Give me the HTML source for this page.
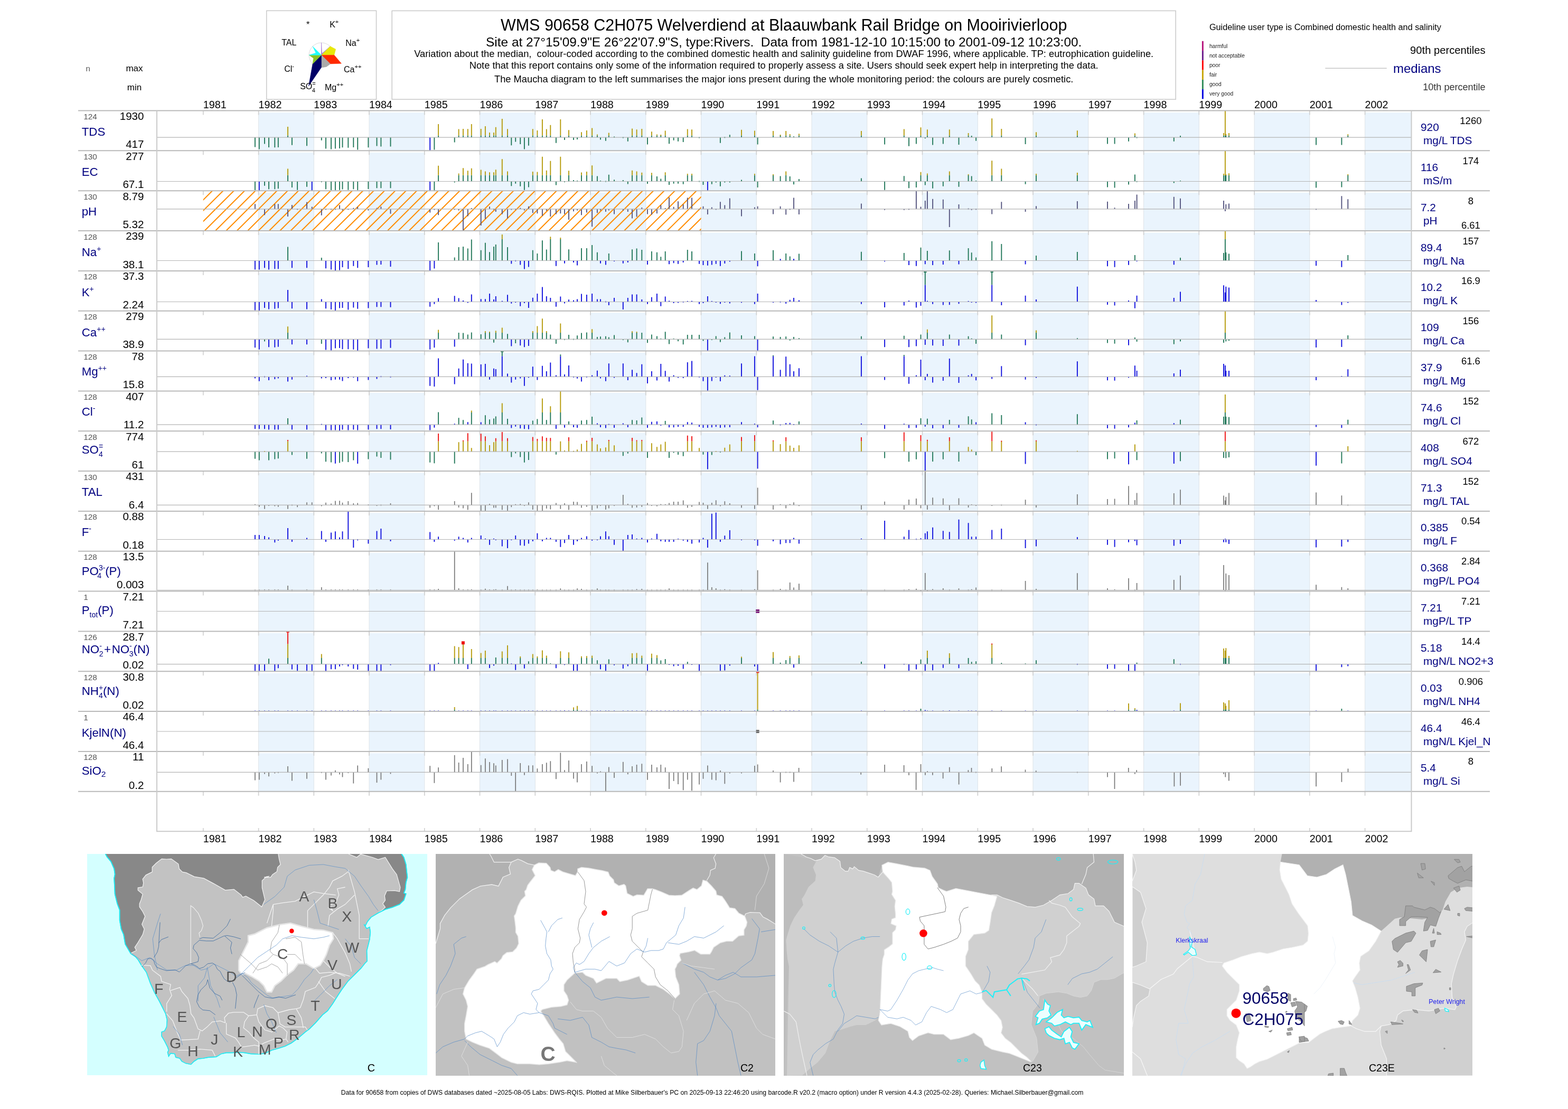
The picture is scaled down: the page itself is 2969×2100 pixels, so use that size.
<!DOCTYPE html><html><head><meta charset="utf-8"><title>WMS 90658 C2H075</title><style>html,body{margin:0;padding:0;background:#fff;overflow:hidden}svg{display:block}</style></head><body>
<svg width="2969" height="2100" viewBox="0 0 2969 2100" font-family="Liberation Sans, Arial, sans-serif">
<rect width="100%" height="100%" fill="#fff"/>
<rect x="489.6" y="213.0" width="104.7" height="72.3" fill="#eaf4fd"/>
<rect x="699.0" y="213.0" width="104.8" height="72.3" fill="#eaf4fd"/>
<rect x="908.5" y="213.0" width="104.8" height="72.3" fill="#eaf4fd"/>
<rect x="1118.0" y="213.0" width="104.8" height="72.3" fill="#eaf4fd"/>
<rect x="1327.5" y="213.0" width="104.8" height="72.3" fill="#eaf4fd"/>
<rect x="1537.0" y="213.0" width="104.8" height="72.3" fill="#eaf4fd"/>
<rect x="1746.5" y="213.0" width="104.8" height="72.3" fill="#eaf4fd"/>
<rect x="1956.0" y="213.0" width="104.8" height="72.3" fill="#eaf4fd"/>
<rect x="2165.6" y="213.0" width="104.8" height="72.3" fill="#eaf4fd"/>
<rect x="2375.1" y="213.0" width="104.8" height="72.3" fill="#eaf4fd"/>
<rect x="2584.6" y="213.0" width="87.9" height="72.3" fill="#eaf4fd"/>
<rect x="489.6" y="288.8" width="104.7" height="72.3" fill="#eaf4fd"/>
<rect x="699.0" y="288.8" width="104.8" height="72.3" fill="#eaf4fd"/>
<rect x="908.5" y="288.8" width="104.8" height="72.3" fill="#eaf4fd"/>
<rect x="1118.0" y="288.8" width="104.8" height="72.3" fill="#eaf4fd"/>
<rect x="1327.5" y="288.8" width="104.8" height="72.3" fill="#eaf4fd"/>
<rect x="1537.0" y="288.8" width="104.8" height="72.3" fill="#eaf4fd"/>
<rect x="1746.5" y="288.8" width="104.8" height="72.3" fill="#eaf4fd"/>
<rect x="1956.0" y="288.8" width="104.8" height="72.3" fill="#eaf4fd"/>
<rect x="2165.6" y="288.8" width="104.8" height="72.3" fill="#eaf4fd"/>
<rect x="2375.1" y="288.8" width="104.8" height="72.3" fill="#eaf4fd"/>
<rect x="2584.6" y="288.8" width="87.9" height="72.3" fill="#eaf4fd"/>
<rect x="489.6" y="364.7" width="104.7" height="72.3" fill="#eaf4fd"/>
<rect x="699.0" y="364.7" width="104.8" height="72.3" fill="#eaf4fd"/>
<rect x="908.5" y="364.7" width="104.8" height="72.3" fill="#eaf4fd"/>
<rect x="1118.0" y="364.7" width="104.8" height="72.3" fill="#eaf4fd"/>
<rect x="1327.5" y="364.7" width="104.8" height="72.3" fill="#eaf4fd"/>
<rect x="1537.0" y="364.7" width="104.8" height="72.3" fill="#eaf4fd"/>
<rect x="1746.5" y="364.7" width="104.8" height="72.3" fill="#eaf4fd"/>
<rect x="1956.0" y="364.7" width="104.8" height="72.3" fill="#eaf4fd"/>
<rect x="2165.6" y="364.7" width="104.8" height="72.3" fill="#eaf4fd"/>
<rect x="2375.1" y="364.7" width="104.8" height="72.3" fill="#eaf4fd"/>
<rect x="2584.6" y="364.7" width="87.9" height="72.3" fill="#eaf4fd"/>
<rect x="489.6" y="440.5" width="104.7" height="72.3" fill="#eaf4fd"/>
<rect x="699.0" y="440.5" width="104.8" height="72.3" fill="#eaf4fd"/>
<rect x="908.5" y="440.5" width="104.8" height="72.3" fill="#eaf4fd"/>
<rect x="1118.0" y="440.5" width="104.8" height="72.3" fill="#eaf4fd"/>
<rect x="1327.5" y="440.5" width="104.8" height="72.3" fill="#eaf4fd"/>
<rect x="1537.0" y="440.5" width="104.8" height="72.3" fill="#eaf4fd"/>
<rect x="1746.5" y="440.5" width="104.8" height="72.3" fill="#eaf4fd"/>
<rect x="1956.0" y="440.5" width="104.8" height="72.3" fill="#eaf4fd"/>
<rect x="2165.6" y="440.5" width="104.8" height="72.3" fill="#eaf4fd"/>
<rect x="2375.1" y="440.5" width="104.8" height="72.3" fill="#eaf4fd"/>
<rect x="2584.6" y="440.5" width="87.9" height="72.3" fill="#eaf4fd"/>
<rect x="489.6" y="516.4" width="104.7" height="72.3" fill="#eaf4fd"/>
<rect x="699.0" y="516.4" width="104.8" height="72.3" fill="#eaf4fd"/>
<rect x="908.5" y="516.4" width="104.8" height="72.3" fill="#eaf4fd"/>
<rect x="1118.0" y="516.4" width="104.8" height="72.3" fill="#eaf4fd"/>
<rect x="1327.5" y="516.4" width="104.8" height="72.3" fill="#eaf4fd"/>
<rect x="1537.0" y="516.4" width="104.8" height="72.3" fill="#eaf4fd"/>
<rect x="1746.5" y="516.4" width="104.8" height="72.3" fill="#eaf4fd"/>
<rect x="1956.0" y="516.4" width="104.8" height="72.3" fill="#eaf4fd"/>
<rect x="2165.6" y="516.4" width="104.8" height="72.3" fill="#eaf4fd"/>
<rect x="2375.1" y="516.4" width="104.8" height="72.3" fill="#eaf4fd"/>
<rect x="2584.6" y="516.4" width="87.9" height="72.3" fill="#eaf4fd"/>
<rect x="489.6" y="592.2" width="104.7" height="72.3" fill="#eaf4fd"/>
<rect x="699.0" y="592.2" width="104.8" height="72.3" fill="#eaf4fd"/>
<rect x="908.5" y="592.2" width="104.8" height="72.3" fill="#eaf4fd"/>
<rect x="1118.0" y="592.2" width="104.8" height="72.3" fill="#eaf4fd"/>
<rect x="1327.5" y="592.2" width="104.8" height="72.3" fill="#eaf4fd"/>
<rect x="1537.0" y="592.2" width="104.8" height="72.3" fill="#eaf4fd"/>
<rect x="1746.5" y="592.2" width="104.8" height="72.3" fill="#eaf4fd"/>
<rect x="1956.0" y="592.2" width="104.8" height="72.3" fill="#eaf4fd"/>
<rect x="2165.6" y="592.2" width="104.8" height="72.3" fill="#eaf4fd"/>
<rect x="2375.1" y="592.2" width="104.8" height="72.3" fill="#eaf4fd"/>
<rect x="2584.6" y="592.2" width="87.9" height="72.3" fill="#eaf4fd"/>
<rect x="489.6" y="668.0" width="104.7" height="72.3" fill="#eaf4fd"/>
<rect x="699.0" y="668.0" width="104.8" height="72.3" fill="#eaf4fd"/>
<rect x="908.5" y="668.0" width="104.8" height="72.3" fill="#eaf4fd"/>
<rect x="1118.0" y="668.0" width="104.8" height="72.3" fill="#eaf4fd"/>
<rect x="1327.5" y="668.0" width="104.8" height="72.3" fill="#eaf4fd"/>
<rect x="1537.0" y="668.0" width="104.8" height="72.3" fill="#eaf4fd"/>
<rect x="1746.5" y="668.0" width="104.8" height="72.3" fill="#eaf4fd"/>
<rect x="1956.0" y="668.0" width="104.8" height="72.3" fill="#eaf4fd"/>
<rect x="2165.6" y="668.0" width="104.8" height="72.3" fill="#eaf4fd"/>
<rect x="2375.1" y="668.0" width="104.8" height="72.3" fill="#eaf4fd"/>
<rect x="2584.6" y="668.0" width="87.9" height="72.3" fill="#eaf4fd"/>
<rect x="489.6" y="743.9" width="104.7" height="72.3" fill="#eaf4fd"/>
<rect x="699.0" y="743.9" width="104.8" height="72.3" fill="#eaf4fd"/>
<rect x="908.5" y="743.9" width="104.8" height="72.3" fill="#eaf4fd"/>
<rect x="1118.0" y="743.9" width="104.8" height="72.3" fill="#eaf4fd"/>
<rect x="1327.5" y="743.9" width="104.8" height="72.3" fill="#eaf4fd"/>
<rect x="1537.0" y="743.9" width="104.8" height="72.3" fill="#eaf4fd"/>
<rect x="1746.5" y="743.9" width="104.8" height="72.3" fill="#eaf4fd"/>
<rect x="1956.0" y="743.9" width="104.8" height="72.3" fill="#eaf4fd"/>
<rect x="2165.6" y="743.9" width="104.8" height="72.3" fill="#eaf4fd"/>
<rect x="2375.1" y="743.9" width="104.8" height="72.3" fill="#eaf4fd"/>
<rect x="2584.6" y="743.9" width="87.9" height="72.3" fill="#eaf4fd"/>
<rect x="489.6" y="819.7" width="104.7" height="72.3" fill="#eaf4fd"/>
<rect x="699.0" y="819.7" width="104.8" height="72.3" fill="#eaf4fd"/>
<rect x="908.5" y="819.7" width="104.8" height="72.3" fill="#eaf4fd"/>
<rect x="1118.0" y="819.7" width="104.8" height="72.3" fill="#eaf4fd"/>
<rect x="1327.5" y="819.7" width="104.8" height="72.3" fill="#eaf4fd"/>
<rect x="1537.0" y="819.7" width="104.8" height="72.3" fill="#eaf4fd"/>
<rect x="1746.5" y="819.7" width="104.8" height="72.3" fill="#eaf4fd"/>
<rect x="1956.0" y="819.7" width="104.8" height="72.3" fill="#eaf4fd"/>
<rect x="2165.6" y="819.7" width="104.8" height="72.3" fill="#eaf4fd"/>
<rect x="2375.1" y="819.7" width="104.8" height="72.3" fill="#eaf4fd"/>
<rect x="2584.6" y="819.7" width="87.9" height="72.3" fill="#eaf4fd"/>
<rect x="489.6" y="895.6" width="104.7" height="72.3" fill="#eaf4fd"/>
<rect x="699.0" y="895.6" width="104.8" height="72.3" fill="#eaf4fd"/>
<rect x="908.5" y="895.6" width="104.8" height="72.3" fill="#eaf4fd"/>
<rect x="1118.0" y="895.6" width="104.8" height="72.3" fill="#eaf4fd"/>
<rect x="1327.5" y="895.6" width="104.8" height="72.3" fill="#eaf4fd"/>
<rect x="1537.0" y="895.6" width="104.8" height="72.3" fill="#eaf4fd"/>
<rect x="1746.5" y="895.6" width="104.8" height="72.3" fill="#eaf4fd"/>
<rect x="1956.0" y="895.6" width="104.8" height="72.3" fill="#eaf4fd"/>
<rect x="2165.6" y="895.6" width="104.8" height="72.3" fill="#eaf4fd"/>
<rect x="2375.1" y="895.6" width="104.8" height="72.3" fill="#eaf4fd"/>
<rect x="2584.6" y="895.6" width="87.9" height="72.3" fill="#eaf4fd"/>
<rect x="489.6" y="971.4" width="104.7" height="72.3" fill="#eaf4fd"/>
<rect x="699.0" y="971.4" width="104.8" height="72.3" fill="#eaf4fd"/>
<rect x="908.5" y="971.4" width="104.8" height="72.3" fill="#eaf4fd"/>
<rect x="1118.0" y="971.4" width="104.8" height="72.3" fill="#eaf4fd"/>
<rect x="1327.5" y="971.4" width="104.8" height="72.3" fill="#eaf4fd"/>
<rect x="1537.0" y="971.4" width="104.8" height="72.3" fill="#eaf4fd"/>
<rect x="1746.5" y="971.4" width="104.8" height="72.3" fill="#eaf4fd"/>
<rect x="1956.0" y="971.4" width="104.8" height="72.3" fill="#eaf4fd"/>
<rect x="2165.6" y="971.4" width="104.8" height="72.3" fill="#eaf4fd"/>
<rect x="2375.1" y="971.4" width="104.8" height="72.3" fill="#eaf4fd"/>
<rect x="2584.6" y="971.4" width="87.9" height="72.3" fill="#eaf4fd"/>
<rect x="489.6" y="1047.2" width="104.7" height="72.3" fill="#eaf4fd"/>
<rect x="699.0" y="1047.2" width="104.8" height="72.3" fill="#eaf4fd"/>
<rect x="908.5" y="1047.2" width="104.8" height="72.3" fill="#eaf4fd"/>
<rect x="1118.0" y="1047.2" width="104.8" height="72.3" fill="#eaf4fd"/>
<rect x="1327.5" y="1047.2" width="104.8" height="72.3" fill="#eaf4fd"/>
<rect x="1537.0" y="1047.2" width="104.8" height="72.3" fill="#eaf4fd"/>
<rect x="1746.5" y="1047.2" width="104.8" height="72.3" fill="#eaf4fd"/>
<rect x="1956.0" y="1047.2" width="104.8" height="72.3" fill="#eaf4fd"/>
<rect x="2165.6" y="1047.2" width="104.8" height="72.3" fill="#eaf4fd"/>
<rect x="2375.1" y="1047.2" width="104.8" height="72.3" fill="#eaf4fd"/>
<rect x="2584.6" y="1047.2" width="87.9" height="72.3" fill="#eaf4fd"/>
<rect x="489.6" y="1123.1" width="104.7" height="72.3" fill="#eaf4fd"/>
<rect x="699.0" y="1123.1" width="104.8" height="72.3" fill="#eaf4fd"/>
<rect x="908.5" y="1123.1" width="104.8" height="72.3" fill="#eaf4fd"/>
<rect x="1118.0" y="1123.1" width="104.8" height="72.3" fill="#eaf4fd"/>
<rect x="1327.5" y="1123.1" width="104.8" height="72.3" fill="#eaf4fd"/>
<rect x="1537.0" y="1123.1" width="104.8" height="72.3" fill="#eaf4fd"/>
<rect x="1746.5" y="1123.1" width="104.8" height="72.3" fill="#eaf4fd"/>
<rect x="1956.0" y="1123.1" width="104.8" height="72.3" fill="#eaf4fd"/>
<rect x="2165.6" y="1123.1" width="104.8" height="72.3" fill="#eaf4fd"/>
<rect x="2375.1" y="1123.1" width="104.8" height="72.3" fill="#eaf4fd"/>
<rect x="2584.6" y="1123.1" width="87.9" height="72.3" fill="#eaf4fd"/>
<rect x="489.6" y="1198.9" width="104.7" height="72.3" fill="#eaf4fd"/>
<rect x="699.0" y="1198.9" width="104.8" height="72.3" fill="#eaf4fd"/>
<rect x="908.5" y="1198.9" width="104.8" height="72.3" fill="#eaf4fd"/>
<rect x="1118.0" y="1198.9" width="104.8" height="72.3" fill="#eaf4fd"/>
<rect x="1327.5" y="1198.9" width="104.8" height="72.3" fill="#eaf4fd"/>
<rect x="1537.0" y="1198.9" width="104.8" height="72.3" fill="#eaf4fd"/>
<rect x="1746.5" y="1198.9" width="104.8" height="72.3" fill="#eaf4fd"/>
<rect x="1956.0" y="1198.9" width="104.8" height="72.3" fill="#eaf4fd"/>
<rect x="2165.6" y="1198.9" width="104.8" height="72.3" fill="#eaf4fd"/>
<rect x="2375.1" y="1198.9" width="104.8" height="72.3" fill="#eaf4fd"/>
<rect x="2584.6" y="1198.9" width="87.9" height="72.3" fill="#eaf4fd"/>
<rect x="489.6" y="1274.8" width="104.7" height="72.3" fill="#eaf4fd"/>
<rect x="699.0" y="1274.8" width="104.8" height="72.3" fill="#eaf4fd"/>
<rect x="908.5" y="1274.8" width="104.8" height="72.3" fill="#eaf4fd"/>
<rect x="1118.0" y="1274.8" width="104.8" height="72.3" fill="#eaf4fd"/>
<rect x="1327.5" y="1274.8" width="104.8" height="72.3" fill="#eaf4fd"/>
<rect x="1537.0" y="1274.8" width="104.8" height="72.3" fill="#eaf4fd"/>
<rect x="1746.5" y="1274.8" width="104.8" height="72.3" fill="#eaf4fd"/>
<rect x="1956.0" y="1274.8" width="104.8" height="72.3" fill="#eaf4fd"/>
<rect x="2165.6" y="1274.8" width="104.8" height="72.3" fill="#eaf4fd"/>
<rect x="2375.1" y="1274.8" width="104.8" height="72.3" fill="#eaf4fd"/>
<rect x="2584.6" y="1274.8" width="87.9" height="72.3" fill="#eaf4fd"/>
<rect x="489.6" y="1350.6" width="104.7" height="72.3" fill="#eaf4fd"/>
<rect x="699.0" y="1350.6" width="104.8" height="72.3" fill="#eaf4fd"/>
<rect x="908.5" y="1350.6" width="104.8" height="72.3" fill="#eaf4fd"/>
<rect x="1118.0" y="1350.6" width="104.8" height="72.3" fill="#eaf4fd"/>
<rect x="1327.5" y="1350.6" width="104.8" height="72.3" fill="#eaf4fd"/>
<rect x="1537.0" y="1350.6" width="104.8" height="72.3" fill="#eaf4fd"/>
<rect x="1746.5" y="1350.6" width="104.8" height="72.3" fill="#eaf4fd"/>
<rect x="1956.0" y="1350.6" width="104.8" height="72.3" fill="#eaf4fd"/>
<rect x="2165.6" y="1350.6" width="104.8" height="72.3" fill="#eaf4fd"/>
<rect x="2375.1" y="1350.6" width="104.8" height="72.3" fill="#eaf4fd"/>
<rect x="2584.6" y="1350.6" width="87.9" height="72.3" fill="#eaf4fd"/>
<rect x="489.6" y="1426.4" width="104.7" height="72.3" fill="#eaf4fd"/>
<rect x="699.0" y="1426.4" width="104.8" height="72.3" fill="#eaf4fd"/>
<rect x="908.5" y="1426.4" width="104.8" height="72.3" fill="#eaf4fd"/>
<rect x="1118.0" y="1426.4" width="104.8" height="72.3" fill="#eaf4fd"/>
<rect x="1327.5" y="1426.4" width="104.8" height="72.3" fill="#eaf4fd"/>
<rect x="1537.0" y="1426.4" width="104.8" height="72.3" fill="#eaf4fd"/>
<rect x="1746.5" y="1426.4" width="104.8" height="72.3" fill="#eaf4fd"/>
<rect x="1956.0" y="1426.4" width="104.8" height="72.3" fill="#eaf4fd"/>
<rect x="2165.6" y="1426.4" width="104.8" height="72.3" fill="#eaf4fd"/>
<rect x="2375.1" y="1426.4" width="104.8" height="72.3" fill="#eaf4fd"/>
<rect x="2584.6" y="1426.4" width="87.9" height="72.3" fill="#eaf4fd"/>
<path d="M489.6 209.5V1498.8M594.3 209.5V1498.8M699.0 209.5V1498.8M803.8 209.5V1498.8M908.5 209.5V1498.8M1013.3 209.5V1498.8M1118.0 209.5V1498.8M1222.8 209.5V1498.8M1327.5 209.5V1498.8M1432.3 209.5V1498.8M1537.0 209.5V1498.8M1641.8 209.5V1498.8M1746.5 209.5V1498.8M1851.3 209.5V1498.8M1956.0 209.5V1498.8M2060.8 209.5V1498.8M2165.6 209.5V1498.8M2270.3 209.5V1498.8M2375.1 209.5V1498.8M2479.8 209.5V1498.8M2584.6 209.5V1498.8" stroke="#dde3e8" stroke-width="1" fill="none"/>
<path d="M384.8 209.5v8M489.6 209.5v8M594.3 209.5v8M699.0 209.5v8M803.8 209.5v8M908.5 209.5v8M1013.3 209.5v8M1118.0 209.5v8M1222.8 209.5v8M1327.5 209.5v8M1432.3 209.5v8M1537.0 209.5v8M1641.8 209.5v8M1746.5 209.5v8M1851.3 209.5v8M1956.0 209.5v8M2060.8 209.5v8M2165.6 209.5v8M2270.3 209.5v8M2375.1 209.5v8M2479.8 209.5v8M2584.6 209.5v8M384.8 285.3v8M489.6 285.3v8M594.3 285.3v8M699.0 285.3v8M803.8 285.3v8M908.5 285.3v8M1013.3 285.3v8M1118.0 285.3v8M1222.8 285.3v8M1327.5 285.3v8M1432.3 285.3v8M1537.0 285.3v8M1641.8 285.3v8M1746.5 285.3v8M1851.3 285.3v8M1956.0 285.3v8M2060.8 285.3v8M2165.6 285.3v8M2270.3 285.3v8M2375.1 285.3v8M2479.8 285.3v8M2584.6 285.3v8M384.8 361.2v8M489.6 361.2v8M594.3 361.2v8M699.0 361.2v8M803.8 361.2v8M908.5 361.2v8M1013.3 361.2v8M1118.0 361.2v8M1222.8 361.2v8M1327.5 361.2v8M1432.3 361.2v8M1537.0 361.2v8M1641.8 361.2v8M1746.5 361.2v8M1851.3 361.2v8M1956.0 361.2v8M2060.8 361.2v8M2165.6 361.2v8M2270.3 361.2v8M2375.1 361.2v8M2479.8 361.2v8M2584.6 361.2v8M384.8 437.0v8M489.6 437.0v8M594.3 437.0v8M699.0 437.0v8M803.8 437.0v8M908.5 437.0v8M1013.3 437.0v8M1118.0 437.0v8M1222.8 437.0v8M1327.5 437.0v8M1432.3 437.0v8M1537.0 437.0v8M1641.8 437.0v8M1746.5 437.0v8M1851.3 437.0v8M1956.0 437.0v8M2060.8 437.0v8M2165.6 437.0v8M2270.3 437.0v8M2375.1 437.0v8M2479.8 437.0v8M2584.6 437.0v8M384.8 512.9v8M489.6 512.9v8M594.3 512.9v8M699.0 512.9v8M803.8 512.9v8M908.5 512.9v8M1013.3 512.9v8M1118.0 512.9v8M1222.8 512.9v8M1327.5 512.9v8M1432.3 512.9v8M1537.0 512.9v8M1641.8 512.9v8M1746.5 512.9v8M1851.3 512.9v8M1956.0 512.9v8M2060.8 512.9v8M2165.6 512.9v8M2270.3 512.9v8M2375.1 512.9v8M2479.8 512.9v8M2584.6 512.9v8M384.8 588.7v8M489.6 588.7v8M594.3 588.7v8M699.0 588.7v8M803.8 588.7v8M908.5 588.7v8M1013.3 588.7v8M1118.0 588.7v8M1222.8 588.7v8M1327.5 588.7v8M1432.3 588.7v8M1537.0 588.7v8M1641.8 588.7v8M1746.5 588.7v8M1851.3 588.7v8M1956.0 588.7v8M2060.8 588.7v8M2165.6 588.7v8M2270.3 588.7v8M2375.1 588.7v8M2479.8 588.7v8M2584.6 588.7v8M384.8 664.5v8M489.6 664.5v8M594.3 664.5v8M699.0 664.5v8M803.8 664.5v8M908.5 664.5v8M1013.3 664.5v8M1118.0 664.5v8M1222.8 664.5v8M1327.5 664.5v8M1432.3 664.5v8M1537.0 664.5v8M1641.8 664.5v8M1746.5 664.5v8M1851.3 664.5v8M1956.0 664.5v8M2060.8 664.5v8M2165.6 664.5v8M2270.3 664.5v8M2375.1 664.5v8M2479.8 664.5v8M2584.6 664.5v8M384.8 740.4v8M489.6 740.4v8M594.3 740.4v8M699.0 740.4v8M803.8 740.4v8M908.5 740.4v8M1013.3 740.4v8M1118.0 740.4v8M1222.8 740.4v8M1327.5 740.4v8M1432.3 740.4v8M1537.0 740.4v8M1641.8 740.4v8M1746.5 740.4v8M1851.3 740.4v8M1956.0 740.4v8M2060.8 740.4v8M2165.6 740.4v8M2270.3 740.4v8M2375.1 740.4v8M2479.8 740.4v8M2584.6 740.4v8M384.8 816.2v8M489.6 816.2v8M594.3 816.2v8M699.0 816.2v8M803.8 816.2v8M908.5 816.2v8M1013.3 816.2v8M1118.0 816.2v8M1222.8 816.2v8M1327.5 816.2v8M1432.3 816.2v8M1537.0 816.2v8M1641.8 816.2v8M1746.5 816.2v8M1851.3 816.2v8M1956.0 816.2v8M2060.8 816.2v8M2165.6 816.2v8M2270.3 816.2v8M2375.1 816.2v8M2479.8 816.2v8M2584.6 816.2v8M384.8 892.1v8M489.6 892.1v8M594.3 892.1v8M699.0 892.1v8M803.8 892.1v8M908.5 892.1v8M1013.3 892.1v8M1118.0 892.1v8M1222.8 892.1v8M1327.5 892.1v8M1432.3 892.1v8M1537.0 892.1v8M1641.8 892.1v8M1746.5 892.1v8M1851.3 892.1v8M1956.0 892.1v8M2060.8 892.1v8M2165.6 892.1v8M2270.3 892.1v8M2375.1 892.1v8M2479.8 892.1v8M2584.6 892.1v8M384.8 967.9v8M489.6 967.9v8M594.3 967.9v8M699.0 967.9v8M803.8 967.9v8M908.5 967.9v8M1013.3 967.9v8M1118.0 967.9v8M1222.8 967.9v8M1327.5 967.9v8M1432.3 967.9v8M1537.0 967.9v8M1641.8 967.9v8M1746.5 967.9v8M1851.3 967.9v8M1956.0 967.9v8M2060.8 967.9v8M2165.6 967.9v8M2270.3 967.9v8M2375.1 967.9v8M2479.8 967.9v8M2584.6 967.9v8M384.8 1043.7v8M489.6 1043.7v8M594.3 1043.7v8M699.0 1043.7v8M803.8 1043.7v8M908.5 1043.7v8M1013.3 1043.7v8M1118.0 1043.7v8M1222.8 1043.7v8M1327.5 1043.7v8M1432.3 1043.7v8M1537.0 1043.7v8M1641.8 1043.7v8M1746.5 1043.7v8M1851.3 1043.7v8M1956.0 1043.7v8M2060.8 1043.7v8M2165.6 1043.7v8M2270.3 1043.7v8M2375.1 1043.7v8M2479.8 1043.7v8M2584.6 1043.7v8M384.8 1119.6v8M489.6 1119.6v8M594.3 1119.6v8M699.0 1119.6v8M803.8 1119.6v8M908.5 1119.6v8M1013.3 1119.6v8M1118.0 1119.6v8M1222.8 1119.6v8M1327.5 1119.6v8M1432.3 1119.6v8M1537.0 1119.6v8M1641.8 1119.6v8M1746.5 1119.6v8M1851.3 1119.6v8M1956.0 1119.6v8M2060.8 1119.6v8M2165.6 1119.6v8M2270.3 1119.6v8M2375.1 1119.6v8M2479.8 1119.6v8M2584.6 1119.6v8M384.8 1195.4v8M489.6 1195.4v8M594.3 1195.4v8M699.0 1195.4v8M803.8 1195.4v8M908.5 1195.4v8M1013.3 1195.4v8M1118.0 1195.4v8M1222.8 1195.4v8M1327.5 1195.4v8M1432.3 1195.4v8M1537.0 1195.4v8M1641.8 1195.4v8M1746.5 1195.4v8M1851.3 1195.4v8M1956.0 1195.4v8M2060.8 1195.4v8M2165.6 1195.4v8M2270.3 1195.4v8M2375.1 1195.4v8M2479.8 1195.4v8M2584.6 1195.4v8M384.8 1271.3v8M489.6 1271.3v8M594.3 1271.3v8M699.0 1271.3v8M803.8 1271.3v8M908.5 1271.3v8M1013.3 1271.3v8M1118.0 1271.3v8M1222.8 1271.3v8M1327.5 1271.3v8M1432.3 1271.3v8M1537.0 1271.3v8M1641.8 1271.3v8M1746.5 1271.3v8M1851.3 1271.3v8M1956.0 1271.3v8M2060.8 1271.3v8M2165.6 1271.3v8M2270.3 1271.3v8M2375.1 1271.3v8M2479.8 1271.3v8M2584.6 1271.3v8M384.8 1347.1v8M489.6 1347.1v8M594.3 1347.1v8M699.0 1347.1v8M803.8 1347.1v8M908.5 1347.1v8M1013.3 1347.1v8M1118.0 1347.1v8M1222.8 1347.1v8M1327.5 1347.1v8M1432.3 1347.1v8M1537.0 1347.1v8M1641.8 1347.1v8M1746.5 1347.1v8M1851.3 1347.1v8M1956.0 1347.1v8M2060.8 1347.1v8M2165.6 1347.1v8M2270.3 1347.1v8M2375.1 1347.1v8M2479.8 1347.1v8M2584.6 1347.1v8M384.8 1422.9v8M489.6 1422.9v8M594.3 1422.9v8M699.0 1422.9v8M803.8 1422.9v8M908.5 1422.9v8M1013.3 1422.9v8M1118.0 1422.9v8M1222.8 1422.9v8M1327.5 1422.9v8M1432.3 1422.9v8M1537.0 1422.9v8M1641.8 1422.9v8M1746.5 1422.9v8M1851.3 1422.9v8M1956.0 1422.9v8M2060.8 1422.9v8M2165.6 1422.9v8M2270.3 1422.9v8M2375.1 1422.9v8M2479.8 1422.9v8M2584.6 1422.9v8M384.8 1498.8v8M489.6 1498.8v8M594.3 1498.8v8M699.0 1498.8v8M803.8 1498.8v8M908.5 1498.8v8M1013.3 1498.8v8M1118.0 1498.8v8M1222.8 1498.8v8M1327.5 1498.8v8M1432.3 1498.8v8M1537.0 1498.8v8M1641.8 1498.8v8M1746.5 1498.8v8M1851.3 1498.8v8M1956.0 1498.8v8M2060.8 1498.8v8M2165.6 1498.8v8M2270.3 1498.8v8M2375.1 1498.8v8M2479.8 1498.8v8M2584.6 1498.8v8M384.8 1574v-6M489.6 1574v-6M594.3 1574v-6M699.0 1574v-6M803.8 1574v-6M908.5 1574v-6M1013.3 1574v-6M1118.0 1574v-6M1222.8 1574v-6M1327.5 1574v-6M1432.3 1574v-6M1537.0 1574v-6M1641.8 1574v-6M1746.5 1574v-6M1851.3 1574v-6M1956.0 1574v-6M2060.8 1574v-6M2165.6 1574v-6M2270.3 1574v-6M2375.1 1574v-6M2479.8 1574v-6M2584.6 1574v-6" stroke="#d2d2d2" stroke-width="1.8" fill="none"/>
<clipPath id="phc"><rect x="384.8" y="361.2" width="942.8" height="75.8"/></clipPath>
<path clip-path="url(#phc)" d="M265.2 437.0L341.0 361.2M285.5 437.0L361.4 361.2M305.9 437.0L381.8 361.2M326.3 437.0L402.1 361.2M346.7 437.0L422.5 361.2M367.0 437.0L442.9 361.2M387.4 437.0L463.2 361.2M407.8 437.0L483.6 361.2M428.1 437.0L504.0 361.2M448.5 437.0L524.4 361.2M468.9 437.0L544.7 361.2M489.2 437.0L565.1 361.2M509.6 437.0L585.5 361.2M530.0 437.0L605.8 361.2M550.4 437.0L626.2 361.2M570.7 437.0L646.6 361.2M591.1 437.0L666.9 361.2M611.5 437.0L687.3 361.2M631.8 437.0L707.7 361.2M652.2 437.0L728.1 361.2M672.6 437.0L748.4 361.2M693.0 437.0L768.8 361.2M713.3 437.0L789.2 361.2M733.7 437.0L809.5 361.2M754.1 437.0L829.9 361.2M774.4 437.0L850.3 361.2M794.8 437.0L870.6 361.2M815.2 437.0L891.0 361.2M835.5 437.0L911.4 361.2M855.9 437.0L931.8 361.2M876.3 437.0L952.1 361.2M896.7 437.0L972.5 361.2M917.0 437.0L992.9 361.2M937.4 437.0L1013.2 361.2M957.8 437.0L1033.6 361.2M978.1 437.0L1054.0 361.2M998.5 437.0L1074.3 361.2M1018.9 437.0L1094.7 361.2M1039.2 437.0L1115.1 361.2M1059.6 437.0L1135.4 361.2M1080.0 437.0L1155.8 361.2M1100.3 437.0L1176.2 361.2M1120.7 437.0L1196.6 361.2M1141.1 437.0L1216.9 361.2M1161.5 437.0L1237.3 361.2M1181.8 437.0L1257.7 361.2M1202.2 437.0L1278.0 361.2M1222.6 437.0L1298.4 361.2M1242.9 437.0L1318.8 361.2M1263.3 437.0L1339.1 361.2M1283.7 437.0L1359.5 361.2M1304.0 437.0L1379.9 361.2M1324.4 437.0L1400.3 361.2" stroke="#ff8c00" stroke-width="2" fill="none"/>
<path d="M482.9 260.1V278.6M490.8 260.1V282.5M501.0 260.1V272.5M509.0 260.1V279.1M520.3 260.1V279.3M526.8 260.1V279.1M545.0 260.1V256.6M552.9 260.1V274.8M581.0 260.1V276.3M608.8 260.1V265.7M617.0 260.1V281.6M627.0 260.1V282.5M634.9 260.1V281.6M643.0 260.1V280.9M648.5 260.1V279.3M659.3 260.1V279.7M669.3 260.1V279.1M677.2 260.1V283.6M697.4 260.1V279.3M713.5 260.1V276.6M721.4 260.1V277.5M739.5 260.1V277.5M822.4 260.1V283.6M830.1 260.1V256.6M860.7 260.1V269.5M868.6 260.1V256.6M877.0 260.1V256.6M885.8 260.1V256.6M892.8 260.1V256.6M910.7 260.1V256.6M918.9 260.1V256.6M927.0 260.1V256.6M935.0 260.1V256.6M938.8 260.1V256.6M950.8 260.1V256.6M961.0 260.1V256.6M968.3 260.1V275.2M976.2 260.1V268.4M985.2 260.1V272.9M992.9 260.1V282.5M1000.9 260.1V275.7M1008.8 260.1V256.6M1017.4 260.1V256.6M1026.9 260.1V256.6M1034.8 260.1V256.6M1042.3 260.1V256.6M1052.9 260.1V270.7M1061.3 260.1V256.6M1069.0 260.1V265.0M1077.0 260.1V256.6M1086.0 260.1V265.0M1093.0 260.1V263.9M1101.0 260.1V256.6M1110.9 260.1V256.6M1121.1 260.1V256.6M1130.9 260.1V256.6M1137.0 260.1V264.6M1146.9 260.1V266.8M1152.8 260.1V256.6M1163.0 258.5V260.5M1179.8 259.6V261.6M1188.8 260.1V267.7M1197.0 260.1V256.6M1205.6 260.1V256.6M1215.3 260.1V256.6M1226.0 260.1V273.4M1233.9 260.1V256.6M1243.9 260.1V256.6M1251.3 260.1V256.6M1259.7 260.1V256.6M1267.0 260.1V272.3M1275.6 260.1V265.7M1284.0 260.1V267.7M1293.7 260.1V269.1M1301.8 260.1V256.6M1310.0 260.1V256.6M1324.0 259.6V261.6M1363.9 260.1V270.7M1372.3 259.3V261.3M1381.8 260.1V255.3M1404.0 260.1V256.6M1428.9 260.1V256.6M1434.6 260.1V273.4M1464.0 260.1V256.6M1477.6 260.1V256.6M1488.2 260.1V256.6M1495.7 260.1V256.6M1503.0 260.1V258.2M1512.9 260.1V256.6M1630.9 260.1V256.6M1675.1 260.1V273.6M1711.8 260.1V256.6M1721.0 260.1V276.8M1734.9 260.1V272.5M1743.5 260.1V256.6M1751.8 260.1V262.3M1755.9 260.1V256.6M1766.1 260.1V274.5M1785.8 260.1V272.5M1797.8 260.1V256.6M1815.5 260.1V274.1M1833.6 260.1V256.6M1839.7 260.1V257.1M1848.1 260.1V266.8M1878.2 260.1V256.6M1896.3 260.1V256.6M1941.6 260.1V272.9M1962.0 260.1V256.6M2039.9 260.1V256.6M2097.0 260.1V272.6M2110.6 260.1V272.6M2137.0 260.1V267.7M2148.9 260.1V256.6M2152.6 259.6V261.6M2222.8 260.1V267.7M2235.0 260.1V257.0M2317.0 260.1V256.6M2319.9 260.1V256.6M2321.3 260.1V256.6M2327.0 260.1V256.6M2492.1 260.1V274.5M2540.4 260.1V274.5M2552.3 260.1V256.6M482.9 343.5V360.1M501.0 343.5V351.8M509.0 343.5V358.3M520.3 343.5V358.3M526.8 343.5V357.2M545.0 343.5V331.8M552.9 343.5V354.9M563.1 343.5V359.7M581.0 343.5V353.8M608.8 342.9V344.9M617.0 343.5V358.3M627.0 343.5V360.1M634.9 343.5V360.1M643.0 343.5V359.7M648.5 343.5V358.6M659.3 343.5V359.7M669.3 343.5V358.3M677.2 343.5V360.1M697.4 343.5V357.9M713.5 343.5V356.3M721.4 343.5V356.3M739.5 343.5V356.3M822.4 343.5V360.8M830.1 343.5V331.8M860.7 343.5V345.4M868.6 343.5V331.8M877.0 343.5V331.8M885.8 343.5V331.8M892.8 343.5V331.8M910.7 343.5V331.8M918.9 343.5V331.8M927.0 343.5V331.8M935.0 343.5V331.8M938.8 343.5V331.8M950.8 343.5V331.8M961.0 343.5V331.8M968.3 343.5V352.2M976.2 343.5V347.7M985.2 343.5V352.7M992.9 343.5V359.7M1000.9 343.5V354.5M1008.8 343.5V331.8M1017.4 343.5V331.8M1026.9 343.5V331.8M1034.8 343.5V331.8M1042.3 343.5V331.8M1052.9 343.5V350.6M1061.3 343.5V331.8M1069.0 342.9V344.9M1077.0 343.5V331.8M1086.0 343.5V340.9M1093.0 342.1V344.1M1101.0 343.5V331.8M1110.9 343.5V331.8M1121.1 343.5V331.8M1130.9 343.5V333.6M1137.0 341.9V343.9M1146.9 342.6V344.6M1152.8 343.5V330.7M1163.0 343.5V340.2M1179.8 343.5V340.9M1188.8 343.5V348.4M1197.0 343.5V331.8M1205.6 343.5V331.8M1215.3 343.5V331.8M1226.0 343.5V348.1M1233.9 343.5V331.8M1243.9 343.5V334.1M1251.3 343.5V338.6M1259.7 343.5V331.8M1267.0 343.5V349.9M1275.6 343.5V347.7M1284.0 343.5V347.7M1293.7 343.5V348.8M1301.8 343.5V331.8M1310.0 343.5V331.8M1324.0 342.6V344.6M1331.5 343.5V349.9M1347.8 343.5V348.8M1355.7 343.5V345.4M1363.9 343.5V352.7M1372.3 343.5V345.4M1381.8 343.5V345.4M1404.0 343.5V340.4M1428.9 343.5V331.8M1434.6 343.5V354.9M1464.0 343.5V331.8M1477.6 343.5V333.6M1488.2 343.5V331.8M1495.7 343.5V334.1M1503.0 343.5V349.3M1512.9 343.5V339.1M1630.9 343.5V337.5M1675.1 343.5V359.7M1711.8 343.5V333.2M1721.0 343.5V356.3M1734.9 343.5V354.9M1743.5 343.5V331.8M1751.8 343.5V350.6M1755.9 343.5V331.8M1766.1 343.5V356.7M1785.8 343.5V352.7M1797.8 343.5V331.8M1815.5 343.5V353.8M1833.6 343.5V331.8M1839.7 343.5V333.6M1848.1 341.9V343.9M1878.2 343.5V331.8M1896.3 343.5V331.8M1941.6 343.5V348.8M1962.0 343.5V331.8M2039.9 343.5V331.8M2097.0 343.5V354.5M2110.6 343.5V355.5M2137.0 343.5V349.4M2148.9 343.5V330.6M2152.6 342.8V344.8M2222.8 343.5V346.5M2235.0 341.9V343.9M2317.0 343.5V331.8M2319.9 343.5V331.8M2321.3 343.5V331.8M2327.0 343.5V331.8M2492.1 343.5V355.5M2540.4 343.5V354.5M2552.3 343.5V331.8M509.0 1257.6V1247.2M545.0 1257.6V1246.0M608.8 1257.6V1246.0M860.7 1257.6V1246.0M868.6 1257.6V1246.0M877.0 1257.6V1246.0M892.8 1257.6V1246.0M910.7 1257.6V1246.0M918.9 1257.6V1246.0M938.8 1257.6V1245.0M950.8 1257.6V1246.0M961.0 1257.6V1246.0M985.2 1257.6V1246.0M1000.9 1257.6V1252.2M1008.8 1257.6V1246.0M1017.4 1257.6V1246.0M1026.9 1257.6V1246.0M1034.8 1257.6V1246.0M1042.3 1256.0V1258.0M1061.3 1257.6V1246.0M1077.0 1257.6V1246.0M1101.0 1257.6V1246.0M1110.9 1257.6V1246.0M1121.1 1257.6V1246.0M1130.9 1257.6V1250.2M1152.8 1257.6V1248.4M1197.0 1257.6V1246.0M1205.6 1257.6V1246.0M1215.3 1257.6V1246.0M1233.9 1257.6V1246.0M1243.9 1257.6V1246.0M1251.3 1257.6V1250.6M1259.7 1257.6V1247.9M1301.8 1257.6V1253.3M1404.0 1257.6V1246.0M1464.0 1257.6V1246.0M1477.6 1257.6V1254.7M1488.2 1257.6V1249.9M1495.7 1257.6V1246.0M1512.9 1257.6V1246.0M1630.9 1257.6V1252.9M1743.5 1257.6V1248.8M1755.9 1257.6V1246.0M1797.8 1257.6V1246.0M1833.6 1257.6V1246.1M1839.7 1257.6V1253.3M1848.1 1257.6V1252.2M1878.2 1257.6V1246.0M1896.3 1257.6V1255.2M1941.6 1256.3V1258.3M1962.0 1257.6V1250.2M2152.6 1257.6V1254.8M2222.8 1257.6V1248.2M2317.0 1257.6V1246.0M2319.9 1257.6V1246.0M2321.3 1257.6V1246.0M2327.0 1257.6V1246.0M860.7 1347.1V1343.4M1086.0 1347.1V1343.4M1093.0 1347.1V1343.4M1434.6 1347.1V1343.4M1743.5 1347.1V1341.9M2137.0 1347.1V1343.4M2148.9 1347.1V1343.4M2235.0 1347.1V1343.4M2317.0 1347.1V1343.4M2319.9 1347.1V1343.4M2321.3 1347.1V1343.4M2327.0 1347.1V1343.4M2540.4 1347.1V1341.9M545.0 493.5V467.4M608.8 493.5V488.0M830.1 493.5V459.0M860.7 493.5V487.4M868.6 493.5V468.1M877.0 493.5V467.0M885.8 493.5V470.4M892.8 493.5V453.4M910.7 493.5V473.8M918.9 493.5V459.7M927.0 493.5V477.2M935.0 493.5V467.0M938.8 493.5V462.9M950.8 493.5V453.0M961.0 493.5V468.1M1008.8 493.5V473.8M1017.4 493.5V480.1M1026.9 493.5V455.2M1034.8 493.5V472.6M1042.3 493.5V453.0M1061.3 493.5V453.0M1077.0 493.5V472.2M1101.0 493.5V469.9M1110.9 493.5V469.9M1121.1 493.5V464.0M1130.9 493.5V477.8M1152.8 493.5V480.1M1197.0 493.5V472.2M1205.6 493.5V470.4M1215.3 493.5V473.1M1233.9 493.5V476.0M1243.9 493.5V477.8M1251.3 493.5V486.2M1259.7 493.5V476.0M1301.8 493.5V473.1M1310.0 493.5V476.0M1404.0 493.5V475.6M1428.9 493.5V479.9M1464.0 493.5V473.8M1488.2 493.5V479.9M1495.7 493.5V485.5M1512.9 493.5V480.6M1630.9 493.5V476.7M1711.8 493.5V479.0M1743.5 493.5V468.8M1755.9 493.5V474.9M1797.8 493.5V474.2M1833.6 493.5V469.9M1839.7 493.5V478.3M1848.1 493.5V487.4M1878.2 493.5V456.8M1896.3 493.5V462.0M1962.0 493.5V484.0M2039.9 493.5V476.9M2148.9 493.5V483.0M2235.0 493.5V487.9M2317.0 493.5V478.9M2319.9 493.5V453.0M2321.3 493.5V478.1M2327.0 493.5V480.6M2552.3 493.5V483.0M1751.8 539.4V514.5M1749.1 515.3H1754.5M1878.2 539.4V514.5M1875.5 515.3H1880.9M501.0 642.4V646.6M545.0 642.4V630.0M608.8 642.4V650.9M830.1 642.4V630.0M868.6 642.4V630.0M877.0 642.4V630.5M885.8 642.4V633.4M892.8 642.4V629.4M910.7 642.4V633.0M918.9 642.4V630.0M927.0 642.4V630.0M935.0 642.4V648.8M938.8 642.4V630.0M950.8 642.4V630.0M961.0 642.4V632.3M976.2 642.4V650.0M1008.8 642.4V630.0M1017.4 642.4V630.0M1026.9 642.4V630.0M1034.8 642.4V630.0M1042.3 642.4V633.4M1052.9 642.4V650.9M1061.3 642.4V630.0M1069.0 641.8V643.8M1077.0 642.4V633.9M1086.0 641.4V643.4M1093.0 642.4V635.2M1101.0 642.4V630.5M1110.9 642.4V629.4M1121.1 642.4V630.0M1130.9 642.4V638.0M1137.0 642.4V637.3M1146.9 642.4V636.8M1152.8 642.4V638.4M1163.0 642.4V634.6M1179.8 642.0V644.0M1188.8 642.4V648.2M1197.0 642.4V630.0M1205.6 642.4V630.0M1215.3 642.4V630.0M1226.0 642.4V649.3M1233.9 642.4V633.4M1243.9 642.4V636.4M1251.3 641.1V643.1M1259.7 642.4V628.2M1267.0 642.4V651.6M1275.6 641.1V643.1M1284.0 642.4V646.3M1293.7 642.4V652.2M1301.8 642.4V633.9M1310.0 642.4V633.9M1324.0 642.4V633.9M1331.5 642.4V645.4M1347.8 642.0V644.0M1355.7 642.4V636.4M1363.9 642.4V647.7M1372.3 642.4V638.4M1381.8 642.4V629.4M1404.0 642.4V635.0M1428.9 642.4V636.4M1464.0 642.4V637.3M1477.6 642.4V638.0M1488.2 642.4V637.3M1495.7 642.4V644.8M1503.0 642.4V638.0M1512.9 642.4V640.2M1630.9 642.4V636.8M1711.8 642.4V635.7M1743.5 642.4V633.4M1755.9 642.4V630.0M1797.8 642.4V633.4M1833.6 642.4V636.8M1839.7 640.7V642.7M1848.1 642.4V650.9M1878.2 642.4V630.0M1896.3 642.4V633.4M1962.0 642.4V630.0M2039.9 642.4V640.3M2097.0 642.4V649.6M2110.6 642.4V650.8M2148.9 642.4V639.1M2152.6 642.4V647.1M2222.8 642.4V651.8M2235.0 642.4V646.4M2317.0 642.4V648.9M2319.9 642.4V630.0M2321.3 642.4V646.4M2327.0 642.4V645.2M2552.3 642.4V635.0M950.8 674.6V665.1M948.1 665.9H953.5M1061.3 674.6V671.2M1464.0 672.8V674.8M1711.8 674.6V671.9M545.0 804.1V791.9M830.1 804.1V780.6M868.6 804.1V791.2M877.0 804.1V795.3M892.8 804.1V781.0M918.9 804.1V786.2M927.0 804.1V794.2M935.0 804.1V792.4M938.8 804.1V788.5M950.8 804.1V781.0M961.0 804.1V793.0M1008.8 804.1V796.4M1017.4 804.1V793.5M1026.9 804.1V781.0M1034.8 804.1V795.3M1042.3 804.1V781.0M1061.3 804.1V781.0M1077.0 804.1V798.0M1101.0 804.1V796.2M1110.9 804.1V795.3M1121.1 804.1V789.0M1197.0 804.1V795.3M1205.6 804.1V796.0M1215.3 804.1V790.5M1259.7 804.1V796.9M1464.0 804.1V796.2M1512.9 804.1V798.0M1743.5 804.1V791.9M1755.9 804.1V792.8M1797.8 804.1V795.1M1833.6 804.1V788.3M1839.7 804.1V794.2M1878.2 804.1V782.6M1896.3 804.1V786.0M2039.9 804.1V784.2M2152.6 804.1V795.9M2235.0 804.1V794.7M2317.0 804.1V789.0M2319.9 804.1V781.0M2321.3 804.1V789.0M2327.0 804.1V789.8M2552.3 804.1V794.7M482.9 855.2V868.7M490.8 855.2V871.6M509.0 855.2V871.6M520.3 855.2V869.4M526.8 855.2V868.2M552.9 855.2V861.4M581.0 855.2V868.7M608.8 855.2V858.5M617.0 855.2V874.3M627.0 855.2V875.5M643.0 855.2V876.6M648.5 855.2V874.3M659.3 855.2V875.0M669.3 855.2V871.6M697.4 855.2V869.4M713.5 855.2V864.4M721.4 855.2V867.1M739.5 855.2V870.5M814.2 855.2V875.7M822.4 855.2V877.3M860.7 855.2V877.7M968.3 855.2V865.5M976.2 855.2V858.5M985.2 855.2V865.5M992.9 855.2V875.7M1000.9 855.2V870.9M1052.9 855.2V860.8M1179.8 855.2V863.2M1188.8 855.2V858.7M1226.0 855.2V867.1M1267.0 855.2V867.1M1275.6 855.2V857.6M1284.0 855.2V861.0M1293.7 855.2V863.7M1331.5 855.2V860.8M1347.8 855.2V861.4M1363.9 854.7V856.7M1675.1 855.2V867.5M1721.0 855.2V874.3M1734.9 855.2V869.8M1766.1 855.2V873.9M1785.8 855.2V869.8M1815.5 855.2V873.9M1848.1 855.2V861.9M2097.0 855.2V869.5M2110.6 855.2V868.3M2152.6 855.2V871.2M2235.0 855.2V873.2M2317.0 855.2V867.1M2321.3 855.2V867.6M2327.0 855.2V865.9M2540.4 855.2V877.6" stroke="#23785a" stroke-width="1.9" fill="none"/>
<path d="M545.0 256.6V240.1M830.1 256.6V235.1M868.6 256.6V244.6M877.0 256.6V244.0M885.8 256.6V244.2M892.8 256.6V235.1M910.7 256.6V244.0M918.9 256.6V239.0M927.0 256.6V251.0M935.0 256.6V251.0M938.8 256.6V240.8M950.8 256.6V224.9M961.0 256.6V244.2M1008.8 256.6V244.2M1017.4 256.6V246.9M1026.9 256.6V226.1M1034.8 256.6V244.6M1042.3 256.6V236.7M1061.3 256.6V226.1M1077.0 256.6V246.2M1101.0 256.6V250.3M1110.9 256.6V246.9M1121.1 256.6V242.4M1130.9 256.6V254.4M1152.8 256.6V251.4M1197.0 256.6V243.5M1205.6 256.6V245.3M1215.3 256.6V244.0M1233.9 256.6V249.2M1243.9 256.6V254.4M1251.3 254.9V256.9M1259.7 256.6V247.4M1301.8 256.6V244.6M1310.0 256.6V245.3M1404.0 256.6V245.8M1428.9 256.6V247.4M1464.0 256.6V248.0M1477.6 254.9V256.9M1488.2 256.6V248.0M1495.7 256.6V254.1M1512.9 256.6V253.2M1630.9 256.6V248.0M1711.8 256.6V244.6M1743.5 256.6V241.2M1755.9 256.6V245.3M1797.8 256.6V245.3M1833.6 256.6V252.1M1878.2 256.6V224.3M1896.3 256.6V244.0M1962.0 256.6V250.3M2039.9 256.6V247.2M2148.9 256.6V252.6M2317.0 256.6V252.1M2319.9 256.6V209.9M2321.3 256.6V253.8M2327.0 256.6V252.1M2552.3 256.6V254.3M545.0 331.8V319.4M830.1 331.8V313.7M868.6 331.8V328.4M877.0 331.8V318.2M885.8 331.8V323.2M892.8 331.8V318.7M910.7 331.8V321.6M918.9 331.8V324.4M927.0 331.8V326.2M935.0 331.8V326.2M938.8 331.8V321.2M950.8 331.8V301.3M961.0 331.8V324.4M1008.8 331.8V325.0M1017.4 331.8V325.5M1026.9 331.8V296.7M1034.8 331.8V322.8M1042.3 331.8V304.7M1061.3 331.8V296.7M1077.0 331.8V323.2M1101.0 331.8V326.6M1110.9 331.8V325.0M1121.1 331.8V313.3M1197.0 331.8V322.8M1205.6 331.8V324.6M1215.3 331.8V326.8M1233.9 331.8V327.3M1259.7 331.8V326.2M1301.8 331.8V329.1M1310.0 331.8V329.1M1428.9 331.8V329.1M1464.0 329.9V331.9M1488.2 331.8V324.6M1743.5 331.8V325.7M1755.9 331.8V328.4M1797.8 331.8V324.4M1833.6 329.9V331.9M1878.2 331.8V304.2M1896.3 331.8V319.4M1962.0 331.8V329.1M2039.9 331.8V327.0M2317.0 331.8V328.9M2319.9 331.8V286.0M2321.3 330.2V332.2M2327.0 331.8V328.2M2552.3 330.0V332.0M545.0 1246.0V1219.4M608.8 1246.0V1238.6M860.7 1246.0V1223.4M868.6 1246.0V1225.3M877.0 1246.0V1220.0M892.8 1246.0V1229.1M910.7 1246.0V1236.4M918.9 1246.0V1232.1M950.8 1246.0V1233.6M961.0 1246.0V1221.9M985.2 1246.0V1243.1M1008.8 1246.0V1238.6M1017.4 1246.0V1243.1M1026.9 1246.0V1231.4M1034.8 1246.0V1241.6M1061.3 1246.0V1233.2M1077.0 1246.0V1235.2M1101.0 1246.0V1242.7M1110.9 1246.0V1242.2M1121.1 1246.0V1241.6M1197.0 1246.0V1237.0M1205.6 1246.0V1236.4M1215.3 1246.0V1241.6M1233.9 1246.0V1237.7M1243.9 1246.0V1240.4M1404.0 1246.0V1243.4M1464.0 1246.0V1234.8M1495.7 1246.0V1242.2M1512.9 1246.0V1240.9M1755.9 1246.0V1232.1M1797.8 1246.0V1237.0M1878.2 1246.0V1219.4M2317.0 1246.0V1228.0M2319.9 1246.0V1232.1M2321.3 1246.0V1227.2M2327.0 1246.0V1241.9M860.7 1343.4V1339.0M1086.0 1343.4V1339.6M1093.0 1343.4V1336.7M1434.6 1343.4V1273.3M2137.0 1343.4V1332.1M2148.9 1343.4V1340.9M2235.0 1343.4V1331.6M2317.0 1343.4V1329.9M2319.9 1343.4V1332.1M2321.3 1343.4V1336.5M2327.0 1343.4V1326.0M950.8 453.0V443.9M1042.3 453.0V448.2M1061.3 453.0V450.0M2319.9 453.0V437.9M545.0 630.0V618.3M830.1 630.0V624.4M918.9 630.0V627.1M927.0 628.1V630.1M938.8 630.0V626.2M950.8 630.0V620.5M1008.8 630.0V627.1M1017.4 630.0V617.6M1026.9 630.0V603.3M1034.8 630.0V627.1M1061.3 630.0V612.4M1121.1 630.0V623.2M1197.0 630.0V627.3M1205.6 628.1V630.1M1755.9 630.0V623.7M1878.2 630.0V597.2M1962.0 630.0V625.5M2319.9 630.0V589.1M892.8 781.0V777.6M950.8 781.0V763.4M1026.9 781.0V754.5M1042.3 781.0V769.3M1061.3 781.0V740.9M2319.9 781.0V746.9M501.0 853.9V855.9M545.0 855.2V835.4M830.1 855.2V835.4M868.6 855.2V837.2M877.0 855.2V835.4M885.8 855.2V835.4M892.8 855.2V848.3M910.7 855.2V835.4M918.9 855.2V835.4M927.0 855.2V842.9M935.0 855.2V837.2M938.8 855.2V835.4M950.8 855.2V835.4M961.0 855.2V835.4M1008.8 855.2V835.4M1017.4 855.2V835.4M1026.9 855.2V835.4M1034.8 855.2V835.4M1042.3 855.2V835.4M1061.3 855.2V835.8M1069.0 855.2V853.1M1077.0 855.2V835.4M1086.0 853.7V855.7M1093.0 855.2V851.2M1101.0 855.2V840.4M1110.9 855.2V835.4M1121.1 855.2V835.4M1130.9 855.2V841.5M1137.0 855.2V849.0M1146.9 855.2V847.2M1152.8 855.2V835.4M1163.0 855.2V843.3M1197.0 855.2V835.4M1205.6 855.2V835.4M1215.3 855.2V835.4M1233.9 855.2V839.2M1243.9 855.2V846.3M1251.3 855.2V841.5M1259.7 855.2V836.5M1301.8 855.2V835.4M1310.0 855.2V835.4M1324.0 855.2V848.3M1355.7 853.9V855.9M1372.3 855.2V847.8M1381.8 855.2V841.5M1404.0 855.2V835.4M1428.9 855.2V835.4M1464.0 855.2V835.4M1477.6 855.2V841.1M1488.2 855.2V835.4M1495.7 855.2V843.8M1503.0 855.2V848.1M1512.9 855.2V843.3M1630.9 855.2V835.4M1711.8 855.2V835.4M1743.5 855.2V835.4M1755.9 855.2V835.4M1797.8 855.2V835.4M1833.6 855.2V846.3M1839.7 855.2V851.2M1878.2 855.2V835.4M1896.3 855.2V835.4M1962.0 855.2V835.4M2039.9 853.7V855.7M2148.9 855.2V841.5M2319.9 855.2V835.4M2552.3 855.2V845.1" stroke="#b69b0c" stroke-width="1.9" fill="none"/>
<path d="M814.2 260.1V284.7M490.8 343.5V360.8M590.7 343.5V360.8M814.2 343.5V360.8M1339.9 343.5V360.8M482.9 1257.6V1271.0M490.8 1257.6V1271.0M501.0 1257.6V1271.0M520.3 1257.6V1271.0M526.8 1257.6V1265.3M552.9 1257.6V1267.6M563.1 1257.6V1270.6M581.0 1257.6V1270.6M590.7 1257.6V1270.6M617.0 1257.6V1271.0M627.0 1257.6V1267.2M634.9 1257.6V1267.2M643.0 1257.6V1261.9M648.5 1257.4V1259.4M659.3 1257.6V1261.9M669.3 1257.6V1266.5M677.2 1257.6V1268.1M697.4 1257.6V1271.0M713.5 1257.6V1271.0M721.4 1257.6V1271.0M739.5 1257.4V1259.4M814.2 1257.6V1271.0M822.4 1257.6V1271.0M830.1 1257.6V1255.2M885.8 1257.6V1266.9M927.0 1257.6V1264.9M935.0 1257.6V1260.4M968.3 1256.2V1258.2M976.2 1257.6V1268.7M992.9 1257.6V1265.8M1052.9 1257.6V1265.3M1069.0 1257.3V1259.3M1086.0 1257.6V1270.6M1093.0 1257.6V1270.6M1137.0 1257.6V1267.2M1146.9 1257.6V1270.6M1163.0 1257.6V1259.7M1179.8 1257.6V1266.0M1188.8 1257.6V1261.5M1226.0 1257.6V1269.9M1267.0 1257.0V1259.0M1275.6 1257.6V1261.5M1284.0 1257.6V1260.8M1293.7 1257.6V1266.5M1310.0 1256.9V1258.9M1324.0 1257.6V1270.6M1363.9 1257.6V1270.6M1372.3 1257.6V1269.4M1381.8 1257.6V1260.4M1428.9 1257.6V1261.9M1434.6 1257.6V1270.6M1503.0 1257.6V1264.2M1675.1 1257.6V1266.0M1711.8 1256.7V1258.7M1721.0 1257.6V1269.9M1734.9 1257.6V1267.6M1751.8 1257.6V1270.6M1766.1 1257.6V1269.2M1785.8 1257.6V1264.7M1815.5 1257.6V1265.3M2039.9 1256.8V1258.8M2097.0 1257.6V1266.5M2110.6 1257.6V1266.5M2137.0 1257.6V1270.7M2148.9 1257.6V1270.7M2235.0 1256.8V1258.8M2492.1 1257.6V1270.7M2540.4 1257.6V1263.3M2552.3 1257.6V1261.4M482.9 1345.6V1347.6M490.8 1345.6V1347.6M501.0 1345.6V1347.6M509.0 1345.6V1347.6M520.3 1345.6V1347.6M526.8 1345.6V1347.6M545.0 1345.6V1347.6M552.9 1345.6V1347.6M563.1 1345.6V1347.6M581.0 1345.6V1347.6M590.7 1345.6V1347.6M608.8 1345.6V1347.6M617.0 1345.6V1347.6M627.0 1345.6V1347.6M634.9 1345.6V1347.6M643.0 1345.6V1347.6M648.5 1345.6V1347.6M659.3 1345.6V1347.6M669.3 1345.6V1347.6M677.2 1345.6V1347.6M697.4 1345.6V1347.6M713.5 1345.6V1347.6M721.4 1345.6V1347.6M739.5 1345.6V1347.6M814.2 1345.6V1347.6M822.4 1345.6V1347.6M830.1 1345.6V1347.6M868.6 1345.6V1347.6M877.0 1345.6V1347.6M885.8 1345.6V1347.6M892.8 1345.6V1347.6M910.7 1345.6V1347.6M918.9 1345.6V1347.6M927.0 1345.6V1347.6M935.0 1345.6V1347.6M938.8 1345.6V1347.6M950.8 1345.6V1347.6M961.0 1345.6V1347.6M968.3 1345.6V1347.6M976.2 1345.6V1347.6M985.2 1345.6V1347.6M992.9 1345.6V1347.6M1000.9 1345.6V1347.6M1008.8 1345.6V1347.6M1017.4 1345.6V1347.6M1026.9 1345.6V1347.6M1034.8 1345.6V1347.6M1042.3 1345.6V1347.6M1052.9 1345.6V1347.6M1061.3 1345.6V1347.6M1069.0 1345.2V1347.2M1077.0 1345.6V1347.6M1101.0 1345.6V1347.6M1110.9 1345.6V1347.6M1121.1 1345.6V1347.6M1130.9 1345.6V1347.6M1137.0 1345.6V1347.6M1146.9 1345.6V1347.6M1152.8 1345.6V1347.6M1163.0 1345.6V1347.6M1179.8 1345.6V1347.6M1188.8 1345.6V1347.6M1197.0 1345.6V1347.6M1205.6 1345.6V1347.6M1215.3 1345.6V1347.6M1226.0 1345.6V1347.6M1233.9 1345.6V1347.6M1243.9 1345.6V1347.6M1251.3 1345.6V1347.6M1259.7 1345.6V1347.6M1267.0 1345.6V1347.6M1275.6 1345.6V1347.6M1284.0 1345.6V1347.6M1293.7 1345.6V1347.6M1301.8 1345.6V1347.6M1310.0 1345.6V1347.6M1324.0 1345.6V1347.6M1331.5 1345.6V1347.6M1339.9 1345.6V1347.6M1347.8 1345.6V1347.6M1355.7 1345.6V1347.6M1363.9 1345.6V1347.6M1372.3 1345.6V1347.6M1381.8 1345.6V1347.6M1404.0 1345.6V1347.6M1428.9 1345.6V1347.6M1464.0 1345.6V1347.6M1477.6 1345.6V1347.6M1488.2 1345.6V1347.6M1495.7 1345.6V1347.6M1503.0 1345.6V1347.6M1512.9 1345.6V1347.6M1630.9 1345.6V1347.6M1675.1 1345.6V1347.6M1711.8 1345.6V1347.6M1721.0 1345.6V1347.6M1734.9 1345.6V1347.6M1751.8 1347.1V1344.6M1755.9 1345.6V1347.6M1766.1 1345.6V1347.6M1785.8 1345.6V1347.6M1797.8 1345.2V1347.2M1815.5 1345.6V1347.6M1833.6 1345.6V1347.6M1839.7 1345.6V1347.6M1848.1 1345.6V1347.6M1878.2 1345.6V1347.6M1896.3 1345.6V1347.6M1941.6 1345.6V1347.6M1962.0 1345.6V1347.6M2039.9 1345.4V1347.4M2097.0 1345.4V1347.4M2110.6 1345.4V1347.4M2152.6 1347.1V1344.3M2222.8 1345.4V1347.4M2492.1 1345.4V1347.4M2552.3 1345.4V1347.4M482.9 493.5V510.5M490.8 493.5V510.5M501.0 493.5V507.3M509.0 493.5V510.5M520.3 493.5V509.3M526.8 493.5V509.3M552.9 493.5V507.3M581.0 493.5V507.3M617.0 493.5V508.2M627.0 493.5V510.5M634.9 493.5V512.3M643.0 493.5V511.6M648.5 493.5V505.9M659.3 493.5V509.3M669.3 493.5V503.7M677.2 493.5V507.3M697.4 493.5V505.9M713.5 493.5V501.4M721.4 493.5V500.9M739.5 493.5V505.0M814.2 493.5V512.3M822.4 493.5V508.4M968.3 493.5V499.4M976.2 492.7V494.7M985.2 493.5V501.6M992.9 493.5V509.6M1000.9 493.5V505.5M1052.9 493.5V503.7M1069.0 493.5V498.7M1086.0 493.5V496.9M1093.0 493.5V502.5M1137.0 493.5V498.7M1146.9 493.5V501.6M1163.0 493.0V495.0M1179.8 493.5V498.7M1188.8 493.5V496.9M1226.0 493.5V500.9M1267.0 493.5V500.3M1275.6 493.5V498.2M1284.0 493.5V499.8M1293.7 493.5V497.1M1324.0 493.5V499.8M1331.5 493.5V502.1M1339.9 493.5V502.8M1347.8 493.5V501.6M1355.7 493.5V499.8M1363.9 493.5V503.7M1372.3 493.5V499.1M1381.8 493.4V495.4M1434.6 493.5V504.3M1477.6 493.5V490.3M1503.0 493.5V490.1M1675.1 493.2V495.2M1721.0 493.5V502.1M1734.9 493.5V503.7M1751.8 493.5V500.3M1766.1 493.5V502.1M1785.8 493.5V500.9M1815.5 493.5V500.5M1941.6 493.5V500.5M2097.0 493.5V504.2M2110.6 493.5V505.7M2137.0 493.5V501.8M2152.6 493.0V495.0M2222.8 493.5V501.3M2492.1 493.5V503.2M2540.4 493.5V505.7M482.9 571.5V587.5M490.8 571.5V588.1M501.0 571.5V582.9M509.0 571.5V585.4M520.3 571.5V584.7M526.8 571.5V583.6M545.0 571.5V549.0M552.9 571.5V584.3M581.0 571.5V585.4M608.8 571.5V566.6M617.0 571.5V584.3M627.0 571.5V585.9M634.9 571.5V588.1M643.0 571.5V583.6M648.5 571.5V582.9M659.3 571.5V586.6M669.3 571.5V582.5M677.2 571.5V584.7M697.4 571.5V583.6M713.5 571.5V581.3M721.4 571.5V581.3M739.5 571.5V581.8M814.2 571.5V580.7M822.4 571.5V575.7M830.1 571.5V564.4M860.7 571.5V560.3M868.6 571.5V564.4M877.0 571.5V568.9M885.8 571.5V573.4M892.8 571.5V557.6M910.7 571.5V566.2M918.9 571.5V566.2M927.0 571.5V556.0M935.0 571.5V567.1M938.8 571.5V561.0M950.8 569.8V571.8M961.0 571.5V558.2M968.3 571.5V574.8M976.2 570.9V572.9M985.2 571.5V579.8M992.9 571.5V573.9M1000.9 571.5V582.9M1008.8 571.5V563.7M1017.4 571.5V556.0M1026.9 571.5V543.5M1034.8 571.5V561.0M1042.3 571.5V563.9M1052.9 571.5V580.7M1061.3 571.5V561.6M1069.0 571.5V574.6M1077.0 571.5V567.3M1086.0 571.5V568.4M1093.0 571.5V566.6M1101.0 571.5V556.4M1110.9 571.5V558.0M1121.1 571.5V556.0M1130.9 571.5V566.6M1137.0 571.5V566.6M1146.9 570.5V572.5M1152.8 571.5V577.9M1163.0 571.5V563.9M1179.8 571.5V585.9M1188.8 571.5V563.9M1197.0 571.5V557.6M1205.6 571.5V557.6M1215.3 571.5V567.1M1226.0 571.5V575.7M1233.9 571.5V562.8M1243.9 571.5V556.0M1251.3 571.5V579.8M1259.7 571.5V561.4M1267.0 571.5V569.6M1275.6 571.5V573.9M1284.0 571.5V573.4M1293.7 570.7V572.7M1301.8 569.9V571.9M1310.0 569.8V571.8M1324.0 571.5V575.7M1331.5 571.5V573.9M1339.9 571.5V561.0M1347.8 569.9V571.9M1355.7 570.9V572.9M1363.9 571.5V575.2M1372.3 571.0V573.0M1381.8 571.5V574.6M1404.0 571.2V573.2M1428.9 571.5V575.7M1434.6 571.5V556.0M1464.0 570.9V572.9M1477.6 570.7V572.7M1488.2 571.5V575.0M1495.7 571.5V567.8M1503.0 571.5V563.9M1512.9 571.5V568.4M1630.9 571.5V575.7M1675.1 571.5V582.0M1711.8 571.5V578.6M1721.0 571.5V569.3M1734.9 571.5V582.5M1743.5 571.5V579.1M1751.8 571.5V539.4M1755.9 569.8V571.8M1766.1 571.5V575.7M1785.8 571.5V577.5M1797.8 571.5V577.3M1815.5 571.5V575.2M1833.6 569.9V571.9M1839.7 570.9V572.9M1848.1 571.5V573.4M1878.2 571.5V539.4M1896.3 571.5V577.9M1941.6 571.5V559.8M1962.0 571.5V567.1M2039.9 571.5V542.8M2097.0 571.5V576.9M2110.6 571.5V578.6M2137.0 571.5V569.1M2148.9 571.5V583.7M2152.6 571.5V559.8M2222.8 571.5V564.0M2235.0 571.5V552.5M2317.0 571.5V540.3M2319.9 571.5V553.7M2321.3 571.5V542.8M2327.0 571.5V544.5M2492.1 571.5V567.9M2540.4 571.5V577.4M2552.3 571.4V573.4M482.9 642.4V658.3M490.8 642.4V661.7M509.0 642.4V657.2M520.3 642.4V657.7M526.8 642.4V656.8M552.9 642.4V652.2M581.0 642.4V652.2M617.0 642.4V662.4M627.0 642.4V663.6M634.9 642.4V659.5M643.0 642.4V659.0M648.5 642.4V661.3M659.3 642.4V661.3M669.3 642.4V661.7M677.2 642.4V664.0M697.4 642.4V659.5M713.5 642.4V660.6M721.4 642.4V660.2M739.5 642.4V658.8M814.2 642.4V661.7M822.4 642.4V658.3M860.7 642.4V656.5M968.3 642.4V655.4M985.2 642.4V654.3M992.9 642.4V657.2M1000.9 642.4V655.0M1339.9 642.4V664.0M1434.6 642.4V664.0M1675.1 642.4V657.2M1721.0 642.4V657.2M1734.9 642.4V655.4M1751.8 642.4V653.1M1766.1 642.4V654.3M1785.8 642.4V655.0M1815.5 642.4V654.5M1941.6 642.4V653.8M2137.0 642.4V653.7M2492.1 642.4V657.9M2540.4 642.4V656.9M482.9 713.4V716.5M490.8 713.4V721.7M501.0 712.5V714.5M509.0 713.4V719.9M520.3 713.4V718.1M526.8 713.4V716.5M545.0 713.4V722.6M552.9 713.4V718.8M581.0 713.4V711.5M608.8 713.4V716.5M617.0 713.4V716.0M627.0 713.4V719.9M634.9 713.4V718.8M643.0 713.4V718.8M648.5 713.4V721.5M659.3 713.4V716.0M669.3 713.1V715.1M677.2 713.4V721.7M697.4 713.4V719.4M713.5 713.4V717.6M721.4 712.3V714.3M739.5 712.8V714.8M814.2 713.4V730.8M822.4 713.4V731.9M830.1 713.4V678.4M860.7 713.4V727.4M868.6 713.4V697.7M877.0 713.4V680.7M885.8 713.4V687.7M892.8 713.4V688.6M910.7 713.4V690.0M918.9 713.4V688.9M927.0 713.4V718.8M935.0 713.4V697.7M938.8 713.4V699.0M950.8 713.4V674.6M961.0 713.4V707.4M968.3 713.4V724.4M976.2 713.4V718.8M985.2 713.4V716.5M992.9 713.4V730.8M1000.9 713.2V715.2M1008.8 713.4V694.3M1017.4 713.4V719.4M1026.9 713.4V692.7M1034.8 713.4V702.9M1042.3 713.4V686.4M1052.9 713.4V710.4M1061.3 713.4V674.6M1069.0 713.4V709.0M1077.0 713.4V692.0M1086.0 712.7V714.7M1093.0 713.4V716.7M1101.0 713.4V722.6M1110.9 712.7V714.7M1121.1 713.4V710.4M1130.9 713.4V701.8M1137.0 713.4V716.5M1146.9 713.4V721.7M1152.8 713.4V688.2M1163.0 713.4V715.4M1179.8 713.4V688.2M1188.8 713.4V719.9M1197.0 713.4V700.2M1205.6 713.4V706.3M1215.3 713.4V689.8M1226.0 713.4V726.0M1233.9 713.4V702.9M1243.9 713.4V720.6M1251.3 713.4V688.9M1259.7 713.4V702.2M1267.0 713.4V722.6M1275.6 713.4V710.4M1284.0 713.4V715.4M1293.7 713.4V716.0M1301.8 713.4V685.9M1310.0 713.4V683.6M1324.0 712.7V714.7M1331.5 713.4V721.7M1339.9 713.4V739.8M1347.8 713.4V721.5M1355.7 712.9V714.9M1363.9 713.4V722.1M1372.3 713.4V710.8M1381.8 713.4V711.3M1404.0 713.4V688.2M1428.9 713.4V674.6M1434.6 713.4V738.7M1464.0 713.4V674.6M1477.6 713.4V700.2M1488.2 713.4V675.3M1495.7 713.4V689.8M1503.0 713.4V702.9M1512.9 713.4V697.2M1630.9 713.4V674.6M1675.1 713.4V719.4M1711.8 713.4V674.6M1721.0 713.4V726.7M1734.9 713.4V710.4M1743.5 713.4V680.9M1751.8 713.4V719.9M1755.9 713.4V708.1M1766.1 713.4V724.4M1785.8 713.4V721.0M1797.8 713.4V679.1M1815.5 713.4V724.9M1833.6 713.4V710.8M1839.7 713.4V707.9M1848.1 713.4V720.3M1878.2 713.4V717.6M1896.3 713.4V693.2M1941.6 713.4V718.8M1962.0 713.4V715.4M2039.9 713.4V684.2M2097.0 713.4V720.3M2110.6 713.4V720.8M2137.0 713.3V715.3M2148.9 713.4V692.2M2152.6 713.4V702.0M2222.8 713.4V706.9M2235.0 713.4V700.0M2317.0 713.4V689.0M2319.9 713.4V692.0M2321.3 713.4V702.0M2327.0 713.4V702.0M2492.1 713.4V720.0M2540.4 712.1V714.1M2552.3 713.4V699.3M482.9 804.1V812.3M490.8 804.1V812.3M501.0 804.1V812.3M509.0 804.1V813.4M520.3 804.1V813.4M526.8 804.1V813.4M552.9 804.1V813.4M581.0 804.1V813.4M608.8 802.7V804.7M617.0 804.1V814.6M627.0 804.1V814.6M634.9 804.1V814.6M643.0 804.1V815.7M648.5 804.1V813.4M659.3 804.1V814.6M669.3 804.1V813.4M677.2 804.1V814.6M697.4 804.1V813.4M713.5 804.1V812.3M721.4 804.1V812.3M739.5 804.1V813.0M814.2 804.1V814.6M822.4 804.1V809.8M860.7 802.3V804.3M885.8 804.1V799.2M910.7 804.1V799.6M968.3 804.1V810.5M976.2 804.1V807.8M985.2 804.1V811.2M992.9 804.1V812.3M1000.9 804.1V812.7M1052.9 804.1V812.1M1069.0 804.1V809.8M1086.0 804.1V808.9M1093.0 804.1V810.0M1130.9 804.1V801.4M1137.0 804.1V808.9M1146.9 804.1V810.5M1152.8 802.7V804.7M1163.0 804.1V810.0M1179.8 804.1V801.4M1188.8 804.1V808.9M1226.0 804.1V810.0M1233.9 804.1V798.7M1243.9 804.1V798.0M1251.3 804.1V805.9M1267.0 804.1V809.3M1275.6 804.1V809.3M1284.0 804.1V808.2M1293.7 804.1V808.2M1301.8 804.1V799.2M1310.0 804.1V800.3M1324.0 804.1V808.2M1331.5 804.1V810.0M1339.9 804.1V810.0M1347.8 804.1V809.3M1355.7 804.1V808.2M1363.9 804.1V810.0M1372.3 804.1V809.3M1381.8 804.1V808.9M1404.0 804.1V799.2M1428.9 802.3V804.3M1434.6 804.1V809.3M1477.6 803.6V805.6M1488.2 804.1V801.0M1495.7 804.1V800.7M1503.0 802.9V804.9M1630.9 804.1V801.9M1675.1 804.1V812.1M1711.8 802.3V804.3M1721.0 804.1V810.5M1734.9 804.1V810.0M1751.8 804.1V807.8M1766.1 804.1V810.9M1785.8 804.1V810.9M1815.5 804.1V810.0M1848.1 804.1V799.6M1941.6 804.1V799.6M1962.0 803.6V805.6M2097.0 804.1V811.0M2110.6 804.1V811.7M2137.0 804.1V809.3M2148.9 804.1V800.5M2222.8 804.1V801.2M2492.1 804.1V808.6M2540.4 804.1V810.3M634.9 855.2V877.7M677.2 855.2V878.0M1339.9 855.2V888.6M1434.6 855.2V887.5M1751.8 855.2V892.0M1941.6 855.2V878.4M2137.0 855.2V879.3M2222.8 855.2V878.1M2492.1 855.2V881.7M482.9 1021.5V1013.1M490.8 1021.5V1013.1M501.0 1021.5V1015.1M509.0 1021.5V1017.4M520.3 1021.5V1027.2M526.8 1021.5V1023.8M545.0 1021.5V1000.0M552.9 1021.5V1026.0M581.0 1021.5V1018.5M608.8 1021.5V1005.6M617.0 1021.5V1026.0M627.0 1021.5V1008.6M634.9 1021.5V1006.3M643.0 1021.5V1017.4M648.5 1021.5V1006.3M659.3 1021.5V968.7M669.3 1021.5V1036.9M677.2 1021.3V1023.3M697.4 1021.5V1029.4M713.5 1021.5V1005.6M721.4 1021.5V1001.1M739.5 1021.5V1024.9M814.2 1021.5V1007.4M822.4 1021.5V1026.0M830.1 1021.5V1016.3M860.7 1021.5V1023.8M868.6 1021.5V1016.3M877.0 1021.5V1018.5M885.8 1021.5V1027.2M892.8 1021.5V1018.5M910.7 1021.5V1014.0M918.9 1021.5V1019.7M927.0 1021.5V1031.7M935.0 1021.5V1019.7M938.8 1021.1V1023.1M950.8 1021.5V1034.6M961.0 1021.5V1038.0M968.3 1021.1V1023.1M976.2 1021.5V1014.0M985.2 1021.5V1032.8M992.9 1021.5V1033.5M1000.9 1021.5V1029.4M1008.8 1021.5V1024.9M1017.4 1021.5V1009.7M1026.9 1021.5V1024.9M1034.8 1021.5V1018.5M1042.3 1021.5V1018.5M1052.9 1021.5V1026.0M1061.3 1021.5V1035.8M1069.0 1021.5V1028.3M1077.0 1021.5V1013.1M1086.0 1021.5V1031.7M1093.0 1021.5V1024.9M1101.0 1021.5V1018.5M1110.9 1021.5V1015.4M1121.1 1021.5V1023.8M1130.9 1021.1V1023.1M1137.0 1021.5V1015.4M1146.9 1021.5V1006.3M1152.8 1021.5V1015.4M1163.0 1021.5V1031.7M1179.8 1021.5V1043.0M1188.8 1021.5V1013.1M1197.0 1021.5V1012.0M1205.6 1021.5V1019.7M1215.3 1021.5V1018.5M1226.0 1021.5V1027.2M1233.9 1021.5V1019.7M1243.9 1021.5V1010.8M1251.3 1021.5V1024.9M1259.7 1021.5V1026.0M1267.0 1021.5V1026.0M1275.6 1021.5V1026.0M1284.0 1019.9V1021.9M1293.7 1021.5V1023.8M1301.8 1021.5V1026.0M1310.0 1021.5V1029.4M1324.0 1021.5V1027.2M1331.5 1021.5V1018.5M1339.9 1021.5V1036.9M1347.8 1021.5V972.8M1355.7 1021.5V970.5M1363.9 1021.5V1026.0M1372.3 1021.5V1014.2M1381.8 1021.5V1004.1M1404.0 1021.1V1023.1M1428.9 1021.1V1023.1M1434.6 1021.5V1033.5M1464.0 1021.5V1024.9M1477.6 1021.5V1030.6M1488.2 1021.5V1028.3M1495.7 1021.5V1028.3M1503.0 1021.5V1018.5M1512.9 1021.5V1029.4M1630.9 1019.7V1021.7M1675.1 1021.5V985.9M1711.8 1021.5V1016.3M1721.0 1021.5V1003.4M1734.9 1020.2V1022.2M1743.5 1021.5V1019.2M1751.8 1021.5V1009.7M1755.9 1021.5V1006.3M1766.1 1021.5V998.8M1785.8 1021.5V1005.2M1797.8 1021.5V1007.2M1815.5 1021.5V983.7M1833.6 1021.5V990.2M1839.7 1021.5V1016.3M1848.1 1021.5V1016.3M1878.2 1021.5V1003.4M1896.3 1021.5V1001.1M1941.6 1021.5V1038.0M1962.0 1021.5V1034.6M2039.9 1021.5V1017.0M2097.0 1021.5V1031.7M2110.6 1021.5V1035.8M2137.0 1021.5V1026.8M2148.9 1021.5V1024.4M2152.6 1021.5V1032.4M2222.8 1021.5V1033.4M2235.0 1021.5V1030.0M2317.0 1021.5V1026.8M2319.9 1019.9V1021.9M2321.3 1021.5V1026.8M2327.0 1021.5V1030.0M2492.1 1021.5V1036.6M2540.4 1021.5V1034.9M2552.3 1021.5V1026.3" stroke="#1111dd" stroke-width="1.9" fill="none"/>
<path d="M482.9 395.9V386.2M490.8 395.3V397.3M501.0 395.9V407.2M509.0 395.3V397.3M520.3 395.9V386.2M526.8 395.9V386.2M545.0 395.9V410.0M552.9 395.9V388.0M563.1 395.3V397.3M581.0 395.9V382.8M590.7 395.9V391.4M608.8 395.9V407.7M617.0 395.3V397.3M627.0 395.3V397.3M634.9 395.3V397.3M643.0 395.9V388.4M648.5 395.9V398.6M659.3 395.3V397.3M669.3 395.9V393.7M677.2 395.9V391.8M697.4 395.9V398.6M713.5 395.9V393.7M721.4 395.9V391.2M739.5 395.9V404.8M814.2 395.9V402.5M822.4 395.5V397.5M830.1 395.9V407.2M860.7 395.3V397.3M868.6 395.9V398.6M877.0 395.9V436.0M885.8 395.9V409.5M892.8 395.9V394.1M910.7 395.9V427.0M918.9 395.9V414.5M927.0 395.9V391.2M935.0 395.3V397.3M938.8 395.9V400.9M950.8 395.9V405.4M961.0 395.9V413.4M968.3 395.5V397.5M976.2 395.3V397.3M985.2 395.9V393.7M992.9 395.9V398.6M1000.9 395.9V390.7M1008.8 395.9V403.2M1017.4 395.9V404.3M1026.9 395.9V408.8M1034.8 395.9V399.3M1042.3 395.9V410.0M1052.9 395.9V405.4M1061.3 395.9V404.3M1069.0 395.9V405.4M1077.0 395.9V416.1M1086.0 395.9V400.2M1093.0 395.9V398.6M1101.0 395.9V407.2M1110.9 395.9V402.5M1121.1 395.9V429.2M1130.9 395.9V403.2M1137.0 395.9V398.6M1146.9 395.9V400.9M1152.8 395.9V398.6M1163.0 395.9V405.4M1179.8 395.9V398.6M1188.8 395.9V400.9M1197.0 395.9V413.4M1205.6 395.9V410.6M1215.3 395.9V393.0M1226.0 395.9V405.4M1233.9 395.9V406.6M1243.9 395.9V404.3M1251.3 395.9V388.4M1259.7 395.9V394.1M1267.0 395.9V373.7M1275.6 395.9V391.8M1284.0 395.9V381.2M1293.7 395.9V386.9M1301.8 395.9V374.4M1310.0 395.9V374.4M1324.0 395.3V397.3M1331.5 395.9V390.7M1339.9 395.9V406.1M1347.8 395.9V392.5M1355.7 395.3V397.3M1363.9 395.9V382.3M1372.3 395.9V388.4M1381.8 395.9V375.5M1404.0 395.9V409.5M1428.9 395.9V392.5M1434.6 395.9V390.7M1464.0 395.9V405.4M1477.6 395.9V390.7M1488.2 395.9V406.6M1495.7 395.3V397.3M1503.0 395.9V374.4M1512.9 395.9V405.9M1630.9 395.9V385.5M1675.1 395.7V397.7M1711.8 395.7V397.7M1721.0 395.3V397.3M1734.9 395.9V362.0M1743.5 395.9V391.4M1751.8 395.9V380.1M1755.9 395.9V362.0M1766.1 395.9V376.7M1785.8 395.9V377.8M1797.8 395.9V429.9M1815.5 395.9V386.9M1833.6 394.4V396.4M1839.7 395.7V397.7M1848.1 395.3V397.3M1878.2 395.9V405.4M1896.3 395.9V382.3M1941.6 395.9V400.9M1962.0 395.9V390.3M2039.9 395.9V381.1M2097.0 395.9V381.8M2110.6 395.9V393.3M2137.0 395.9V386.0M2148.9 395.9V380.1M2152.6 395.9V368.4M2222.8 395.9V372.8M2235.0 395.9V375.7M2317.0 395.9V379.9M2319.9 395.9V400.1M2321.3 395.9V386.7M2327.0 395.9V385.5M2492.1 395.2V397.2M2540.4 395.9V371.3M2552.3 395.9V377.2" stroke="#55557f" stroke-width="1.9" fill="none"/>
<path d="M545.0 1219.4V1196.7M1878.2 1218.4V1220.4M545.0 835.4V833.1M830.1 835.4V821.1M877.0 833.8V835.8M885.8 835.4V820.2M910.7 835.4V821.3M918.9 835.4V826.3M938.8 835.4V829.7M950.8 835.4V818.0M961.0 835.4V829.7M1008.8 835.4V827.5M1017.4 835.4V830.9M1026.9 835.4V826.3M1034.8 835.4V829.0M1042.3 835.4V829.3M1077.0 835.4V828.1M1110.9 834.4V836.4M1121.1 835.4V829.0M1152.8 835.4V833.1M1197.0 835.4V829.0M1205.6 833.6V835.6M1215.3 835.4V833.1M1301.8 835.4V824.7M1310.0 835.4V825.9M1404.0 835.4V827.5M1428.9 835.4V824.1M1464.0 833.8V835.8M1488.2 835.4V828.1M1630.9 835.4V827.9M1711.8 835.4V818.4M1743.5 835.4V824.1M1755.9 835.4V832.7M1797.8 835.4V828.1M1878.2 835.4V817.3M1896.3 834.4V836.4M1962.0 833.8V835.8M2319.9 835.4V816.6" stroke="#ee1111" stroke-width="1.9" fill="none"/>
<path d="M482.9 1462.3V1477.5M490.8 1462.3V1476.4M501.0 1462.3V1465.7M509.0 1462.3V1470.2M520.3 1462.3V1464.6M526.8 1461.7V1463.7M545.0 1462.3V1451.0M552.9 1462.3V1478.6M581.0 1462.3V1474.8M608.8 1461.7V1463.7M617.0 1462.3V1476.4M627.0 1462.3V1468.4M634.9 1462.3V1458.7M643.0 1462.3V1466.6M648.5 1462.3V1471.4M659.3 1462.1V1464.1M669.3 1462.3V1483.6M677.2 1462.3V1449.6M697.4 1462.3V1454.8M713.5 1462.3V1482.0M721.4 1462.3V1476.4M739.5 1462.3V1465.5M814.2 1462.3V1450.3M822.4 1462.3V1482.7M830.1 1462.3V1453.3M860.7 1462.3V1429.9M868.6 1462.3V1444.0M877.0 1462.3V1434.9M885.8 1462.3V1447.1M892.8 1462.3V1423.8M910.7 1462.3V1448.7M918.9 1462.3V1436.3M927.0 1462.3V1443.1M935.0 1462.3V1445.3M938.8 1462.3V1449.4M950.8 1462.3V1439.0M961.0 1462.3V1437.4M968.3 1462.3V1469.1M976.2 1462.3V1497.9M985.2 1462.3V1444.9M992.9 1462.3V1467.8M1000.9 1462.3V1449.6M1008.8 1462.3V1449.2M1017.4 1462.3V1455.3M1026.9 1462.3V1446.9M1034.8 1462.3V1444.2M1042.3 1462.3V1441.3M1052.9 1462.3V1475.2M1061.3 1462.3V1425.4M1069.0 1462.3V1458.2M1077.0 1462.3V1440.1M1086.0 1462.3V1474.5M1093.0 1462.3V1481.6M1101.0 1462.3V1446.9M1110.9 1462.3V1441.9M1121.1 1462.3V1450.3M1130.9 1462.3V1464.6M1137.0 1460.4V1462.4M1146.9 1462.3V1498.6M1152.8 1462.3V1452.6M1163.0 1462.3V1473.0M1179.8 1462.3V1442.8M1188.8 1462.3V1466.2M1197.0 1462.3V1451.0M1205.6 1462.3V1448.0M1215.3 1462.3V1446.2M1226.0 1462.3V1476.8M1233.9 1462.3V1448.0M1243.9 1462.3V1453.0M1251.3 1462.3V1448.0M1259.7 1462.3V1453.3M1267.0 1462.3V1494.0M1275.6 1462.3V1479.1M1284.0 1462.3V1485.0M1293.7 1462.3V1496.3M1301.8 1462.3V1476.4M1310.0 1462.3V1497.2M1324.0 1462.3V1485.4M1331.5 1462.3V1474.8M1339.9 1462.3V1449.6M1347.8 1462.3V1476.4M1355.7 1462.3V1477.5M1363.9 1462.3V1458.9M1372.3 1462.3V1484.3M1381.8 1462.3V1464.6M1404.0 1462.3V1464.6M1428.9 1462.3V1449.9M1434.6 1462.3V1447.6M1464.0 1462.3V1458.9M1477.6 1462.3V1481.6M1488.2 1461.6V1463.6M1495.7 1461.6V1463.6M1503.0 1462.3V1480.4M1512.6 1462.3V1454.1M1630.2 1462.3V1466.7M1675.1 1462.3V1448.0M1711.6 1462.3V1448.9M1721.0 1462.3V1468.1M1734.6 1462.3V1495.8M1743.5 1462.3V1447.1M1751.9 1462.3V1467.7M1756.1 1462.3V1460.2M1765.9 1462.3V1467.7M1785.6 1462.3V1474.2M1797.8 1462.3V1452.7M1815.6 1462.3V1485.5M1833.4 1462.3V1458.3M1839.5 1462.3V1454.1M1847.9 1461.4V1463.4M1878.3 1462.3V1455.0M1896.1 1462.3V1451.3M1941.5 1462.3V1457.4M1961.7 1462.3V1459.2M2039.8 1461.6V1463.6M2097.0 1462.3V1471.4M2110.5 1462.3V1493.9M2136.8 1462.3V1454.1M2148.9 1462.3V1465.8M2152.2 1462.3V1458.3M2223.4 1462.3V1489.2M2235.1 1462.3V1487.8M2317.0 1462.3V1465.8M2320.3 1462.3V1471.4M2326.9 1462.3V1478.4M2492.1 1462.3V1489.2M2540.4 1462.3V1480.8M2552.5 1462.3V1455.5M482.9 954.8V956.8M490.8 956.3V959.7M501.0 956.3V963.7M509.0 955.9V957.9M520.3 956.3V958.5M526.8 956.3V959.7M545.0 956.3V963.7M552.9 955.6V957.6M563.1 956.3V960.3M581.0 956.3V951.3M590.7 956.3V951.3M608.8 956.3V958.5M617.0 956.3V951.7M627.0 956.3V953.5M634.9 956.3V948.6M643.0 956.3V948.3M648.5 956.3V951.7M659.3 956.3V949.0M669.3 956.3V953.1M677.2 956.3V952.4M697.4 955.3V957.3M713.5 955.9V957.9M721.4 955.6V957.6M739.5 956.3V953.1M814.2 956.3V961.5M822.4 956.3V958.5M830.1 956.3V965.3M860.7 956.3V949.0M868.6 956.3V961.0M877.0 956.3V962.6M885.8 956.3V965.6M892.8 956.3V933.2M910.7 956.3V967.1M918.9 956.3V967.1M927.0 956.3V954.0M935.0 956.3V961.5M938.8 956.3V961.5M950.8 956.3V965.6M961.0 956.3V967.4M968.3 956.3V960.3M976.2 954.8V956.8M985.2 956.3V954.2M992.9 956.0V958.0M1000.9 956.3V951.3M1008.8 956.3V964.9M1017.4 956.3V967.1M1026.9 956.3V967.1M1034.8 956.3V963.1M1042.3 956.3V964.4M1052.9 956.3V952.4M1061.3 956.3V963.7M1069.0 956.3V953.1M1077.0 956.3V965.6M1086.0 956.3V950.1M1093.0 956.3V950.6M1101.0 956.3V961.5M1110.9 956.3V959.7M1121.1 956.3V966.0M1130.9 956.3V962.6M1137.0 956.0V958.0M1146.9 956.3V964.9M1152.8 956.3V962.6M1163.0 955.9V957.9M1179.8 956.3V937.0M1188.8 956.3V954.0M1197.0 956.3V961.5M1205.6 956.3V961.0M1215.3 956.3V959.7M1226.0 956.3V952.4M1233.9 956.0V958.0M1243.9 956.3V958.8M1251.3 954.6V956.6M1259.7 954.7V956.7M1267.0 956.3V952.4M1275.6 956.3V950.1M1284.0 956.3V950.1M1293.7 956.3V947.4M1301.8 956.3V961.5M1310.0 956.3V959.7M1324.0 956.3V950.6M1331.5 956.3V952.0M1339.9 956.3V963.7M1347.8 956.3V952.0M1355.7 956.3V947.2M1363.9 956.3V958.5M1372.3 956.3V949.2M1381.8 956.3V952.9M1404.0 956.3V961.5M1428.9 956.3V963.7M1434.6 956.3V923.4M1464.0 956.3V964.9M1477.6 954.7V956.7M1488.2 956.3V962.6M1495.7 954.5V956.5M1503.0 956.3V951.3M1512.9 956.2V958.2M1630.9 956.3V964.9M1675.1 956.3V949.7M1711.8 956.3V964.9M1721.0 956.3V946.1M1734.9 956.3V944.0M1743.5 956.3V962.6M1751.8 956.3V892.2M1755.9 956.3V964.9M1766.1 956.3V942.2M1785.8 956.3V943.8M1797.8 956.3V966.0M1815.5 956.3V943.4M1833.6 956.3V961.0M1839.7 955.1V957.1M1848.1 956.0V958.0M1878.2 955.9V957.9M1896.3 955.6V957.6M1941.6 956.3V946.3M1962.0 956.3V961.0M2039.9 956.3V936.1M2097.0 956.3V945.1M2110.6 956.3V944.6M2137.0 956.3V920.2M2148.9 956.3V947.0M2152.6 956.3V933.6M2222.8 956.3V934.1M2235.0 956.3V927.3M2317.0 956.3V938.5M2319.9 956.3V947.5M2321.3 956.3V941.0M2327.0 956.3V933.4M2492.1 956.3V932.4M2540.4 956.3V938.3M2552.3 955.4V957.4M482.9 1116.4V1118.4M490.8 1116.4V1118.4M501.0 1116.2V1118.2M509.0 1116.3V1118.3M520.3 1116.2V1118.2M526.8 1116.2V1118.2M545.0 1117.5V1109.1M552.9 1116.4V1118.4M581.0 1116.3V1118.3M608.8 1117.5V1112.1M617.0 1116.3V1118.3M627.0 1116.3V1118.3M634.9 1116.3V1118.3M643.0 1116.3V1118.3M648.5 1116.3V1118.3M659.3 1116.3V1118.3M669.3 1116.3V1118.3M677.2 1116.3V1118.3M697.4 1116.4V1118.4M713.5 1116.3V1118.3M721.4 1116.3V1118.3M739.5 1116.3V1118.3M814.2 1116.2V1118.2M822.4 1116.2V1118.2M830.1 1117.5V1115.0M860.7 1117.5V1044.1M868.6 1117.5V1113.9M877.0 1116.3V1118.3M885.8 1116.2V1118.2M892.8 1116.0V1118.0M910.7 1116.4V1118.4M918.9 1117.5V1114.8M927.0 1116.2V1118.2M935.0 1116.2V1118.2M938.8 1115.7V1117.7M950.8 1116.4V1118.4M961.0 1117.5V1109.8M968.3 1116.4V1118.4M976.2 1116.3V1118.3M985.2 1116.4V1118.4M992.9 1116.4V1118.4M1000.9 1116.4V1118.4M1008.8 1116.4V1118.4M1017.4 1116.3V1118.3M1026.9 1116.4V1118.4M1034.8 1116.4V1118.4M1042.3 1116.4V1118.4M1052.9 1116.4V1118.4M1061.3 1117.5V1114.3M1069.0 1116.4V1118.4M1077.0 1116.4V1118.4M1086.0 1116.4V1118.4M1093.0 1117.5V1114.3M1101.0 1117.5V1115.0M1110.9 1116.4V1118.4M1121.1 1116.4V1118.4M1130.9 1117.5V1114.3M1137.0 1116.4V1118.4M1146.9 1116.4V1118.4M1152.8 1116.4V1118.4M1163.0 1116.4V1118.4M1179.8 1116.4V1118.4M1188.8 1116.4V1118.4M1197.0 1116.4V1118.4M1205.6 1117.5V1115.5M1215.3 1117.5V1115.0M1226.0 1116.4V1118.4M1233.9 1116.4V1118.4M1243.9 1116.4V1118.4M1251.3 1116.4V1118.4M1259.7 1116.4V1118.4M1267.0 1117.5V1114.3M1275.6 1116.4V1118.4M1284.0 1116.4V1118.4M1293.7 1116.4V1118.4M1301.8 1116.4V1118.4M1310.0 1116.4V1118.4M1324.0 1116.4V1118.4M1331.5 1116.4V1118.4M1339.9 1117.5V1065.2M1347.8 1117.5V1112.1M1355.7 1117.5V1113.9M1363.9 1116.4V1118.4M1372.3 1115.8V1117.8M1381.8 1116.4V1118.4M1404.0 1116.4V1118.4M1428.9 1115.8V1117.8M1434.6 1117.5V1079.7M1464.0 1116.4V1118.4M1477.6 1117.5V1115.0M1488.2 1116.4V1118.4M1495.7 1117.5V1103.0M1503.0 1117.5V1112.5M1512.9 1117.5V1105.3M1630.9 1116.6V1118.6M1675.1 1116.4V1118.4M1711.8 1116.4V1118.4M1721.0 1115.8V1117.8M1734.9 1117.5V1114.8M1743.5 1116.9V1118.9M1751.8 1117.5V1084.9M1755.9 1116.9V1118.9M1766.1 1117.5V1115.5M1785.8 1117.5V1113.9M1797.8 1116.6V1118.6M1815.5 1117.5V1114.3M1833.6 1116.4V1118.4M1839.7 1115.7V1117.7M1848.1 1117.5V1112.5M1878.2 1116.6V1118.6M1896.3 1116.6V1118.6M1941.6 1117.5V1100.1M1962.0 1117.5V1115.0M2039.9 1117.5V1085.3M2097.0 1117.5V1113.9M2110.6 1115.9V1117.9M2137.0 1117.5V1095.1M2148.9 1116.4V1118.4M2152.6 1117.5V1104.1M2222.8 1117.5V1098.0M2235.0 1117.5V1089.7M2317.0 1117.5V1070.0M2319.9 1116.9V1118.9M2321.3 1117.5V1086.1M2327.0 1117.5V1089.0M2492.1 1117.5V1107.3M2540.4 1117.5V1111.7M2552.3 1117.5V1114.1" stroke="#777777" stroke-width="1.7" fill="none"/>
<rect x="1431.2" y="1154" width="6.8" height="6.8" fill="#7a1a7a"/>
<rect x="1431.6" y="1382.1" width="6" height="6" fill="#666666"/>
<rect x="873.9" y="1214.3" width="6" height="6" fill="#ee1111"/>
<path d="M542.2 1196.9H547.8M1432.1 1273.4H1437.5" stroke="#ee1111" stroke-width="1.8"/>

<path d="M297.0 260.1H2672.5M297.0 343.5H2672.5M297.0 395.9H2672.5M297.0 493.5H2672.5M297.0 571.5H2672.5M297.0 642.4H2672.5M297.0 713.4H2672.5M297.0 804.1H2672.5M297.0 855.2H2672.5M297.0 956.3H2672.5M297.0 1021.5H2672.5M297.0 1117.5H2672.5M297.0 1157.5H2672.5M297.0 1257.6H2672.5M297.0 1347.1H2672.5M297.0 1385.0H2672.5M297.0 1462.3H2672.5" stroke="#b4b4b4" stroke-width="1.2" fill="none"/>
<path d="M148 209.5H2821M148 285.3H2821M148 361.2H2821M148 437.0H2821M148 512.9H2821M148 588.7H2821M148 664.5H2821M148 740.4H2821M148 816.2H2821M148 892.1H2821M148 967.9H2821M148 1043.7H2821M148 1119.6H2821M148 1195.4H2821M148 1271.3H2821M148 1347.1H2821M148 1422.9H2821M148 1498.8H2821" stroke="#b9b9b9" stroke-width="2" fill="none"/>
<path d="M297.0 209.5V1574.3H2672.5V209.5" stroke="#cacaca" stroke-width="2" fill="none"/>
<text x="384.8" y="205.3" font-size="19.7">1981</text>
<text x="384.8" y="1594.5" font-size="19.7">1981</text>
<text x="489.6" y="205.3" font-size="19.7">1982</text>
<text x="489.6" y="1594.5" font-size="19.7">1982</text>
<text x="594.3" y="205.3" font-size="19.7">1983</text>
<text x="594.3" y="1594.5" font-size="19.7">1983</text>
<text x="699.0" y="205.3" font-size="19.7">1984</text>
<text x="699.0" y="1594.5" font-size="19.7">1984</text>
<text x="803.8" y="205.3" font-size="19.7">1985</text>
<text x="803.8" y="1594.5" font-size="19.7">1985</text>
<text x="908.5" y="205.3" font-size="19.7">1986</text>
<text x="908.5" y="1594.5" font-size="19.7">1986</text>
<text x="1013.3" y="205.3" font-size="19.7">1987</text>
<text x="1013.3" y="1594.5" font-size="19.7">1987</text>
<text x="1118.0" y="205.3" font-size="19.7">1988</text>
<text x="1118.0" y="1594.5" font-size="19.7">1988</text>
<text x="1222.8" y="205.3" font-size="19.7">1989</text>
<text x="1222.8" y="1594.5" font-size="19.7">1989</text>
<text x="1327.5" y="205.3" font-size="19.7">1990</text>
<text x="1327.5" y="1594.5" font-size="19.7">1990</text>
<text x="1432.3" y="205.3" font-size="19.7">1991</text>
<text x="1432.3" y="1594.5" font-size="19.7">1991</text>
<text x="1537.0" y="205.3" font-size="19.7">1992</text>
<text x="1537.0" y="1594.5" font-size="19.7">1992</text>
<text x="1641.8" y="205.3" font-size="19.7">1993</text>
<text x="1641.8" y="1594.5" font-size="19.7">1993</text>
<text x="1746.5" y="205.3" font-size="19.7">1994</text>
<text x="1746.5" y="1594.5" font-size="19.7">1994</text>
<text x="1851.3" y="205.3" font-size="19.7">1995</text>
<text x="1851.3" y="1594.5" font-size="19.7">1995</text>
<text x="1956.0" y="205.3" font-size="19.7">1996</text>
<text x="1956.0" y="1594.5" font-size="19.7">1996</text>
<text x="2060.8" y="205.3" font-size="19.7">1997</text>
<text x="2060.8" y="1594.5" font-size="19.7">1997</text>
<text x="2165.6" y="205.3" font-size="19.7">1998</text>
<text x="2165.6" y="1594.5" font-size="19.7">1998</text>
<text x="2270.3" y="205.3" font-size="19.7">1999</text>
<text x="2270.3" y="1594.5" font-size="19.7">1999</text>
<text x="2375.1" y="205.3" font-size="19.7">2000</text>
<text x="2375.1" y="1594.5" font-size="19.7">2000</text>
<text x="2479.8" y="205.3" font-size="19.7">2001</text>
<text x="2479.8" y="1594.5" font-size="19.7">2001</text>
<text x="2584.6" y="205.3" font-size="19.7">2002</text>
<text x="2584.6" y="1594.5" font-size="19.7">2002</text>
<text x="158.3" y="226.0" font-size="15.3" fill="#555">124</text>
<text x="272.5" y="226.8" font-size="20.6" text-anchor="end">1930</text>
<text x="272.5" y="280.1" font-size="20.6" text-anchor="end">417</text>
<text x="154.7" y="256.9" font-size="22.3" fill="#000080">TDS</text>
<text x="2690" y="248.0" font-size="20.8" fill="#000080">920</text>
<text x="2695" y="273.0" font-size="20.8" fill="#000080">mg/L TDS</text>
<text x="2784.9" y="235.0" font-size="18.5" text-anchor="middle">1260</text>
<text x="158.3" y="301.8" font-size="15.3" fill="#555">130</text>
<text x="272.5" y="302.6" font-size="20.6" text-anchor="end">277</text>
<text x="272.5" y="356.0" font-size="20.6" text-anchor="end">67.1</text>
<text x="154.7" y="332.7" font-size="22.3" fill="#000080">EC</text>
<text x="2690" y="323.8" font-size="20.8" fill="#000080">116</text>
<text x="2695" y="348.8" font-size="20.8" fill="#000080">mS/m</text>
<text x="2784.9" y="310.8" font-size="18.5" text-anchor="middle">174</text>
<text x="158.3" y="377.7" font-size="15.3" fill="#555">130</text>
<text x="272.5" y="378.5" font-size="20.6" text-anchor="end">8.79</text>
<text x="272.5" y="431.8" font-size="20.6" text-anchor="end">5.32</text>
<text x="154.7" y="408.2" font-size="22.3" fill="#000080">pH</text>
<text x="2690" y="399.7" font-size="20.8" fill="#000080">7.2</text>
<text x="2695" y="424.7" font-size="20.8" fill="#000080">pH</text>
<text x="2784.9" y="386.7" font-size="18.5" text-anchor="middle">8</text>
<text x="2784.9" y="433.0" font-size="18.5" text-anchor="middle">6.61</text>
<text x="158.3" y="453.5" font-size="15.3" fill="#555">128</text>
<text x="272.5" y="454.3" font-size="20.6" text-anchor="end">239</text>
<text x="272.5" y="507.7" font-size="20.6" text-anchor="end">38.1</text>
<text x="154.7" y="484.9" font-size="22.3" fill="#000080">Na<tspan dy="-9" font-size="14">+</tspan></text>
<text x="2690" y="475.5" font-size="20.8" fill="#000080">89.4</text>
<text x="2695" y="500.5" font-size="20.8" fill="#000080">mg/L Na</text>
<text x="2784.9" y="462.5" font-size="18.5" text-anchor="middle">157</text>
<text x="158.3" y="529.4" font-size="15.3" fill="#555">128</text>
<text x="272.5" y="530.2" font-size="20.6" text-anchor="end">37.3</text>
<text x="272.5" y="583.5" font-size="20.6" text-anchor="end">2.24</text>
<text x="154.7" y="561.4" font-size="22.3" fill="#000080">K<tspan dy="-9" font-size="14">+</tspan></text>
<text x="2690" y="551.4" font-size="20.8" fill="#000080">10.2</text>
<text x="2695" y="576.4" font-size="20.8" fill="#000080">mg/L K</text>
<text x="2784.9" y="538.4" font-size="18.5" text-anchor="middle">16.9</text>
<text x="158.3" y="605.2" font-size="15.3" fill="#555">128</text>
<text x="272.5" y="606.0" font-size="20.6" text-anchor="end">279</text>
<text x="272.5" y="659.3" font-size="20.6" text-anchor="end">38.9</text>
<text x="154.7" y="636.8" font-size="22.3" fill="#000080">Ca<tspan dy="-9" font-size="14">++</tspan></text>
<text x="2690" y="627.2" font-size="20.8" fill="#000080">109</text>
<text x="2695" y="652.2" font-size="20.8" fill="#000080">mg/L Ca</text>
<text x="2784.9" y="614.2" font-size="18.5" text-anchor="middle">156</text>
<text x="158.3" y="681.0" font-size="15.3" fill="#555">128</text>
<text x="272.5" y="681.8" font-size="20.6" text-anchor="end">78</text>
<text x="272.5" y="735.2" font-size="20.6" text-anchor="end">15.8</text>
<text x="154.7" y="710.9" font-size="22.3" fill="#000080">Mg<tspan dy="-9" font-size="14">++</tspan></text>
<text x="2690" y="703.0" font-size="20.8" fill="#000080">37.9</text>
<text x="2695" y="728.0" font-size="20.8" fill="#000080">mg/L Mg</text>
<text x="2784.9" y="690.0" font-size="18.5" text-anchor="middle">61.6</text>
<text x="158.3" y="756.9" font-size="15.3" fill="#555">128</text>
<text x="272.5" y="757.7" font-size="20.6" text-anchor="end">407</text>
<text x="272.5" y="811.0" font-size="20.6" text-anchor="end">11.2</text>
<text x="154.7" y="787.4" font-size="22.3" fill="#000080">Cl<tspan dy="-9" font-size="14">-</tspan></text>
<text x="2690" y="778.9" font-size="20.8" fill="#000080">74.6</text>
<text x="2695" y="803.9" font-size="20.8" fill="#000080">mg/L Cl</text>
<text x="2784.9" y="765.9" font-size="18.5" text-anchor="middle">152</text>
<text x="158.3" y="832.7" font-size="15.3" fill="#555">128</text>
<text x="272.5" y="833.5" font-size="20.6" text-anchor="end">774</text>
<text x="272.5" y="886.9" font-size="20.6" text-anchor="end">61</text>
<text x="154.7" y="858.9" font-size="22.3" fill="#000080">SO<tspan dy="-9" font-size="14">=</tspan><tspan dx="-8" dy="15" font-size="14">4</tspan></text>
<text x="2690" y="854.7" font-size="20.8" fill="#000080">408</text>
<text x="2695" y="879.7" font-size="20.8" fill="#000080">mg/L SO4</text>
<text x="2784.9" y="841.7" font-size="18.5" text-anchor="middle">672</text>
<text x="158.3" y="908.6" font-size="15.3" fill="#555">130</text>
<text x="272.5" y="909.4" font-size="20.6" text-anchor="end">431</text>
<text x="272.5" y="962.7" font-size="20.6" text-anchor="end">6.4</text>
<text x="154.7" y="938.7" font-size="22.3" fill="#000080">TAL</text>
<text x="2690" y="930.6" font-size="20.8" fill="#000080">71.3</text>
<text x="2695" y="955.6" font-size="20.8" fill="#000080">mg/L TAL</text>
<text x="2784.9" y="917.6" font-size="18.5" text-anchor="middle">152</text>
<text x="158.3" y="984.4" font-size="15.3" fill="#555">128</text>
<text x="272.5" y="985.2" font-size="20.6" text-anchor="end">0.88</text>
<text x="272.5" y="1038.5" font-size="20.6" text-anchor="end">0.18</text>
<text x="154.7" y="1014.9" font-size="22.3" fill="#000080">F<tspan dy="-9" font-size="14">-</tspan></text>
<text x="2690" y="1006.4" font-size="20.8" fill="#000080">0.385</text>
<text x="2695" y="1031.4" font-size="20.8" fill="#000080">mg/L F</text>
<text x="2784.9" y="993.4" font-size="18.5" text-anchor="middle">0.54</text>
<text x="158.3" y="1060.2" font-size="15.3" fill="#555">128</text>
<text x="272.5" y="1061.0" font-size="20.6" text-anchor="end">13.5</text>
<text x="272.5" y="1114.4" font-size="20.6" text-anchor="end">0.003</text>
<text x="154.7" y="1088.5" font-size="22.3" fill="#000080">PO<tspan dy="-9" font-size="14">3-</tspan><tspan dx="-15" dy="15" font-size="14">4</tspan><tspan dx="7" dy="-6">(P)</tspan></text>
<text x="2690" y="1082.2" font-size="20.8" fill="#000080">0.368</text>
<text x="2695" y="1107.2" font-size="20.8" fill="#000080">mgP/L PO4</text>
<text x="2784.9" y="1069.2" font-size="18.5" text-anchor="middle">2.84</text>
<text x="158.3" y="1136.1" font-size="15.3" fill="#555">1</text>
<text x="272.5" y="1136.9" font-size="20.6" text-anchor="end">7.21</text>
<text x="272.5" y="1190.2" font-size="20.6" text-anchor="end">7.21</text>
<text x="154.7" y="1163.4" font-size="22.3" fill="#000080">P<tspan dy="6" font-size="14">tot</tspan><tspan dy="-6">(P)</tspan></text>
<text x="2690" y="1158.1" font-size="20.8" fill="#000080">7.21</text>
<text x="2695" y="1183.1" font-size="20.8" fill="#000080">mgP/L TP</text>
<text x="2784.9" y="1145.1" font-size="18.5" text-anchor="middle">7.21</text>
<text x="158.3" y="1211.9" font-size="15.3" fill="#555">126</text>
<text x="272.5" y="1212.7" font-size="20.6" text-anchor="end">28.7</text>
<text x="272.5" y="1266.1" font-size="20.6" text-anchor="end">0.02</text>
<text x="154.7" y="1237.3" font-size="22.3" fill="#000080">NO<tspan dy="-9" font-size="14">-</tspan><tspan dx="-5" dy="15" font-size="14">2</tspan><tspan dx="1.5" dy="-6">+</tspan><tspan dx="1.5">NO</tspan><tspan dy="-9" font-size="14">-</tspan><tspan dx="-5" dy="15" font-size="14">3</tspan><tspan dy="-6">(N)</tspan></text>
<text x="2690" y="1233.9" font-size="20.8" fill="#000080">5.18</text>
<text x="2695" y="1258.9" font-size="20.8" fill="#000080">mgN/L NO2+3</text>
<text x="2784.9" y="1220.9" font-size="18.5" text-anchor="middle">14.4</text>
<text x="158.3" y="1287.8" font-size="15.3" fill="#555">128</text>
<text x="272.5" y="1288.6" font-size="20.6" text-anchor="end">30.8</text>
<text x="272.5" y="1341.9" font-size="20.6" text-anchor="end">0.02</text>
<text x="154.7" y="1316.1" font-size="22.3" fill="#000080">NH<tspan dy="-9" font-size="14">+</tspan><tspan dx="-8" dy="15" font-size="14">4</tspan><tspan dy="-6">(N)</tspan></text>
<text x="2690" y="1309.8" font-size="20.8" fill="#000080">0.03</text>
<text x="2695" y="1334.8" font-size="20.8" fill="#000080">mgN/L NH4</text>
<text x="2784.9" y="1296.8" font-size="18.5" text-anchor="middle">0.906</text>
<text x="158.3" y="1363.6" font-size="15.3" fill="#555">1</text>
<text x="272.5" y="1364.4" font-size="20.6" text-anchor="end">46.4</text>
<text x="272.5" y="1417.7" font-size="20.6" text-anchor="end">46.4</text>
<text x="154.7" y="1394.6" font-size="22.3" fill="#000080">KjelN(N)</text>
<text x="2690" y="1385.6" font-size="20.8" fill="#000080">46.4</text>
<text x="2695" y="1410.6" font-size="20.8" fill="#000080">mgN/L Kjel_N</text>
<text x="2784.9" y="1372.6" font-size="18.5" text-anchor="middle">46.4</text>
<text x="158.3" y="1439.4" font-size="15.3" fill="#555">128</text>
<text x="272.5" y="1440.2" font-size="20.6" text-anchor="end">11</text>
<text x="272.5" y="1493.6" font-size="20.6" text-anchor="end">0.2</text>
<text x="154.7" y="1466.8" font-size="22.3" fill="#000080">SiO<tspan dy="4.5" font-size="15.5">2</tspan></text>
<text x="2690" y="1461.4" font-size="20.8" fill="#000080">5.4</text>
<text x="2695" y="1486.4" font-size="20.8" fill="#000080">mg/L Si</text>
<text x="2784.9" y="1448.4" font-size="18.5" text-anchor="middle">8</text>
<text x="162.4" y="134.6" font-size="15" fill="#555">n</text>
<text x="254.5" y="134.6" font-size="17" text-anchor="middle">max</text>
<text x="254.5" y="170.5" font-size="17" text-anchor="middle">min</text>
<rect x="504.7" y="20.3" width="207.8" height="167.9" fill="none" stroke="#c8c8c8" stroke-width="1.5"/>
<circle cx="608.5" cy="104.3" r="23.4" fill="none" stroke="#d0d0d0" stroke-width="0.8"/>
<polygon points="608.5,104.3 608.5,80.9 609.6,101.4 625.4,87.7" fill="#9966cc" stroke="#9966cc" stroke-width="0.5"/>
<polygon points="608.5,104.3 625.4,87.7 635.7,93.2 632.8,104.3" fill="#e8e80a" stroke="#e8e80a" stroke-width="0.5"/>
<polygon points="608.5,104.3 632.8,104.3 646.4,120.2 625.4,120.9" fill="#ff2a00" stroke="#ff2a00" stroke-width="0.5"/>
<polygon points="608.5,104.3 625.4,120.9 618.0,126.5 608.5,127.7" fill="#aaaaaa" stroke="#aaaaaa" stroke-width="0.5"/>
<polygon points="608.5,104.3 608.5,127.7 584.4,163.1 592.0,120.9" fill="#000066" stroke="#000066" stroke-width="0.5"/>
<polygon points="608.5,104.3 592.0,120.9 593.6,110.2 585.1,104.3" fill="#88c425" stroke="#88c425" stroke-width="0.5"/>
<polygon points="608.5,104.3 585.1,104.3 598.0,100.3 592.0,87.7" fill="#1effff" stroke="#1effff" stroke-width="0.5"/>
<text x="580.0" y="51.6" font-size="16">*</text>
<text x="624.2" y="51.6" font-size="16">K<tspan dy="-7" font-size="11">+</tspan></text>
<text x="533.2" y="85.9" font-size="16">TAL</text>
<text x="654.2" y="86.6" font-size="16">Na<tspan dy="-7" font-size="11">+</tspan></text>
<text x="538.2" y="135.6" font-size="16">Cl<tspan dy="-7" font-size="11">-</tspan></text>
<text x="651.0" y="136.6" font-size="16">Ca<tspan dy="-7" font-size="11">++</tspan></text>
<text x="568.2" y="169.2" font-size="16">SO<tspan dy="-7" font-size="11">=</tspan><tspan dx="-7" dy="13" font-size="11">4</tspan></text>
<text x="615.0" y="170.5" font-size="16">Mg<tspan dy="-7" font-size="11">++</tspan></text>
<rect x="742.2" y="20.4" width="1484" height="167.7" fill="none" stroke="#c8c8c8" stroke-width="1.5"/>
<text x="1484.2" y="57.7" font-size="30.5" text-anchor="middle">WMS 90658 C2H075 Welverdiend at Blaauwbank Rail Bridge on Mooirivierloop</text>
<text x="1484.2" y="87.7" font-size="24.4" text-anchor="middle" xml:space="preserve">Site at 27°15'09.9"E 26°22'07.9"S, type:Rivers.  Data from 1981-12-10 10:15:00 to 2001-09-12 10:23:00.</text>
<text x="1484.2" y="108.2" font-size="18.3" text-anchor="middle" xml:space="preserve">Variation about the median,  colour-coded according to the combined domestic health and salinity guideline from DWAF 1996, where applicable. TP: eutrophication guideline.</text>
<text x="1484.2" y="130" font-size="18.3" text-anchor="middle">Note that this report contains only some of the information required to properly assess a site. Users should seek expert help in interpreting the data.</text>
<text x="1484.2" y="156.1" font-size="18.3" text-anchor="middle">The Maucha diagram to the left summarises the major ions present during the whole monitoring period: the colours are purely cosmetic.</text>
<text x="2289.9" y="57.2" font-size="16.25">Guideline user type is Combined domestic health and salinity</text>
<rect x="2275.9" y="77.8" width="2.9" height="18.3" fill="#b5127a"/>
<text x="2289.9" y="90.5" font-size="10.3" fill="#222">harmful</text>
<rect x="2275.9" y="96.1" width="2.9" height="18.3" fill="#6a1a8a"/>
<text x="2289.9" y="108.5" font-size="10.3" fill="#222">not acceptable</text>
<rect x="2275.9" y="114.3" width="2.9" height="18.3" fill="#ff0000"/>
<text x="2289.9" y="126.5" font-size="10.3" fill="#222">poor</text>
<rect x="2275.9" y="132.6" width="2.9" height="18.3" fill="#c8a400"/>
<text x="2289.9" y="144.5" font-size="10.3" fill="#222">fair</text>
<rect x="2275.9" y="150.9" width="2.9" height="18.3" fill="#2e8b57"/>
<text x="2289.9" y="162.5" font-size="10.3" fill="#222">good</text>
<rect x="2275.9" y="169.1" width="2.9" height="18.3" fill="#0000e0"/>
<text x="2289.9" y="180.5" font-size="10.3" fill="#222">very good</text>
<text x="2812.6" y="101.6" font-size="20.2" text-anchor="end">90th percentiles</text>
<path d="M2509.3 129.2H2625.8" stroke="#aaa" stroke-width="1"/>
<text x="2637.9" y="138.1" font-size="24" fill="#000080">medians</text>
<text x="2812.6" y="170.8" font-size="18.05" text-anchor="end" fill="#333">10th percentile</text>
<clipPath id="m1c"><rect x="165" y="1617" width="644" height="419"/></clipPath>
<g clip-path="url(#m1c)">
<rect x="165" y="1617" width="644" height="419" fill="#d4ffff"/>
<polygon points="199.6,1610.0 199.6,1615.0 199.6,1616.8 202.6,1622.5 210.1,1631.5 216.1,1645.1 217.6,1655.6 216.1,1663.1 216.8,1675.1 217.6,1693.1 222.1,1711.2 226.6,1723.2 226.6,1742.7 229.6,1759.3 234.1,1769.8 237.1,1787.8 247.6,1805.8 256.6,1811.8 262.0,1818.0 267.7,1827.7 277.2,1841.1 284.9,1862.2 292.6,1879.4 302.2,1896.7 313.7,1919.7 316.5,1931.2 315.6,1944.6 311.7,1952.2 306.0,1954.2 306.0,1961.8 311.7,1971.4 317.5,1982.9 319.4,1988.6 317.5,1992.5 319.4,2000.1 323.2,1994.4 330.9,1995.4 332.8,2002.1 340.5,2004.0 344.3,2009.7 352.0,2013.6 361.6,2015.5 367.3,2009.7 375.0,2004.9 384.6,2004.0 394.2,2002.1 409.5,2001.1 419.1,1995.4 428.6,1993.4 440.1,1993.4 451.6,1992.5 463.1,1993.4 474.6,1995.4 490.0,1996.3 501.5,1994.4 514.9,1988.6 528.3,1984.8 539.8,1981.0 551.3,1975.2 564.7,1965.6 578.1,1954.2 585.8,1948.4 597.3,1936.9 610.7,1921.6 620.3,1913.9 629.9,1900.5 639.5,1885.2 647.1,1873.7 658.6,1858.3 672.0,1844.9 683.5,1833.4 691.2,1823.8 695.0,1820.0 694.4,1800.0 697.1,1789.6 699.8,1778.8 701.2,1765.3 699.8,1755.8 694.4,1758.5 689.0,1750.4 691.7,1753.1 695.8,1745.0 702.5,1736.9 716.0,1728.8 729.5,1722.1 743.0,1718.0 756.5,1712.6 764.7,1704.5 768.7,1692.4 764.7,1691.0 767.4,1684.3 768.7,1670.8 771.4,1661.3 770.1,1650.5 768.7,1637.0 764.7,1623.5 760.6,1617.4 760.6,1610.0 760.6,1610.0" fill="#888888" stroke="#22e6ee" stroke-width="1.6"/>
<polygon points="247.6,1805.1 258.2,1799.8 255.2,1793.8 261.2,1784.8 265.7,1777.3 270.2,1769.8 273.2,1759.3 268.7,1750.2 274.7,1735.2 270.2,1726.2 264.2,1717.2 264.2,1711.2 267.2,1703.7 270.2,1693.1 261.2,1685.6 261.2,1681.1 270.2,1679.6 271.7,1672.1 270.2,1664.6 276.2,1657.1 288.2,1651.1 288.2,1642.0 295.7,1634.5 306.2,1626.3 315.3,1627.0 324.3,1626.3 337.8,1636.0 339.3,1645.1 345.3,1651.1 352.8,1652.6 367.9,1660.1 385.9,1663.1 405.4,1673.6 426.5,1685.6 443.0,1684.1 456.5,1694.6 459.5,1699.1 465.5,1696.9 480.6,1705.2 495.6,1717.2 501.6,1703.7 496.3,1681.1 496.3,1667.6 504.6,1660.1 510.0,1659.3 500.0,1661.3 512.2,1661.3 516.2,1655.9 524.3,1650.5 525.7,1642.4 531.1,1637.0 528.4,1626.2 527.0,1617.4 527.0,1615.4 660.7,1615.4 660.7,1617.4 675.5,1623.5 683.0,1617.4 705.2,1623.5 716.0,1627.6 729.5,1623.5 736.3,1634.3 743.0,1645.1 751.1,1655.9 757.9,1680.2 756.5,1688.3 747.1,1686.3 732.2,1687.0 728.2,1696.4 729.5,1704.5 724.8,1711.3 729.5,1718.0 722.8,1724.1 716.0,1728.8 716.0,1728.8 702.5,1736.9 695.8,1745.0 691.7,1753.1 689.0,1750.4 694.4,1758.5 699.8,1755.8 701.2,1765.3 699.8,1778.8 697.1,1789.6 694.4,1800.0 695.0,1820.0 691.2,1823.8 683.5,1833.4 672.0,1844.9 658.6,1858.3 647.1,1873.7 639.5,1885.2 629.9,1900.5 620.3,1913.9 610.7,1921.6 597.3,1936.9 585.8,1948.4 578.1,1954.2 564.7,1965.6 551.3,1975.2 539.8,1981.0 528.3,1984.8 514.9,1988.6 501.5,1994.4 490.0,1996.3 474.6,1995.4 463.1,1993.4 451.6,1992.5 440.1,1993.4 428.6,1993.4 419.1,1995.4 409.5,2001.1 394.2,2002.1 384.6,2004.0 375.0,2004.9 367.3,2009.7 361.6,2015.5 352.0,2013.6 344.3,2009.7 340.5,2004.0 332.8,2002.1 330.9,1995.4 323.2,1994.4 319.4,2000.1 317.5,1992.5 319.4,1988.6 317.5,1982.9 311.7,1971.4 306.0,1961.8 306.0,1954.2 311.7,1952.2 315.6,1944.6 316.5,1931.2 313.7,1919.7 302.2,1896.7 292.6,1879.4 284.9,1862.2 277.2,1841.1 267.7,1827.7 262.0,1818.0 256.6,1811.8 247.6,1805.8" fill="#c2c2c2" stroke="#f4f4f4" stroke-width="1.2"/>
<polyline points="199.6,1615.0 199.6,1616.8 202.6,1622.5 210.1,1631.5 216.1,1645.1 217.6,1655.6 216.1,1663.1 216.8,1675.1 217.6,1693.1 222.1,1711.2 226.6,1723.2 226.6,1742.7 229.6,1759.3 234.1,1769.8 237.1,1787.8 247.6,1805.8 256.6,1811.8 262.0,1818.0 267.7,1827.7 277.2,1841.1 284.9,1862.2 292.6,1879.4 302.2,1896.7 313.7,1919.7 316.5,1931.2 315.6,1944.6 311.7,1952.2 306.0,1954.2 306.0,1961.8 311.7,1971.4 317.5,1982.9 319.4,1988.6 317.5,1992.5 319.4,2000.1 323.2,1994.4 330.9,1995.4 332.8,2002.1 340.5,2004.0 344.3,2009.7 352.0,2013.6 361.6,2015.5 367.3,2009.7 375.0,2004.9 384.6,2004.0 394.2,2002.1 409.5,2001.1 419.1,1995.4 428.6,1993.4 440.1,1993.4 451.6,1992.5 463.1,1993.4 474.6,1995.4 490.0,1996.3 501.5,1994.4 514.9,1988.6 528.3,1984.8 539.8,1981.0 551.3,1975.2 564.7,1965.6 578.1,1954.2 585.8,1948.4 597.3,1936.9 610.7,1921.6 620.3,1913.9 629.9,1900.5 639.5,1885.2 647.1,1873.7 658.6,1858.3 672.0,1844.9 683.5,1833.4 691.2,1823.8 695.0,1820.0 694.4,1800.0 697.1,1789.6 699.8,1778.8 701.2,1765.3 699.8,1755.8 694.4,1758.5 689.0,1750.4 691.7,1753.1 695.8,1745.0 702.5,1736.9 716.0,1728.8 729.5,1722.1 743.0,1718.0 756.5,1712.6 764.7,1704.5 768.7,1692.4 764.7,1691.0 767.4,1684.3 768.7,1670.8 771.4,1661.3 770.1,1650.5 768.7,1637.0 764.7,1623.5 760.6,1617.4 760.6,1610.0" fill="none" stroke="#1ee8f0" stroke-width="1.6"/>
<polyline points="267.7,1827.7 284.9,1828.6 288.7,1837.2 304.1,1848.7 306.0,1858.3 323.2,1864.1 321.3,1873.7 325.2,1885.2 315.6,1900.5 315.6,1915.8" fill="none" stroke="#f2f2f2" stroke-width="1.3"/>
<polyline points="323.2,1875.6 340.5,1869.8 344.3,1877.5 355.8,1890.9 359.7,1904.3 361.6,1919.7 367.3,1927.3 375.0,1948.4 382.7,1952.2 392.2,1944.6 401.8,1935.0 417.1,1933.1 426.7,1936.9" fill="none" stroke="#f2f2f2" stroke-width="1.3"/>
<polyline points="315.6,1919.7 327.1,1933.1 336.7,1958.0 342.4,1969.5 375.0,1967.6 378.8,1952.2" fill="none" stroke="#f2f2f2" stroke-width="1.3"/>
<polyline points="336.7,1988.6 355.8,1988.6 378.8,1986.7 401.8,1988.6 407.6,2000.1" fill="none" stroke="#f2f2f2" stroke-width="1.3"/>
<polyline points="426.7,1936.9 424.8,1927.3 432.5,1918.7 442.1,1916.8 461.2,1916.8 470.8,1923.5 486.1,1921.6 488.1,1910.1 501.5,1904.3 516.8,1908.2 526.4,1917.7 547.5,1912.0 560.9,1910.1 568.5,1908.2 574.3,1892.8 578.1,1877.5 597.3,1869.8 605.0,1858.3 608.8,1850.7 624.1,1846.8 637.5,1841.1" fill="none" stroke="#f2f2f2" stroke-width="1.3"/>
<polyline points="428.6,1936.9 428.6,1958.0 445.9,1965.6 451.6,1973.3 457.4,1982.9 482.3,1979.1 490.0,1981.0 499.6,1975.2 509.1,1971.4 518.7,1967.6 532.1,1969.5 541.7,1967.6 545.6,1973.3" fill="none" stroke="#f2f2f2" stroke-width="1.3"/>
<polyline points="470.8,1923.5 463.1,1935.0 461.2,1946.5 470.8,1954.2 480.4,1965.6 490.0,1973.3 490.0,1996.3" fill="none" stroke="#f2f2f2" stroke-width="1.3"/>
<polyline points="486.1,1921.6 490.0,1935.0 501.5,1950.3 514.9,1954.2 528.3,1942.7 536.0,1946.5 543.6,1954.2 541.7,1967.6" fill="none" stroke="#f2f2f2" stroke-width="1.3"/>
<polyline points="526.4,1917.7 530.2,1938.8 539.8,1944.6 578.1,1944.6 582.0,1950.3" fill="none" stroke="#f2f2f2" stroke-width="1.3"/>
<polyline points="560.9,1910.1 570.5,1927.3 574.3,1946.5" fill="none" stroke="#f2f2f2" stroke-width="1.3"/>
<polyline points="603.0,1858.3 616.5,1877.5 633.7,1890.9" fill="none" stroke="#f2f2f2" stroke-width="1.3"/>
<polyline points="595.4,1831.5 605.0,1843.0 624.1,1841.1 643.3,1843.0 662.5,1848.7" fill="none" stroke="#f2f2f2" stroke-width="1.3"/>
<polyline points="621.0,1718.5 629.9,1724.4 623.9,1712.6 635.8,1709.6 641.7,1694.8 638.7,1682.9 653.6,1680.0" fill="none" stroke="#f2f2f2" stroke-width="1.3"/>
<polyline points="582.5,1757.0 582.5,1724.4 600.2,1706.6 612.1,1694.8 623.9,1680.0 629.9,1668.1 647.6,1659.2 659.5,1650.4" fill="none" stroke="#f2f2f2" stroke-width="1.3"/>
<polyline points="621.0,1754.0 623.9,1733.3 638.7,1721.4 653.6,1712.6 671.3,1694.8" fill="none" stroke="#f2f2f2" stroke-width="1.3"/>
<polyline points="659.5,1647.4 671.3,1688.9 680.2,1733.3 680.2,1777.7 698.0,1777.7" fill="none" stroke="#f2f2f2" stroke-width="1.3"/>
<polyline points="517.3,1712.6 535.1,1709.6 558.8,1706.6 576.5,1697.7 594.3,1688.9 612.1,1691.8 635.8,1694.8" fill="none" stroke="#f2f2f2" stroke-width="1.3"/>
<polyline points="629.9,1765.9 638.7,1777.7 653.6,1804.4 662.4,1825.1 665.4,1839.9" fill="none" stroke="#f2f2f2" stroke-width="1.3"/>
<polyline points="612.1,1819.2 623.9,1831.0 638.7,1842.9 653.6,1848.8" fill="none" stroke="#f2f2f2" stroke-width="1.3"/>
<polyline points="514.3,1754.0 517.3,1724.4 517.3,1712.6 511.4,1730.3 505.5,1748.1" fill="none" stroke="#f2f2f2" stroke-width="1.3"/>
<polyline points="361.1,1823.9 361.1,1714.9 366.4,1718.7 375.4,1729.2 381.4,1742.7 384.4,1753.2 381.4,1762.3 376.9,1766.8 378.4,1774.3" fill="none" stroke="#eeeeee" stroke-width="1.2"/>
<polygon points="529.1,1751.1 549.9,1748.1 570.6,1754.0 582.5,1757.0 594.3,1760.0 612.1,1761.4 629.9,1765.9 631.3,1777.7 623.9,1789.6 618.0,1807.3 612.1,1819.2 606.2,1828.1 594.3,1834.0 579.5,1825.1 564.7,1825.1 555.8,1837.0 544.0,1845.9 532.1,1857.7 520.3,1866.6 514.3,1878.4 505.5,1878.4 499.5,1866.6 490.6,1857.7 475.8,1848.8 464.0,1842.9 458.1,1845.9 452.1,1837.0 452.1,1819.2 458.1,1807.3 464.0,1795.5 469.9,1783.6 469.9,1771.8 481.8,1768.8 493.6,1762.9 505.5,1757.0 517.3,1754.0" fill="#ffffff" stroke="#e6e6e6" stroke-width="2.5"/>
<polyline points="529.1,1751.1 526.2,1765.9 514.3,1783.6 511.4,1801.4 517.3,1807.3 535.1,1813.3 544.0,1825.1 544.0,1845.9" fill="none" stroke="#a8a8a8" stroke-width="1"/>
<polyline points="455.1,1807.3 475.8,1825.1 487.7,1837.0 505.5,1831.0 514.3,1825.1 526.2,1831.0 535.1,1842.9" fill="none" stroke="#a8a8a8" stroke-width="1"/>
<polyline points="517.3,1807.3 505.5,1819.2 490.6,1825.1 478.8,1842.9" fill="none" stroke="#a8a8a8" stroke-width="1"/>
<polyline points="541.0,1777.7 558.8,1774.8 570.6,1783.6 573.6,1807.3 576.5,1825.1" fill="none" stroke="#a8a8a8" stroke-width="1"/>
<polyline points="544.0,1807.3 558.8,1807.3 570.6,1819.2" fill="none" stroke="#a8a8a8" stroke-width="1"/>
<polyline points="247.7,1804.4 268.5,1819.2 283.3,1813.3 298.1,1825.1 315.9,1837.0 333.6,1837.0 351.4,1828.1 366.2,1828.1 381.0,1837.0 392.9,1834.0 404.7,1825.1 416.6,1831.0 434.4,1839.9 446.2,1848.8 458.1,1842.9 469.9,1851.8 475.8,1860.7 490.6,1872.5 505.5,1884.4 517.3,1890.3 535.1,1887.3 552.8,1884.4 564.7,1872.5 576.5,1854.7 588.4,1842.9 594.3,1834.0" fill="none" stroke="#5b8fc8" stroke-width="0.9" opacity="0.8"/>
<polyline points="458.1,1842.9 469.9,1831.0 487.7,1813.3 505.5,1801.4 523.2,1789.6 535.1,1777.7 552.8,1771.8 570.6,1774.8 594.3,1777.7 612.1,1774.8 623.9,1771.8" fill="none" stroke="#5b8fc8" stroke-width="0.9" opacity="0.8"/>
<polyline points="375.1,1896.2 375.1,1866.6 387.0,1851.8 392.9,1831.0" fill="none" stroke="#5b8fc8" stroke-width="0.9" opacity="0.8"/>
<polyline points="298.1,1837.0 292.2,1807.3 289.2,1777.7 298.1,1748.1 304.0,1730.3" fill="none" stroke="#5b8fc8" stroke-width="0.9" opacity="0.8"/>
<polyline points="392.9,1834.0 398.8,1866.6 410.7,1890.3 416.6,1908.1" fill="none" stroke="#5b8fc8" stroke-width="0.9" opacity="0.8"/>
<polyline points="499.5,1712.6 520.3,1697.7 538.0,1680.0 544.0,1659.2 558.8,1647.4 585.4,1638.5 612.1,1637.0 635.8,1641.5 653.6,1644.4 671.3,1659.2 683.2,1677.0 698.0,1697.7 706.9,1712.6 715.8,1724.4" fill="none" stroke="#5b8fc8" stroke-width="0.9" opacity="0.8"/>
<polyline points="594.3,1703.7 600.2,1724.4 606.2,1748.1 623.9,1754.0 641.7,1760.0" fill="none" stroke="#5b8fc8" stroke-width="0.9" opacity="0.8"/>
<polyline points="653.6,1777.7 665.4,1792.5 671.3,1813.3 683.2,1825.1" fill="none" stroke="#5b8fc8" stroke-width="0.9" opacity="0.8"/>
<polyline points="594.3,1896.2 606.2,1884.4 623.9,1866.6 638.7,1854.7" fill="none" stroke="#5b8fc8" stroke-width="0.9" opacity="0.8"/>
<polyline points="499.5,1902.1 505.5,1919.9 514.3,1934.7 523.2,1955.5" fill="none" stroke="#5b8fc8" stroke-width="0.9" opacity="0.8"/>
<polyline points="404.7,1925.8 410.7,1940.6 416.6,1955.5 431.4,1973.2" fill="none" stroke="#5b8fc8" stroke-width="0.9" opacity="0.8"/>
<polyline points="327.7,1943.6 339.6,1958.4 345.5,1979.1" fill="none" stroke="#5b8fc8" stroke-width="0.9" opacity="0.8"/>
<polyline points="269.1,1830.2 275.7,1823.6 279.6,1815.8 286.1,1814.5 291.4,1818.4 292.7,1824.9 296.6,1831.5 303.1,1834.1 314.9,1838.0 331.9,1836.7 339.7,1840.6 343.6,1836.7 351.5,1828.9 360.6,1824.9 368.5,1827.5 375.0,1831.5 377.6,1834.1 385.4,1831.5 393.3,1824.9 402.4,1823.6 407.7,1827.5 411.6,1835.4 416.8,1839.3 420.7,1847.1 424.6,1853.7 429.9,1857.6 435.1,1860.2 442.9,1855.0 449.5,1849.8 457.3,1844.5 463.8,1841.9" fill="none" stroke="#2f629e" stroke-width="0.9" opacity="0.85"/>
<polyline points="456.0,1844.5 463.8,1852.4 475.6,1864.1 488.7,1877.2 501.7,1887.7 514.8,1890.3 527.9,1887.7 540.9,1890.3 560.0,1883.7" fill="none" stroke="#2f629e" stroke-width="0.9" opacity="0.85"/>
<polyline points="361.9,1824.9 375.0,1821.0 376.3,1813.2 372.4,1804.0 365.8,1796.2 367.1,1789.7 377.6,1780.5 390.7,1781.8 403.7,1781.8 423.3,1772.7 429.9,1771.4 442.9,1774.0 456.0,1777.9" fill="none" stroke="#2f629e" stroke-width="0.9" opacity="0.85"/>
<polyline points="377.6,1777.9 384.1,1775.3 403.7,1776.6 416.8,1766.1 429.9,1753.1 436.4,1740.0" fill="none" stroke="#2f629e" stroke-width="0.9" opacity="0.85"/>
<polyline points="303.1,1746.5 301.8,1766.1 300.5,1792.3 297.9,1802.7 291.4,1813.2" fill="none" stroke="#2f629e" stroke-width="0.9" opacity="0.85"/>
<polyline points="393.3,1855.0 390.7,1864.1 380.2,1874.6 375.0,1883.7 372.4,1896.8 377.6,1907.3 384.1,1912.5 397.2,1913.8 407.7,1921.6" fill="none" stroke="#2f629e" stroke-width="0.9" opacity="0.85"/>
<polyline points="440.3,1860.2 445.5,1870.7 448.2,1883.7 446.9,1896.8 445.5,1909.9" fill="none" stroke="#2f629e" stroke-width="0.9" opacity="0.85"/>
<polyline points="490.0,1883.7 482.1,1903.3 480.8,1908.6" fill="none" stroke="#2f629e" stroke-width="0.9" opacity="0.85"/>
<polyline points="425.9,1772.7 439.0,1784.4 436.4,1794.9 439.0,1806.6" fill="none" stroke="#2f629e" stroke-width="0.9" opacity="0.85"/>
<polyline points="393.3,1855.0 397.2,1870.7 406.3,1881.1 416.8,1886.3 420.7,1894.2" fill="none" stroke="#2f629e" stroke-width="0.9" opacity="0.85"/>
<polyline points="318.8,1774.0 305.7,1779.2 300.5,1785.7" fill="none" stroke="#2f629e" stroke-width="0.9" opacity="0.85"/>
<circle cx="552.3" cy="1762.9" r="4.3" fill="#ff0000"/>
<text x="566.2" y="1706.6" font-size="28.5" fill="#555555">A</text>
<text x="620.6" y="1720.0" font-size="28.5" fill="#555555">B</text>
<text x="647.3" y="1745.1" font-size="28.5" fill="#555555">X</text>
<text x="653.2" y="1804.4" font-size="28.5" fill="#555555">W</text>
<text x="524.7" y="1816.2" font-size="28.5" fill="#555555">C</text>
<text x="428.1" y="1858.5" font-size="28.5" fill="#555555">D</text>
<text x="620.0" y="1837.1" font-size="28.5" fill="#555555">V</text>
<text x="627.0" y="1872.6" font-size="28.5" fill="#555555">U</text>
<text x="292.1" y="1881.8" font-size="28.5" fill="#555555">F</text>
<text x="588.3" y="1914.0" font-size="28.5" fill="#555555">T</text>
<text x="335.2" y="1934.6" font-size="28.5" fill="#555555">E</text>
<text x="542.3" y="1941.2" font-size="28.5" fill="#555555">S</text>
<text x="502.7" y="1948.0" font-size="28.5" fill="#555555">Q</text>
<text x="546.9" y="1969.2" font-size="28.5" fill="#555555">R</text>
<text x="448.5" y="1964.2" font-size="28.5" fill="#555555">L</text>
<text x="477.1" y="1963.3" font-size="28.5" fill="#555555">N</text>
<text x="399.1" y="1977.9" font-size="28.5" fill="#555555">J</text>
<text x="517.8" y="1984.2" font-size="28.5" fill="#555555">P</text>
<text x="321.0" y="1985.0" font-size="28.5" fill="#555555">G</text>
<text x="354.9" y="2000.0" font-size="28.5" fill="#555555">H</text>
<text x="440.9" y="2001.2" font-size="28.5" fill="#555555">K</text>
<text x="489.8" y="1996.6" font-size="28.5" fill="#555555">M</text>
</g>
<text x="695.8" y="2028.9" font-size="19.8">C</text>
<clipPath id="m2c"><rect x="825" y="1617" width="643" height="420"/></clipPath>
<g clip-path="url(#m2c)">
<rect x="825" y="1617" width="643" height="420" fill="#c1c1c1"/>
<polygon points="825.0,1617.0 1468.0,1617.0 1468.0,1751.0 1470.6,1751.4 1464.8,1747.8 1453.3,1740.6 1444.7,1736.3 1438.9,1728.4 1420.3,1727.7 1411.6,1730.5 1410.2,1734.8 1410.2,1734.8 1398.7,1729.1 1391.5,1720.5 1381.4,1719.0 1377.1,1711.9 1371.4,1703.2 1367.1,1697.5 1357.0,1694.6 1355.6,1687.4 1347.0,1677.4 1338.3,1668.7 1331.1,1666.6 1328.3,1677.4 1319.6,1684.5 1312.5,1681.7 1305.3,1686.0 1290.9,1695.3 1278.0,1696.0 1266.5,1695.3 1252.1,1688.9 1240.6,1684.5 1234.9,1683.1 1226.2,1683.1 1219.0,1695.3 1206.1,1694.6 1198.9,1697.5 1187.4,1691.7 1184.6,1677.4 1181.7,1674.5 1171.6,1677.4 1163.0,1671.6 1161.6,1665.9 1154.4,1658.7 1151.5,1651.5 1140.0,1648.6 1129.3,1646.7 1115.2,1643.9 1101.0,1642.5 1093.9,1645.3 1093.9,1651.0 1089.7,1658.0 1079.8,1655.2 1065.6,1651.0 1057.1,1646.7 1050.1,1651.0 1043.0,1648.1 1041.6,1642.5 1034.5,1634.7 1020.3,1634.0 1011.8,1638.2 1011.8,1638.2 999.1,1635.4 987.8,1629.7 980.7,1626.9 968.0,1632.6 963.7,1642.5 966.5,1655.2 952.4,1660.9 943.9,1677.9 931.2,1675.0 909.9,1677.9 894.4,1684.9 870.3,1701.9 853.3,1718.9 842.0,1733.1 833.5,1748.6 833.5,1758.5 825.0,1786.9 825.0,1787.0" fill="#b1b1b1"/>
<polyline points="825.0,1786.9 833.5,1758.5 833.5,1748.6 842.0,1733.1 853.3,1718.9 870.3,1701.9 894.4,1684.9 909.9,1677.9 931.2,1675.0 943.9,1677.9 952.4,1660.9 966.5,1655.2 963.7,1642.5 968.0,1632.6 980.7,1626.9 987.8,1629.7 999.1,1635.4 1011.8,1638.2" fill="none" stroke="#f0f0f0" stroke-width="1.3"/>
<polyline points="1410.2,1734.8 1411.6,1730.5 1420.3,1727.7 1438.9,1728.4 1444.7,1736.3 1453.3,1740.6 1464.8,1747.8 1470.6,1751.4" fill="none" stroke="#f0f0f0" stroke-width="1.3"/>
<polyline points="926.9,1617.0 929.7,1621.2 935.4,1632.6 952.4,1632.6 968.0,1632.6" fill="none" stroke="#f0f0f0" stroke-width="1.2"/>
<polyline points="1355.6,1617.0 1351.3,1624.2 1355.6,1635.7 1354.1,1644.3 1345.5,1647.9 1344.1,1657.2 1338.3,1667.3" fill="none" stroke="#f0f0f0" stroke-width="1.2"/>
<polyline points="1447.1,1616.8 1455.9,1644.1 1447.1,1673.5 1432.4,1697.0 1429.4,1723.5" fill="none" stroke="#d8d8d8" stroke-width="1"/>
<polygon points="1011.8,1638.2 1020.3,1634.0 1034.5,1634.7 1041.6,1642.5 1043.0,1648.1 1050.1,1651.0 1057.1,1646.7 1065.6,1651.0 1079.8,1655.2 1089.7,1658.0 1093.9,1651.0 1093.9,1645.3 1101.0,1642.5 1115.2,1643.9 1129.3,1646.7 1140.0,1648.6 1151.5,1651.5 1154.4,1658.7 1161.6,1665.9 1163.0,1671.6 1171.6,1677.4 1181.7,1674.5 1184.6,1677.4 1187.4,1691.7 1198.9,1697.5 1206.1,1694.6 1219.0,1695.3 1226.2,1683.1 1234.9,1683.1 1240.6,1684.5 1252.1,1688.9 1266.5,1695.3 1278.0,1696.0 1290.9,1695.3 1305.3,1686.0 1312.5,1681.7 1319.6,1684.5 1328.3,1677.4 1331.1,1666.6 1338.3,1668.7 1347.0,1677.4 1355.6,1687.4 1357.0,1694.6 1367.1,1697.5 1371.4,1703.2 1377.1,1711.9 1381.4,1719.0 1391.5,1720.5 1398.7,1729.1 1410.2,1734.8 1414.5,1746.3 1413.1,1753.5 1408.8,1760.7 1408.8,1770.8 1398.7,1772.2 1387.2,1782.3 1375.7,1782.3 1364.2,1785.2 1351.3,1793.8 1347.0,1802.4 1344.1,1806.7 1326.8,1806.7 1315.3,1799.5 1303.8,1802.4 1288.0,1805.3 1286.6,1809.6 1289.5,1818.2 1282.3,1825.4 1280.8,1830.0 1278.0,1835.2 1279.5,1849.9 1285.4,1864.6 1286.9,1882.2 1278.0,1891.0 1267.7,1882.2 1256.0,1873.4 1241.3,1866.1 1226.6,1866.1 1214.8,1858.7 1210.4,1848.4 1197.2,1852.8 1188.4,1855.8 1173.7,1858.7 1167.8,1852.8 1147.2,1852.8 1129.6,1861.6 1123.7,1852.8 1109.0,1846.9 1103.1,1841.1 1088.4,1842.5 1073.7,1855.8 1067.8,1864.6 1067.8,1876.3 1073.7,1885.2 1076.6,1894.0 1073.7,1902.8 1061.9,1905.7 1044.3,1907.2 1026.7,1911.6 1023.7,1914.6 1029.6,1923.4 1038.4,1938.1 1044.3,1946.9 1050.2,1955.7 1059.0,1967.5 1066.4,1976.3 1070.8,1991.0 1079.6,1999.8 1091.3,2011.6 1073.7,2008.6 1059.0,2011.6 1038.4,2014.5 1020.8,2016.0 1003.2,2014.5 979.6,2014.5 967.9,2011.6 950.2,2002.8 938.5,1993.9 926.7,1985.1 909.1,1979.2 894.4,1973.4 882.6,1967.5 879.7,1952.8 879.7,1938.1 882.6,1923.4 885.6,1905.7 882.6,1894.0 876.7,1882.2 879.7,1870.5 888.5,1855.8 897.3,1844.0 903.2,1835.2 918.4,1830.0 924.1,1826.5 936.8,1820.8 941.1,1823.7 949.6,1815.2 952.4,1809.5 959.5,1803.8 970.8,1802.4 977.9,1795.3 982.1,1786.9 980.7,1772.7 976.5,1765.6 976.5,1757.1 975.0,1744.4 973.6,1734.5 976.5,1730.2 980.7,1716.1 986.4,1704.8 994.9,1696.3 993.4,1687.8 996.3,1684.9 999.1,1676.4 1003.3,1670.8 1013.3,1658.0 1007.6,1646.7" fill="#ffffff" stroke="#e8e8e8" stroke-width="1.5"/>
<polyline points="1094.3,1651.4 1106.0,1667.6 1109.0,1688.2 1106.0,1711.7 1110.5,1717.6 1106.0,1726.4 1097.2,1741.1 1094.3,1758.8 1098.7,1776.4 1097.2,1785.2 1088.4,1794.0 1084.0,1805.8 1085.5,1823.4 1088.4,1835.2 1088.4,1841.1" fill="none" stroke="#8a8a8a" stroke-width="0.9"/>
<polyline points="1235.4,1683.8 1232.5,1694.1 1226.6,1723.5 1206.0,1729.4 1197.2,1735.2 1197.2,1758.8 1194.2,1770.5 1197.2,1782.3 1208.9,1794.0 1217.8,1802.9 1214.8,1811.7 1226.6,1823.4 1238.3,1835.2 1241.3,1849.9 1250.1,1864.6 1264.8,1876.3 1278.0,1891.0" fill="none" stroke="#8a8a8a" stroke-width="0.9"/>
<polyline points="1023.7,1742.6 1032.6,1758.8 1035.5,1764.6 1034.0,1776.4 1032.6,1791.1 1035.5,1805.8 1042.8,1817.6 1044.3,1829.3 1047.3,1835.2 1041.4,1844.0 1038.4,1855.8 1029.6,1864.6 1020.8,1873.4 1009.0,1876.3 1006.1,1882.2 1012.0,1891.0 1017.9,1899.9 1014.9,1911.6 1020.8,1917.5 1003.2,1920.4 991.4,1917.5 979.6,1923.4 973.8,1935.1 962.0,1946.9 953.2,1958.7 947.3,1973.4 941.4,1982.2 935.5,1967.5 926.7,1961.6 912.0,1952.8 900.3,1955.7 885.6,1961.6 879.7,1967.5 859.1,1973.4 838.5,1982.2 825.3,1993.9" fill="none" stroke="#4d86c6" stroke-width="0.9" opacity="0.75"/>
<polyline points="1064.9,1738.2 1056.1,1741.1 1044.3,1752.9 1038.4,1764.6" fill="none" stroke="#4d86c6" stroke-width="0.9" opacity="0.75"/>
<polyline points="1154.6,1773.5 1138.4,1782.3 1123.7,1794.0 1114.9,1805.8 1106.0,1820.5 1097.2,1826.4 1091.3,1823.4 1085.5,1832.3 1088.4,1841.1 1109.0,1835.2 1126.6,1835.2 1138.4,1838.1 1153.1,1820.5 1167.8,1829.3 1182.5,1823.4 1194.2,1805.8 1206.0,1797.0 1220.7,1802.9 1232.5,1799.9 1247.2,1799.9 1256.0,1797.0 1261.9,1785.2 1279.5,1770.5 1285.4,1752.9 1294.2,1738.2 1297.1,1717.6" fill="none" stroke="#4d86c6" stroke-width="0.9" opacity="0.75"/>
<polyline points="1123.7,1747.0 1117.8,1758.8 1114.9,1770.5 1120.7,1794.0" fill="none" stroke="#4d86c6" stroke-width="0.9" opacity="0.75"/>
<polyline points="1370.6,1752.9 1355.9,1764.6 1332.4,1776.4 1314.8,1773.5 1300.1,1782.3 1285.4,1788.2 1264.8,1785.2" fill="none" stroke="#4d86c6" stroke-width="0.9" opacity="0.75"/>
<polyline points="1226.6,1776.4 1223.6,1791.1 1217.8,1802.9" fill="none" stroke="#4d86c6" stroke-width="0.9" opacity="0.75"/>
<polyline points="1423.6,1739.6 1438.3,1758.8 1435.3,1776.4 1429.4,1805.8 1423.6,1817.6 1403.0,1832.3 1391.2,1844.0 1373.6,1852.8 1358.9,1855.8" fill="none" stroke="#4d86c6" stroke-width="0.9" opacity="0.75"/>
<polyline points="1441.2,1764.6 1468.2,1760.2" fill="none" stroke="#4d86c6" stroke-width="0.9" opacity="0.75"/>
<polyline points="1291.3,1823.4 1314.8,1835.2 1332.4,1841.1 1344.2,1849.9 1358.9,1855.8 1373.6,1846.9 1388.3,1841.1 1403.0,1849.9 1432.4,1849.9 1468.2,1846.9" fill="none" stroke="#4d86c6" stroke-width="0.9" opacity="0.75"/>
<polyline points="1088.4,1841.1 1103.1,1858.7 1117.8,1870.5 1126.6,1888.1 1138.4,1894.0 1167.8,1888.1 1197.2,1891.0 1229.5,1888.1" fill="none" stroke="#4d86c6" stroke-width="0.9" opacity="0.75"/>
<polyline points="1020.8,1917.5 1038.4,1923.4 1047.3,1938.1 1050.2,1946.9 1073.7,1958.7" fill="none" stroke="#4d86c6" stroke-width="0.9" opacity="0.75"/>
<polyline points="1314.8,1841.1 1332.4,1864.6 1344.2,1888.1 1355.9,1908.7 1361.8,1923.4 1373.6,1938.1 1385.3,1952.8 1391.2,1982.2 1397.1,2011.6 1403.0,2036.6" fill="none" stroke="#4d86c6" stroke-width="0.9" opacity="0.75"/>
<polyline points="1355.9,1899.9 1353.0,1923.4 1344.2,1952.8 1332.4,1970.4 1320.7,1976.3 1317.7,2011.6 1320.7,2036.6" fill="none" stroke="#4d86c6" stroke-width="0.9" opacity="0.75"/>
<polyline points="1056.1,1929.3 1079.6,1932.2 1103.1,1926.3 1114.9,1941.0 1120.7,1964.5 1138.4,1973.4 1153.1,1982.2 1167.8,1985.1 1185.4,1988.1 1203.1,1993.9" fill="none" stroke="#4d86c6" stroke-width="0.9" opacity="0.75"/>
<polyline points="826.8,1882.2 832.6,1864.6 844.4,1846.9 853.2,1829.3 862.0,1805.8 859.1,1788.2 873.8,1776.4 882.6,1773.5" fill="none" stroke="#4d86c6" stroke-width="0.9" opacity="0.75"/>
<polyline points="879.7,1970.4 891.4,1982.2 909.1,1996.9 932.6,2008.6 950.2,2017.5 967.9,2023.3 979.6,2036.6" fill="none" stroke="#4d86c6" stroke-width="0.9" opacity="0.75"/>
<polyline points="1079.6,1896.9 1091.3,1911.6 1103.1,1914.6 1123.7,1914.6 1138.4,1926.3 1150.1,1946.9 1167.8,1964.5 1197.2,1964.5 1220.7,1958.7 1241.3,1967.5 1256.0,1982.2 1270.7,1993.9 1285.4,1991.0 1291.3,1982.2 1294.2,1952.8 1285.4,1923.4 1273.6,1911.6 1276.6,1894.0" fill="none" stroke="#dedede" stroke-width="1"/>
<polyline points="1300.1,1932.2 1314.8,1899.9 1332.4,1882.2 1353.0,1876.3 1373.6,1894.0 1397.1,1899.9 1417.7,1917.5 1432.4,1946.9 1444.1,1958.7 1468.2,1967.5" fill="none" stroke="#dedede" stroke-width="1"/>
<polyline points="1291.3,1823.4 1308.9,1829.3 1332.4,1832.3 1353.0,1835.2" fill="none" stroke="#dedede" stroke-width="1"/>
<polyline points="1138.4,1999.8 1144.3,2017.5 1161.9,2032.2 1167.8,2036.6" fill="none" stroke="#dedede" stroke-width="1"/>
<polyline points="885.6,1973.4 873.8,1999.8 885.6,2017.5 888.5,2036.6" fill="none" stroke="#dedede" stroke-width="1"/>
<polyline points="824.7,1908.7 838.5,1882.2 859.1,1873.4 879.7,1870.5" fill="none" stroke="#dedede" stroke-width="1"/>
<circle cx="1144.3" cy="1728.8" r="5.4" fill="#ff0000"/>
<text x="1023.5" y="2009" font-size="39" font-weight="bold" fill="#777777">C</text>
</g>
<text x="1402" y="2029" font-size="19.5">C2</text>
<clipPath id="m3c"><rect x="1484" y="1617" width="644" height="420"/></clipPath>
<g clip-path="url(#m3c)">
<rect x="1484" y="1617" width="644" height="420" fill="#c1c1c1"/>
<polygon points="1484.0,1617.0 1546.5,1629.1 1539.4,1642.6 1545.1,1656.8 1543.6,1668.1 1530.9,1679.5 1522.3,1696.5 1518.1,1702.2 1520.9,1713.5 1512.4,1724.9 1503.9,1737.7 1496.8,1751.9 1491.1,1770.3 1488.3,1780.3 1489.7,1801.6 1491.1,1815.8 1493.9,1830.0 1484.0,2037.0" fill="#bdbdbd"/>
<polygon points="1546.5,1629.1 1516.7,1617.0 1526.6,1622.7 1535.1,1625.5 1543.6,1629.8 1555.0,1626.9 1562.1,1619.8 1569.2,1622.7 1580.5,1624.1 1590.5,1631.2 1591.9,1642.6 1600.4,1649.7 1606.1,1649.7 1608.9,1642.6 1614.6,1645.4 1617.5,1641.1 1626.0,1648.2 1634.5,1649.7 1647.3,1653.9 1655.8,1656.8 1662.9,1661.0 1671.4,1651.1 1671.4,1651.1 1682.8,1663.9 1688.5,1671.0 1689.9,1688.0 1688.5,1693.7 1695.6,1705.0 1694.1,1716.4 1695.6,1730.6 1695.6,1737.7 1688.5,1740.5 1687.0,1749.0 1697.0,1753.3 1695.6,1760.4 1689.9,1766.1 1689.9,1787.4 1682.8,1793.1 1674.3,1798.7 1674.3,1807.3 1671.4,1815.8 1670.0,1830.0 1666.1,1917.5 1663.2,1923.4 1663.2,1926.3 1657.3,1932.2 1639.6,1941.0 1622.0,1941.0 1610.2,1944.0 1592.6,1949.8 1580.8,1952.8 1572.0,1970.4 1563.2,1993.9 1548.5,2011.6 1533.8,2023.3 1519.1,2036.6 1490.0,2037.0 1493.9,1830.0 1491.1,1815.8 1489.7,1801.6 1488.3,1780.3 1491.1,1770.3 1496.8,1751.9 1503.9,1737.7 1512.4,1724.9 1520.9,1713.5 1518.1,1702.2 1522.3,1696.5 1530.9,1679.5 1543.6,1668.1 1545.1,1656.8 1539.4,1642.6 1546.5,1629.1" fill="#d0d0d0"/>
<polygon points="1877.6,1694.6 1887.9,1694.6 1898.3,1699.8 1913.8,1704.9 1929.3,1710.1 1944.8,1716.6 1960.3,1717.9 1975.8,1714.0 1991.4,1704.9 2006.9,1694.6 2022.4,1692.0 2032.7,1684.2 2035.3,1672.6 2043.1,1672.6 2056.0,1681.6 2061.2,1694.6 2071.5,1702.3 2074.1,1715.3 2089.6,1715.3 2100.0,1725.6 2110.3,1746.3 2128.4,1754.1 2133.6,1755.4 2133.6,1839.4 2123.2,1844.6 2110.3,1852.3 2097.4,1854.9 2084.5,1854.9 2071.5,1860.1 2066.4,1875.6 2058.6,1885.9 2045.7,1888.5 2032.7,1885.9 2019.8,1880.8 2004.3,1878.2 1981.0,1880.8 1968.1,1885.9 1965.5,1901.5 1955.2,1914.4 1952.6,1940.2 1962.9,1966.1 1965.5,1992.0 1955.2,2010.1 1952.6,2010.1 1944.8,2002.3 1934.5,1994.6 1924.1,1984.2 1913.8,1973.9 1903.4,1966.1 1895.7,1955.8 1898.3,1945.4 1895.7,1932.5 1887.9,1922.1 1877.6,1911.8 1867.2,1901.5 1859.5,1891.1 1859.5,1878.2 1854.3,1865.3 1846.5,1857.5 1838.8,1844.6 1828.4,1829.1 1828.4,1810.9 1833.6,1798.0 1833.6,1782.5 1844.0,1769.6 1864.6,1767.0 1872.4,1761.8 1875.0,1746.3 1877.6,1728.2 1882.8,1715.3 1887.9,1697.2" fill="#d0d0d0"/>
<polygon points="1484.0,1617.0 2128.0,1617.0 2128.0,1754.0 2133.6,1755.4 2128.4,1754.1 2110.3,1746.3 2100.0,1725.6 2089.6,1715.3 2074.1,1715.3 2071.5,1702.3 2061.2,1694.6 2056.0,1681.6 2043.1,1672.6 2035.3,1672.6 2032.7,1684.2 2022.4,1692.0 2006.9,1694.6 1991.4,1704.9 1975.8,1714.0 1960.3,1717.9 1944.8,1716.6 1929.3,1710.1 1913.8,1704.9 1898.3,1699.8 1887.9,1694.6 1877.6,1694.6 1862.1,1710.1 1841.4,1712.7 1831.0,1715.3 1815.5,1702.3 1810.3,1684.2 1810.0,1682.3 1792.1,1688.0 1785.0,1685.2 1776.5,1680.9 1775.1,1673.8 1765.1,1659.6 1760.9,1648.2 1750.9,1644.0 1728.2,1641.8 1718.3,1639.7 1697.0,1635.5 1681.4,1632.6 1670.0,1638.3 1662.9,1661.0 1655.8,1656.8 1647.3,1653.9 1634.5,1649.7 1626.0,1648.2 1617.5,1641.1 1614.6,1645.4 1608.9,1642.6 1606.1,1649.7 1600.4,1649.7 1591.9,1642.6 1590.5,1631.2 1580.5,1624.1 1569.2,1622.7 1562.1,1619.8 1555.0,1626.9 1543.6,1629.8 1535.1,1625.5 1526.6,1622.7 1516.7,1617.0 1484.0,1617.0" fill="#b1b1b1"/>
<polyline points="1516.7,1617.0 1526.6,1622.7 1535.1,1625.5 1543.6,1629.8 1555.0,1626.9 1562.1,1619.8 1569.2,1622.7 1580.5,1624.1 1590.5,1631.2 1591.9,1642.6 1600.4,1649.7 1606.1,1649.7 1608.9,1642.6 1614.6,1645.4 1617.5,1641.1 1626.0,1648.2 1634.5,1649.7 1647.3,1653.9 1655.8,1656.8 1662.9,1661.0 1671.4,1651.1" fill="none" stroke="#f2f2f2" stroke-width="1.2"/>
<polyline points="1810.3,1684.2 1815.5,1702.3 1831.0,1715.3 1841.4,1712.7 1862.1,1710.1 1877.6,1694.6 1887.9,1694.6 1898.3,1699.8 1913.8,1704.9 1929.3,1710.1 1944.8,1716.6 1960.3,1717.9 1975.8,1714.0 1991.4,1704.9 2006.9,1694.6 2022.4,1692.0 2032.7,1684.2 2035.3,1672.6 2043.1,1672.6 2056.0,1681.6 2061.2,1694.6 2071.5,1702.3 2074.1,1715.3 2089.6,1715.3 2100.0,1725.6 2110.3,1746.3 2128.4,1754.1 2133.6,1755.4" fill="none" stroke="#f2f2f2" stroke-width="1.2"/>
<polyline points="2070.2,1617.0 2071.5,1632.5 2058.6,1642.9 2056.0,1655.8 2048.3,1673.9" fill="none" stroke="#f2f2f2" stroke-width="1.2"/>
<polyline points="1934.5,1844.6 1978.4,1836.8 1991.4,1821.3 1988.8,1813.5 2006.9,1808.4 2014.6,1798.0 2019.8,1785.1 2019.8,1772.2 2043.1,1754.1 2045.7,1748.9 2030.2,1736.0 2017.2,1717.9 2006.9,1714.0 1991.4,1710.1 1986.2,1704.9" fill="none" stroke="#f2f2f2" stroke-width="1.2"/>
<polyline points="1934.5,1852.3 1944.8,1862.7 1955.2,1873.0 1965.5,1885.9" fill="none" stroke="#f2f2f2" stroke-width="1.2"/>
<polyline points="1955.2,2010.1 1965.5,1992.0 1962.9,1966.1 1952.6,1940.2 1955.2,1914.4 1965.5,1901.5 1968.1,1885.9 1981.0,1880.8 2004.3,1878.2 2019.8,1880.8 2032.7,1885.9 2045.7,1888.5 2058.6,1885.9 2066.4,1875.6 2071.5,1860.1 2084.5,1854.9 2097.4,1854.9 2110.3,1852.3 2123.2,1844.6 2133.6,1839.4" fill="none" stroke="#d8d8d8" stroke-width="1"/>
<polyline points="1484.4,1914.6 1495.6,1920.4 1507.3,1935.1 1513.2,1967.5 1519.1,1996.9 1527.9,2036.6" fill="none" stroke="#f0f0f0" stroke-width="1.2"/>
<polyline points="1974.8,1891.0 1992.4,1923.4 2004.2,1941.0 2010.1,1952.8 2033.6,1967.5 2051.2,1982.2 2063.0,1996.9 2080.6,2017.5 2092.4,2026.3 2128.2,2032.2" fill="none" stroke="#d6d6d6" stroke-width="1"/>
<polygon points="1670.0,1638.3 1681.4,1632.6 1697.0,1635.5 1718.3,1639.7 1728.2,1641.8 1750.9,1644.0 1760.9,1648.2 1765.1,1659.6 1775.1,1673.8 1776.5,1680.9 1785.0,1685.2 1792.1,1688.0 1810.0,1682.3 1887.9,1697.2 1882.8,1715.3 1877.6,1728.2 1875.0,1746.3 1872.4,1761.8 1864.6,1767.0 1844.0,1769.6 1833.6,1782.5 1833.6,1798.0 1828.4,1810.9 1828.4,1829.1 1838.8,1844.6 1846.5,1857.5 1854.3,1865.3 1859.5,1878.2 1859.5,1891.1 1867.2,1901.5 1877.6,1911.8 1887.9,1922.1 1895.7,1932.5 1898.3,1945.4 1895.7,1955.8 1903.4,1966.1 1913.8,1973.9 1924.1,1984.2 1934.5,1994.6 1944.8,2002.3 1952.6,2010.1 1950.0,2010.1 1937.1,2004.9 1924.1,1999.7 1911.2,1994.6 1898.3,1992.0 1877.6,1986.8 1864.6,1979.0 1859.5,1966.1 1844.0,1955.8 1833.6,1960.9 1815.5,1966.1 1800.0,1968.7 1786.6,1958.7 1769.0,1958.7 1757.2,1955.7 1739.6,1961.6 1727.8,1970.4 1721.9,1964.5 1719.0,1952.8 1704.3,1944.0 1686.7,1938.1 1669.0,1941.0 1663.2,1932.2 1666.1,1917.5 1670.0,1830.0 1671.4,1815.8 1674.3,1807.3 1674.3,1798.7 1682.8,1793.1 1689.9,1787.4 1689.9,1766.1 1695.6,1760.4 1697.0,1753.3 1687.0,1749.0 1688.5,1740.5 1695.6,1737.7 1695.6,1730.6 1694.1,1716.4 1695.6,1705.0 1688.5,1693.7 1689.9,1688.0 1688.5,1671.0 1682.8,1663.9 1671.4,1651.1" fill="#ffffff" stroke="#e8e8e8" stroke-width="1.3"/>
<polyline points="1774.9,1680.8 1786.6,1697.0 1791.0,1717.6 1789.6,1726.4 1769.0,1730.8 1741.1,1736.7 1742.5,1744.1 1749.9,1752.9 1749.9,1767.6 1749.9,1788.2 1757.2,1797.0 1769.0,1794.0 1786.6,1788.2 1801.3,1782.3 1813.1,1776.4 1819.0,1764.6 1819.0,1752.9 1816.0,1741.1 1819.0,1729.4 1824.8,1720.5 1833.7,1717.6" fill="none" stroke="#808080" stroke-width="1"/>
<polyline points="1572.0,1764.6 1583.8,1776.4 1586.7,1802.9 1580.8,1823.4 1577.9,1835.2 1579.4,1864.6 1580.8,1879.3 1586.7,1894.0 1592.6,1905.7 1598.5,1920.4 1595.5,1938.1 1586.7,1949.8 1577.9,1967.5 1563.2,1976.3 1548.5,1988.1 1539.7,1996.9 1533.8,2011.6 1539.7,2036.6" fill="none" stroke="#4d86c6" stroke-width="0.9" opacity="0.7"/>
<polyline points="1522.0,1758.8 1533.8,1770.5 1551.4,1782.3 1569.1,1791.1 1586.7,1802.9 1601.4,1791.1 1616.1,1782.3 1633.8,1776.4 1651.4,1773.5 1666.1,1773.5" fill="none" stroke="#4d86c6" stroke-width="0.9" opacity="0.7"/>
<polyline points="1666.1,1911.6 1680.8,1914.6 1686.7,1911.6 1698.4,1894.0 1710.2,1873.4 1719.0,1855.8 1727.8,1844.0 1739.6,1838.1 1751.3,1835.2 1766.0,1832.3 1774.9,1835.2 1786.6,1838.1" fill="none" stroke="#4d86c6" stroke-width="0.9" opacity="0.7"/>
<polyline points="1666.1,1911.6 1680.8,1926.3 1698.4,1929.3 1710.2,1926.3 1724.9,1932.2 1733.7,1941.0 1745.5,1935.1 1754.3,1917.5 1763.1,1905.7 1780.7,1911.6 1792.5,1917.5 1804.3,1911.6 1813.1,1894.0 1819.0,1882.2 1836.6,1876.3 1848.4,1882.2 1860.1,1879.3" fill="none" stroke="#4d86c6" stroke-width="0.9" opacity="0.7"/>
<polyline points="1586.7,1952.8 1598.5,1938.1 1613.2,1929.3 1622.0,1923.4 1639.6,1926.3 1657.3,1929.3 1663.2,1926.3" fill="none" stroke="#4d86c6" stroke-width="0.9" opacity="0.7"/>
<polyline points="1860.1,1879.3 1871.9,1858.7 1874.8,1841.1 1868.9,1829.3" fill="none" stroke="#4d86c6" stroke-width="0.9" opacity="0.7"/>
<polyline points="1927.7,1844.0 1939.5,1829.3 1948.3,1817.6 1957.1,1794.0 1960.1,1776.4 1971.8,1764.6 1980.7,1741.1" fill="none" stroke="#4d86c6" stroke-width="0.9" opacity="0.7"/>
<polyline points="1936.6,1855.8 1945.4,1879.3 1957.1,1894.0 1968.9,1908.7" fill="none" stroke="#4d86c6" stroke-width="0.9" opacity="0.7"/>
<polyline points="2021.8,1864.6 2030.6,1852.8 2048.3,1844.0 2063.0,1841.1 2077.7,1835.2 2092.4,1823.4 2107.1,1811.7" fill="none" stroke="#4d86c6" stroke-width="0.9" opacity="0.7"/>
<polyline points="1859.5,1878.2 1867.2,1875.6 1877.6,1885.9 1880.2,1888.5 1882.8,1878.2 1898.3,1875.6 1906.0,1874.3 1911.2,1865.3 1921.5,1857.5 1926.7,1853.6 1934.5,1852.3 1944.8,1853.6 1950.0,1857.5" fill="none" stroke="#1ef0f8" stroke-width="2"/>
<polyline points="1934.5,1852.3 1937.1,1865.3 1939.6,1875.6" fill="none" stroke="#1ef0f8" stroke-width="2"/>
<polyline points="1906.0,1874.3 1913.8,1885.9" fill="none" stroke="#1ef0f8" stroke-width="2"/>
<polygon points="1978.4,1893.7 1983.6,1901.5 1988.8,1904.0 1986.2,1914.4 1990.1,1922.1 1983.6,1927.3 1973.3,1929.9 1968.1,1937.7 1961.6,1940.2 1965.5,1927.3 1960.3,1924.7 1968.1,1914.4 1975.8,1911.8" fill="#ecfefe" stroke="#1ef0f8" stroke-width="1.8"/>
<polygon points="1981.0,1935.1 1991.4,1927.3 2001.7,1917.0 2012.1,1911.8 2009.5,1922.1 2014.6,1927.3 2022.4,1924.7 2032.7,1927.3 2043.1,1926.0 2048.3,1932.5 2058.6,1935.1 2063.8,1932.5 2068.9,1945.4 2056.0,1940.2 2048.3,1950.6 2043.1,1937.7 2032.7,1937.7 2027.6,1940.2 2017.2,1935.1 2006.9,1940.2 1996.5,1942.8 1991.4,1937.7" fill="#ecfefe" stroke="#1ef0f8" stroke-width="1.8"/>
<polygon points="1978.4,1948.0 1986.2,1944.1 1991.4,1950.6 2001.7,1958.3 2009.5,1963.5 2014.6,1953.2 2025.0,1945.4 2030.2,1953.2 2027.6,1963.5 2032.7,1973.9 2043.1,1976.5 2035.3,1986.8 2030.2,1984.2 2025.0,1973.9 2017.2,1976.5 2014.6,1966.1 2006.9,1968.7 1996.5,1966.1 1986.2,1960.9 1981.0,1955.8" fill="#ecfefe" stroke="#1ef0f8" stroke-width="1.8"/>
<polygon points="1857.2,2011.6 1863.1,2007.2 1864.5,2017.5 1867.5,2024.8 1857.2,2023.3 1855.7,2017.5" fill="#ecfefe" stroke="#1ef0f8" stroke-width="1.5"/>
<ellipse cx="1719.0" cy="1726.4" rx="3.7" ry="5.2" fill="none" stroke="#1ef0f8" stroke-width="1.2"/>
<ellipse cx="1711.7" cy="1811.7" rx="3.7" ry="6.7" fill="none" stroke="#1ef0f8" stroke-width="1.2"/>
<ellipse cx="1760.2" cy="1832.3" rx="4.5" ry="3.4" fill="none" stroke="#1ef0f8" stroke-width="1.2"/>
<ellipse cx="2004.2" cy="1626.5" rx="3.7" ry="2.3" fill="none" stroke="#1ef0f8" stroke-width="1.2"/>
<ellipse cx="2107.1" cy="1632.3" rx="9.6" ry="3.7" fill="none" stroke="#1ef0f8" stroke-width="1.2"/>
<ellipse cx="2027.7" cy="1702.9" rx="2.3" ry="3.0" fill="none" stroke="#1ef0f8" stroke-width="1.2"/>
<ellipse cx="2045.3" cy="1722.0" rx="5.2" ry="2.3" fill="none" stroke="#1ef0f8" stroke-width="1.2"/>
<ellipse cx="1816.0" cy="2008.6" rx="3.0" ry="2.3" fill="none" stroke="#1ef0f8" stroke-width="1.2"/>
<ellipse cx="1829.3" cy="2007.2" rx="2.6" ry="2.3" fill="none" stroke="#1ef0f8" stroke-width="1.2"/>
<ellipse cx="1571.4" cy="1866.1" rx="2.3" ry="2.3" fill="none" stroke="#1ef0f8" stroke-width="1.2"/>
<ellipse cx="1579.4" cy="1882.2" rx="3.7" ry="6.7" fill="none" stroke="#1ef0f8" stroke-width="1.2"/>
<ellipse cx="1633.8" cy="1776.4" rx="3.7" ry="2.3" fill="none" stroke="#1ef0f8" stroke-width="1.2"/>
<ellipse cx="1522.0" cy="1757.3" rx="2.3" ry="2.3" fill="none" stroke="#1ef0f8" stroke-width="1.2"/>
<circle cx="1748.4" cy="1767.3" r="7.3" fill="#ff0000"/>
</g>
<text x="1937" y="2029" font-size="19.5">C23</text>
<clipPath id="m4c"><rect x="2144" y="1617" width="644" height="420"/></clipPath>
<g clip-path="url(#m4c)">
<rect x="2144" y="1617" width="644" height="420" fill="#dedede"/>
<polygon points="2144.0,1617.0 2149.2,1632.5 2151.8,1648.0 2144.0,1668.7" fill="#cfcfcf" stroke="#f4f4f4" stroke-width="1.2"/>
<polygon points="2144.0,1679.0 2159.5,1689.4 2169.9,1720.4 2162.1,1746.3 2172.4,1785.0 2169.9,1821.2 2151.8,1829.0 2144.0,1831.6" fill="#cfcfcf" stroke="#f4f4f4" stroke-width="1.2"/>
<polygon points="2144.0,1860.0 2159.5,1865.2 2177.6,1872.9 2175.0,1885.9 2159.5,1896.2 2151.8,1904.0 2146.6,1927.2 2144.0,1945.3" fill="#cfcfcf" stroke="#f4f4f4" stroke-width="1.2"/>
<polygon points="2790.0,1746.3 2778.1,1754.1 2772.9,1764.4 2775.5,1779.9 2767.7,1798.0 2760.0,1818.7 2752.2,1844.6 2748.3,1862.7 2749.6,1888.5 2757.4,1906.6 2754.8,1911.8 2734.1,1909.2 2705.7,1914.4 2679.8,1911.8 2656.5,1914.4 2646.2,1922.1 2643.6,1932.5 2630.7,1940.2 2615.2,1942.8 2612.6,1953.2 2615.2,1979.0 2625.5,2004.9 2625.5,2037.0 2790.0,2037.0 2790.0,1746.0" fill="#d0d0d0" stroke="#f4f4f4" stroke-width="1.2"/>
<polygon points="2427.5,1617.0 2790.0,1617.0 2791.0,1680.4 2778.1,1679.1 2760.0,1681.6 2747.0,1689.4 2736.7,1707.5 2731.5,1723.0 2718.6,1736.0 2692.7,1741.1 2666.9,1738.5 2651.4,1737.2 2641.0,1739.8 2628.1,1751.5 2615.2,1763.1 2615.2,1763.1 2597.1,1751.5 2579.0,1743.7 2560.9,1733.4 2558.3,1707.5 2553.1,1681.6 2547.9,1655.8 2542.8,1637.7 2527.2,1645.4 2511.7,1655.8 2493.6,1661.0 2475.5,1658.4 2460.0,1637.7 2443.7,1635.3 2424.6,1632.3" fill="#b1b1b1"/>
<polyline points="2177.6,1871.7 2198.3,1854.8 2221.6,1844.5 2229.3,1834.2 2257.8,1810.9 2268.1,1813.5 2286.2,1821.2 2314.6,1822.5" fill="none" stroke="#f8f8f8" stroke-width="1.2"/>
<polyline points="2144.0,1991.9 2159.5,2004.8 2172.4,2036.9" fill="none" stroke="#f8f8f8" stroke-width="1.2"/>
<polyline points="2558.3,1942.8 2568.6,1948.0 2584.1,1953.2 2604.8,1953.2 2615.2,1942.8" fill="none" stroke="#f8f8f8" stroke-width="1.2"/>
<polyline points="2257.8,1810.9 2262.9,1803.1 2255.2,1772.1 2252.6,1761.8" fill="none" stroke="#f8f8f8" stroke-width="1.2"/>
<polyline points="2281.0,1617.0 2273.3,1655.8 2262.9,1673.9 2257.8,1704.9 2244.8,1715.2 2242.2,1730.8 2247.4,1746.3 2252.6,1748.9 2247.4,1756.6 2257.8,1769.5" fill="none" stroke="#c8dcf0" stroke-width="0.9"/>
<polyline points="2257.8,1813.5 2260.3,1849.7 2252.6,1862.6 2250.0,1875.5 2242.2,1911.7 2250.0,1937.6 2231.9,1937.6 2226.7,1968.6 2231.9,1997.0 2244.8,2004.8 2237.1,2036.9" fill="none" stroke="#c8dcf0" stroke-width="0.9"/>
<polyline points="2399.6,1877.8 2429.0,1867.5 2458.4,1858.7 2487.8,1852.8 2531.9,1852.8 2552.5,1858.7 2578.9,1864.6 2634.8,1855.8 2678.9,1841.1" fill="none" stroke="#c8dcf0" stroke-width="0.9"/>
<polyline points="2487.8,1894.0 2496.6,1923.4 2502.5,1952.8" fill="none" stroke="#c8dcf0" stroke-width="0.9"/>
<polyline points="2329.0,1952.8 2299.6,1970.4 2276.1,1982.2 2258.5,1993.9 2246.7,2011.6 2235.0,2036.6" fill="none" stroke="#c8dcf0" stroke-width="0.9"/>
<polygon points="2424.6,1632.3 2443.7,1635.3 2460.0,1637.7 2475.5,1658.4 2493.6,1661.0 2511.7,1655.8 2527.2,1645.4 2542.8,1637.7 2547.9,1655.8 2553.1,1681.6 2558.3,1707.5 2560.9,1733.4 2579.0,1743.7 2597.1,1751.5 2615.2,1763.1 2604.8,1782.5 2591.9,1800.6 2576.4,1810.9 2573.8,1823.9 2575.1,1836.8 2566.0,1849.7 2560.9,1857.5 2566.0,1870.4 2571.2,1888.5 2575.1,1909.2 2571.2,1922.1 2560.9,1932.5 2558.3,1942.8 2537.6,1945.4 2522.1,1948.0 2509.1,1953.2 2498.8,1958.3 2488.4,1966.1 2478.1,1973.9 2460.0,1975.2 2399.6,2005.7 2384.9,2010.1 2376.1,2014.5 2367.3,2020.4 2361.4,2023.3 2355.5,2014.5 2346.7,2008.6 2340.8,2002.8 2340.8,1982.2 2343.7,1967.5 2346.7,1955.7 2340.8,1941.0 2329.0,1932.2 2323.2,1923.4 2323.2,1911.6 2329.0,1905.7 2340.8,1894.0 2346.7,1876.3 2346.7,1864.6 2334.9,1852.8 2323.2,1841.1 2314.3,1829.3 2317.3,1823.4 2334.9,1817.6 2349.6,1811.7 2370.2,1805.8 2384.9,1802.9 2399.6,1805.8 2411.3,1802.9 2429.0,1797.0 2446.6,1794.0 2467.2,1789.6 2476.0,1782.3 2477.5,1767.6 2476.0,1752.9 2467.2,1741.1 2458.4,1729.4 2446.6,1711.7 2440.7,1694.1 2434.9,1682.3 2426.0,1664.7 2423.1,1647.0" fill="#ffffff" stroke="#f0f0f0" stroke-width="1.2"/>
<polyline points="2523.1,1773.5 2528.9,1794.0 2526.0,1805.8 2528.9,1823.4 2511.3,1852.8 2499.5,1870.5 2487.8,1882.2" fill="none" stroke="#eef4fa" stroke-width="1"/>
<polygon points="2661.7,1715.3 2674.6,1715.3 2677.2,1717.9 2697.9,1723.0 2708.3,1717.9 2716.0,1720.4 2726.4,1728.2 2728.9,1725.6 2723.8,1738.5 2718.6,1754.1 2708.3,1751.5 2703.1,1761.8 2695.3,1763.1 2697.9,1746.3 2703.1,1737.2 2685.0,1736.0 2672.1,1736.0 2661.7,1745.0 2661.7,1752.8 2650.1,1752.8 2650.1,1741.1 2659.1,1736.0" fill="#a2a2a2" stroke="#7a7a7a" stroke-width="0.8"/>
<polygon points="2635.8,1782.5 2641.0,1777.3 2661.7,1767.0 2677.2,1763.1 2681.1,1767.0 2672.1,1782.5 2661.7,1785.1 2646.2,1803.2 2638.4,1798.0" fill="#a2a2a2" stroke="#7a7a7a" stroke-width="0.8"/>
<polygon points="2687.6,1808.4 2692.7,1800.6 2703.1,1798.0 2700.5,1821.3" fill="#a2a2a2" stroke="#7a7a7a" stroke-width="0.8"/>
<polygon points="2708.3,1782.5 2718.6,1779.9 2714.7,1792.8 2709.5,1792.8" fill="#a2a2a2" stroke="#7a7a7a" stroke-width="0.8"/>
<polygon points="2646.2,1821.3 2651.4,1818.7 2656.5,1823.9 2656.5,1829.1 2646.2,1831.6 2648.8,1826.5" fill="#a2a2a2" stroke="#7a7a7a" stroke-width="0.8"/>
<polygon points="2664.3,1826.5 2666.9,1826.5 2670.8,1836.8 2661.7,1843.3 2666.9,1836.8" fill="#a2a2a2" stroke="#7a7a7a" stroke-width="0.8"/>
<polygon points="2663.0,1867.8 2677.2,1862.7 2694.0,1861.4 2692.7,1865.3 2679.8,1870.4 2679.8,1885.9 2673.3,1885.9 2673.3,1878.2 2663.0,1876.9" fill="#a2a2a2" stroke="#7a7a7a" stroke-width="0.8"/>
<polygon points="2713.4,1842.0 2718.6,1835.5 2728.9,1840.7" fill="#a2a2a2" stroke="#7a7a7a" stroke-width="0.8"/>
<polygon points="2741.9,1658.4 2760.0,1642.9 2767.7,1640.3 2772.9,1650.6 2785.8,1640.3 2790.0,1640.3 2790.0,1668.7 2775.5,1666.1 2760.0,1672.6 2752.2,1668.7 2743.2,1663.5" fill="#a2a2a2" stroke="#7a7a7a" stroke-width="0.8"/>
<polygon points="2752.2,1681.6 2762.6,1677.8 2765.1,1685.5 2758.7,1689.4" fill="#a2a2a2" stroke="#7a7a7a" stroke-width="0.8"/>
<polygon points="2690.2,1635.1 2697.9,1635.1 2699.2,1645.4 2692.7,1647.5" fill="#a2a2a2" stroke="#7a7a7a" stroke-width="0.8"/>
<polygon points="2683.7,1653.2 2695.3,1662.3 2686.3,1662.3" fill="#a2a2a2" stroke="#7a7a7a" stroke-width="0.8"/>
<polygon points="2709.5,1668.7 2716.0,1671.3 2716.0,1676.5" fill="#a2a2a2" stroke="#7a7a7a" stroke-width="0.8"/>
<polygon points="2753.5,1627.3 2762.6,1627.3 2765.1,1632.5 2760.0,1633.8" fill="#a2a2a2" stroke="#7a7a7a" stroke-width="0.8"/>
<polygon points="2734.1,1721.7 2741.9,1712.7 2745.8,1724.3" fill="#a2a2a2" stroke="#7a7a7a" stroke-width="0.8"/>
<polygon points="2772.9,1720.4 2778.1,1717.9 2790.0,1719.1 2790.0,1725.6 2775.5,1724.3" fill="#a2a2a2" stroke="#7a7a7a" stroke-width="0.8"/>
<polygon points="2760.0,1729.5 2763.9,1729.5 2763.9,1734.7 2760.0,1733.4" fill="#a2a2a2" stroke="#7a7a7a" stroke-width="0.8"/>
<polygon points="2721.2,1764.4 2727.6,1767.0 2728.9,1769.6 2721.2,1769.6" fill="#a2a2a2" stroke="#7a7a7a" stroke-width="0.8"/>
<polygon points="2712.1,1767.0 2714.7,1757.9 2716.0,1767.0" fill="#a2a2a2" stroke="#7a7a7a" stroke-width="0.8"/>
<polygon points="2776.8,1773.5 2790.0,1772.2 2788.4,1776.0" fill="#a2a2a2" stroke="#7a7a7a" stroke-width="0.8"/>
<polygon points="2716.0,1911.8 2723.8,1909.2 2726.4,1914.4 2718.6,1919.6" fill="#a2a2a2" stroke="#7a7a7a" stroke-width="0.8"/>
<polygon points="2674.6,1911.8 2682.4,1913.1 2685.0,1918.3 2678.5,1917.0" fill="#a2a2a2" stroke="#7a7a7a" stroke-width="0.8"/>
<polygon points="2633.3,1935.1 2651.4,1937.7 2656.5,1939.0 2635.8,1940.2" fill="#a2a2a2" stroke="#7a7a7a" stroke-width="0.8"/>
<polygon points="2653.9,1931.2 2657.8,1933.8 2656.0,1935.1" fill="#a2a2a2" stroke="#7a7a7a" stroke-width="0.8"/>
<polygon points="2622.9,1953.2 2626.8,1951.9 2626.8,1957.1" fill="#a2a2a2" stroke="#7a7a7a" stroke-width="0.8"/>
<polygon points="2744.5,1870.4 2747.0,1870.4 2747.0,1874.3 2744.5,1874.3" fill="#a2a2a2" stroke="#7a7a7a" stroke-width="0.8"/>
<polygon points="2734.1,1984.2 2736.7,1985.5 2734.1,1986.8" fill="#a2a2a2" stroke="#7a7a7a" stroke-width="0.8"/>
<polygon points="2460.0,1900.2 2470.3,1901.5 2475.5,1905.3 2472.9,1914.4 2467.8,1918.3 2460.0,1918.3" fill="#a2a2a2" stroke="#7a7a7a" stroke-width="0.8"/>
<polygon points="2533.7,1933.8 2540.2,1932.5 2545.3,1935.1 2542.8,1940.2 2537.6,1939.0" fill="#a2a2a2" stroke="#7a7a7a" stroke-width="0.8"/>
<polygon points="2554.4,1932.5 2558.3,1937.7 2559.6,1940.2 2554.4,1939.0" fill="#a2a2a2" stroke="#7a7a7a" stroke-width="0.8"/>
<polygon points="2460.0,1963.5 2467.8,1963.5 2475.5,1966.1 2478.1,1971.3 2467.8,1972.6 2460.0,1973.9" fill="#a2a2a2" stroke="#7a7a7a" stroke-width="0.8"/>
<polygon points="2537.6,2023.0 2545.3,2023.0 2547.9,2030.8 2550.5,2037.0 2537.6,2037.0" fill="#a2a2a2" stroke="#7a7a7a" stroke-width="0.8"/>
<polygon points="2515.6,2033.3 2524.6,2032.1 2524.6,2037.0 2514.3,2037.0" fill="#a2a2a2" stroke="#7a7a7a" stroke-width="0.8"/>
<polygon points="2392.2,1871.7 2398.7,1866.5 2402.5,1867.8 2405.1,1875.5 2399.9,1878.1 2392.2,1875.5" fill="#a2a2a2" stroke="#7a7a7a" stroke-width="0.8"/>
<polygon points="2438.7,1880.7 2443.9,1883.3 2443.9,1896.2 2438.7,1893.6" fill="#a2a2a2" stroke="#7a7a7a" stroke-width="0.8"/>
<polygon points="2449.1,1891.0 2454.2,1889.8 2455.5,1893.6 2449.1,1894.9" fill="#a2a2a2" stroke="#7a7a7a" stroke-width="0.8"/>
<polygon points="2443.9,1898.8 2451.7,1897.5 2454.2,1904.0 2446.5,1906.6" fill="#a2a2a2" stroke="#7a7a7a" stroke-width="0.8"/>
<polygon points="2452.9,1896.2 2464.6,1897.5 2470.0,1901.4 2470.0,1942.7 2464.6,1935.0 2454.2,1927.2 2451.7,1914.3 2456.8,1906.6" fill="#a2a2a2" stroke="#7a7a7a" stroke-width="0.8"/>
<polygon points="2358.6,1919.5 2366.3,1922.1 2368.9,1932.4 2361.2,1935.0" fill="#a2a2a2" stroke="#7a7a7a" stroke-width="0.8"/>
<polygon points="2394.8,1942.7 2402.5,1944.0 2401.2,1945.9 2394.8,1944.8" fill="#a2a2a2" stroke="#7a7a7a" stroke-width="0.8"/>
<polygon points="2402.5,1953.1 2409.0,1950.5 2406.4,1954.4" fill="#a2a2a2" stroke="#7a7a7a" stroke-width="0.8"/>
<polygon points="2436.1,1955.7 2443.9,1954.4 2445.2,1959.6 2437.4,1960.8" fill="#a2a2a2" stroke="#7a7a7a" stroke-width="0.8"/>
<polygon points="2437.4,1947.9 2446.5,1945.3 2447.8,1950.5 2438.7,1951.8" fill="#a2a2a2" stroke="#7a7a7a" stroke-width="0.8"/>
<polygon points="2433.6,1916.9 2436.1,1914.3 2437.4,1916.9" fill="#a2a2a2" stroke="#7a7a7a" stroke-width="0.8"/>
<polygon points="2459.4,1963.4 2470.0,1962.1 2470.0,1972.5 2463.3,1971.2" fill="#a2a2a2" stroke="#7a7a7a" stroke-width="0.8"/>
<polygon points="2437.4,1991.9 2441.3,1989.3 2440.0,1993.2" fill="#a2a2a2" stroke="#7a7a7a" stroke-width="0.8"/>
<polygon points="2252.6,1774.7 2257.8,1782.5 2255.2,1792.8 2262.9,1798.0 2265.5,1808.3 2257.8,1809.6 2250.0,1803.1 2242.2,1808.3 2240.9,1807.0 2250.0,1800.6 2253.9,1795.4 2252.6,1785.0" fill="#e8fefe" stroke="#1ef0f8" stroke-width="1.3"/>
<polygon points="2735.4,1909.2 2741.9,1911.8 2743.2,1915.7 2736.7,1914.4" fill="#e8fefe" stroke="#1ef0f8" stroke-width="1.3"/>
<text x="2226.3" y="1784.8" font-size="12.4" fill="#2222ee">Klerkskraal</text>
<text x="2705.3" y="1900.8" font-size="12.4" fill="#2222ee">Peter Wright</text>
<circle cx="2340.5" cy="1918.7" r="9" fill="#ff0000"/>
<text x="2352.5" y="1901.4" font-size="31.5" fill="#000066">90658</text>
<text x="2352.5" y="1940.6" font-size="31.5" fill="#000066">C2H075</text>
</g>
<text x="2592" y="2029" font-size="19.5">C23E</text>
<text x="1348.6" y="2073" font-size="12.2" text-anchor="middle">Data for 90658 from copies of DWS databases dated ~2025-08-05 Labs: DWS-RQIS. Plotted at Mike Silberbauer's PC on 2025-09-13 22:46:20 using barcode.R v20.2 (macro option) under R version 4.4.3 (2025-02-28). Queries: Michael.Silberbauer@gmail.com</text>
</svg></body></html>
